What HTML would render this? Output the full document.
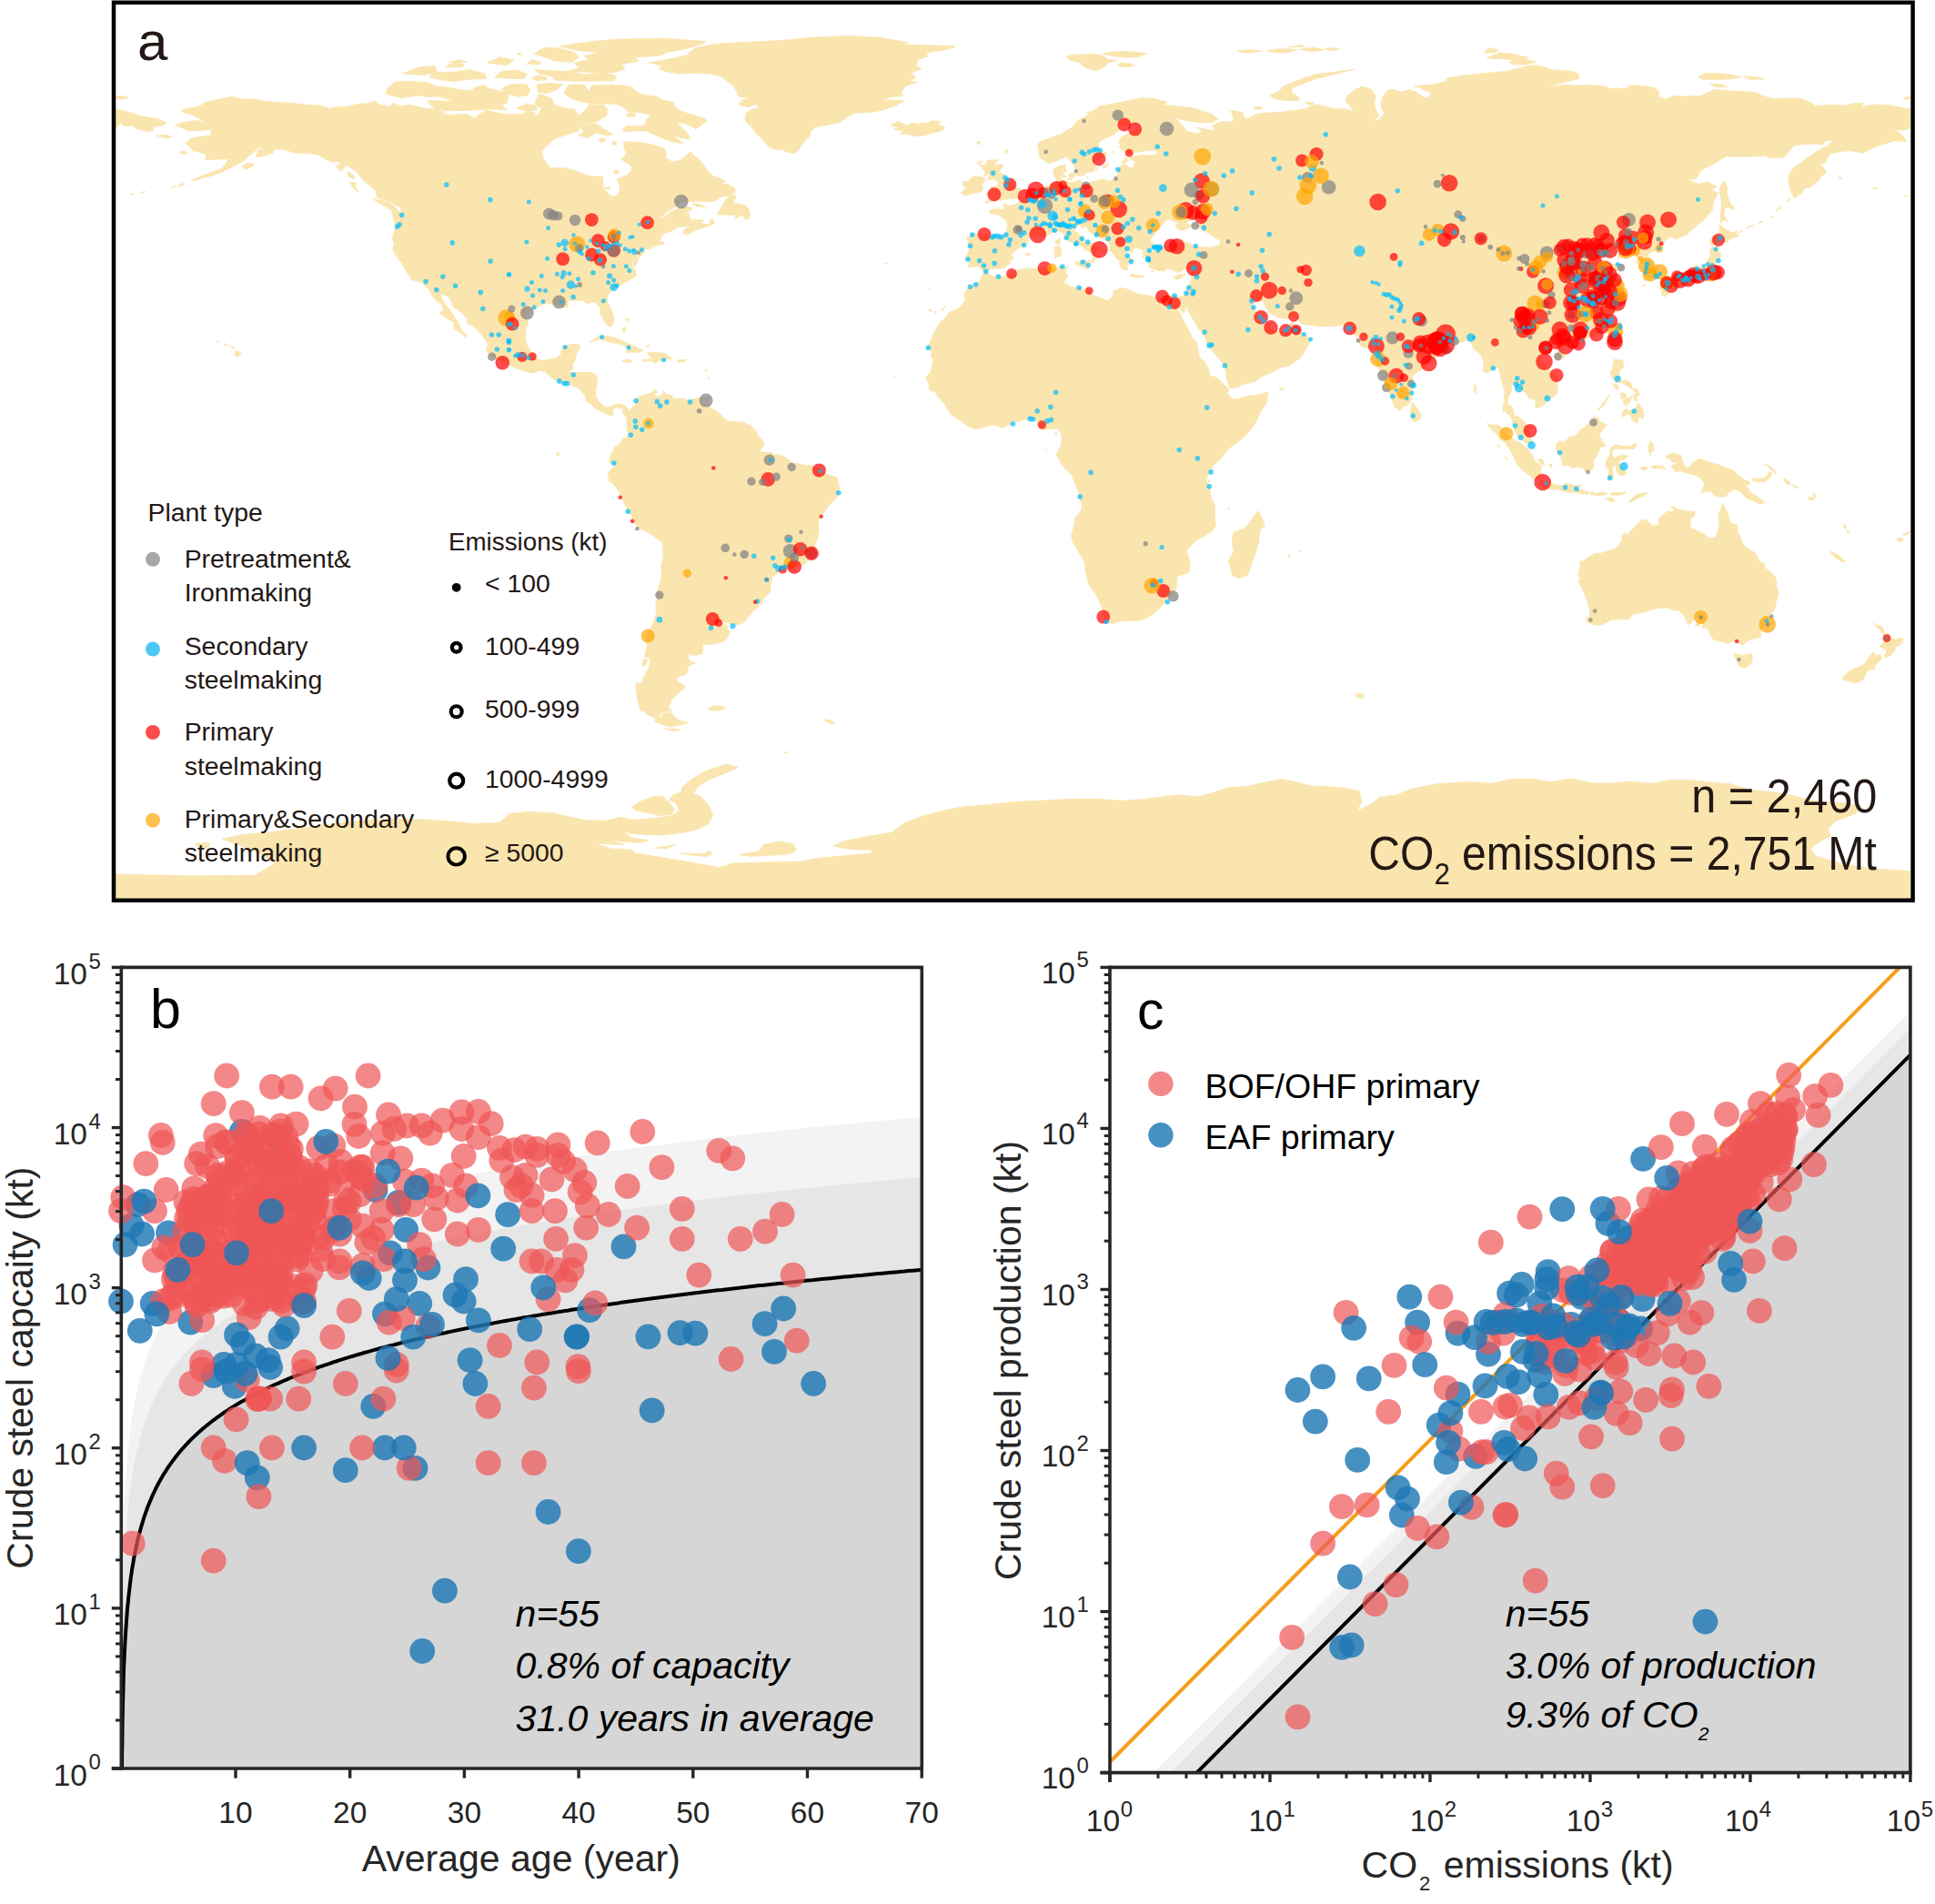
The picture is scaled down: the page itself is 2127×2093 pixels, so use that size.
<!DOCTYPE html><html><head><meta charset="utf-8"><title>Figure</title><style>html,body{margin:0;padding:0;background:#fff}svg{display:block}</style></head><body><svg width="2127" height="2093" viewBox="0 0 2127 2093" font-family="'Liberation Sans', Arial, sans-serif">
<defs><clipPath id="mapclip"><rect x="125" y="3" width="1977.5" height="986.5"/></clipPath></defs>
<rect width="2127" height="2093" fill="#fff"/>
<g clip-path="url(#mapclip)">
<path fill="#FAE5AE" stroke="#FAE5AE" stroke-width="0.8" stroke-linejoin="round" d="M192.2,137.7 201.0,134.4 215.8,132.3 226.7,135.0 217.4,129.5 211.9,126.3 199.3,122.7 202.6,119.7 219.1,117.0 225.6,112.6 239.3,109.3 255.2,106.3 266.7,109.1 280.4,109.1 291.4,111.2 305.1,112.6 324.3,113.7 340.7,115.6 351.7,115.9 362.6,119.4 370.9,117.5 381.8,117.0 395.5,114.2 403.7,113.7 412.0,111.0 417.4,115.3 428.4,117.0 432.2,113.2 439.4,116.4 450.3,115.3 466.8,119.2 480.5,119.7 488.7,123.5 483.2,125.4 499.6,126.3 513.3,125.2 521.6,130.1 527.0,125.2 535.3,121.9 529.8,119.7 546.2,124.1 557.2,125.7 573.6,125.7 579.1,121.9 587.3,123.3 590.1,128.4 595.5,119.2 587.3,113.7 592.8,103.3 606.5,108.2 609.2,115.3 617.5,117.5 622.9,119.7 631.2,119.7 636.6,127.3 644.9,119.2 647.6,114.8 664.0,115.3 667.9,120.3 666.8,127.3 655.8,133.9 642.1,135.5 636.6,139.4 636.6,143.7 617.5,149.7 609.2,153.0 601.0,160.1 595.5,165.6 597.2,174.9 604.9,184.7 620.2,184.7 631.2,187.4 647.6,193.4 662.4,194.5 662.9,206.5 666.8,210.9 672.3,215.8 677.7,215.8 681.6,209.2 680.5,201.1 677.7,197.2 688.7,192.9 694.2,187.4 693.6,181.9 683.2,175.4 688.7,168.3 686.0,162.8 686.0,155.7 699.7,156.3 710.6,157.4 718.8,159.6 729.8,162.8 732.5,168.3 731.4,173.8 739.1,178.1 749.0,175.4 754.5,171.0 758.8,166.1 762.7,171.0 769.3,176.5 774.7,183.0 777.5,187.4 783.0,192.9 790.1,195.6 798.3,199.4 791.2,201.1 801.0,203.2 807.6,206.5 808.2,210.9 803.8,214.7 792.8,216.3 784.6,221.3 773.6,221.5 759.9,221.5 749.0,221.8 743.5,226.7 735.3,231.1 729.8,236.6 723.2,240.4 729.8,239.3 738.0,232.2 749.0,227.8 759.9,227.8 761.0,229.5 754.5,233.8 750.1,233.8 757.2,234.9 758.3,239.3 759.9,243.1 763.8,244.7 773.6,245.8 779.1,246.9 782.4,239.3 785.7,244.7 779.1,248.6 765.4,252.4 754.5,258.4 750.6,256.2 751.7,252.9 759.9,248.6 751.7,249.1 745.1,249.7 738.0,254.0 729.8,256.8 726.0,261.1 726.5,263.3 724.3,264.9 729.8,266.6 729.8,268.2 724.3,269.3 718.8,270.4 709.5,272.0 718.8,272.0 708.4,274.2 707.9,277.5 702.9,283.0 699.7,280.2 701.9,285.7 699.1,290.6 696.9,293.9 695.3,285.7 694.2,281.9 694.7,293.9 697.5,296.1 699.7,303.2 694.2,306.4 686.5,310.8 679.4,314.6 670.6,320.6 667.3,326.6 667.9,332.1 671.7,340.3 675.0,348.5 674.5,355.0 672.3,358.3 669.0,358.9 665.1,353.9 659.7,344.1 660.2,338.7 654.7,332.6 651.4,332.1 646.0,333.7 639.4,329.9 631.2,330.5 624.0,330.5 624.6,337.0 623.5,337.8 617.5,337.0 610.3,334.8 601.0,333.5 594.4,335.4 590.1,338.7 581.8,343.6 579.6,349.6 580.7,354.5 578.0,362.1 577.5,373.1 580.2,381.2 585.1,389.4 588.4,393.3 595.5,396.5 603.8,394.9 610.3,394.3 616.4,390.0 618.0,381.2 628.4,378.5 636.1,378.5 637.7,382.3 633.9,387.8 632.3,396.0 629.5,400.4 629.5,405.8 626.2,409.1 631.7,409.6 642.1,409.1 651.4,409.6 656.9,414.0 655.8,422.2 654.7,430.4 654.7,435.8 658.6,441.3 662.9,445.7 666.8,447.9 670.6,447.3 675.5,444.8 680.5,443.8 686.5,445.7 689.5,448.7 686.5,456.6 683.8,452.2 685.4,450.0 677.7,447.3 672.8,450.6 675.0,455.5 670.1,456.6 665.7,454.4 659.1,451.1 654.7,449.5 649.2,443.5 647.1,443.5 643.2,439.1 643.8,435.3 637.7,428.7 632.8,424.9 628.4,423.8 620.2,421.1 612.0,418.9 607.6,416.2 598.8,408.5 593.3,407.4 584.6,410.2 573.6,406.9 565.9,404.2 555.0,398.2 546.2,396.0 541.8,391.6 535.3,386.7 534.2,384.5 536.4,378.5 530.3,369.2 521.6,359.4 513.9,355.6 513.3,350.1 507.3,343.6 498.5,337.6 493.6,326.6 484.3,322.3 484.8,326.6 487.6,332.1 494.2,340.3 499.6,348.5 503.5,353.9 506.8,362.1 513.3,368.7 511.1,370.9 509.0,367.6 499.1,361.6 498.5,353.9 490.9,350.1 483.2,344.1 487.6,340.3 485.4,334.8 478.8,329.9 474.4,323.9 471.7,318.4 464.6,311.4 464.0,310.3 452.5,307.5 445.4,296.1 442.1,289.5 439.4,286.8 435.0,280.8 431.7,275.3 433.3,268.2 431.1,262.2 433.9,252.9 433.9,243.6 430.0,231.6 439.4,232.2 442.1,236.6 440.5,228.4 437.7,226.7 429.5,222.9 420.2,218.5 414.7,217.4 413.1,210.3 406.5,203.8 399.4,198.3 395.5,192.9 390.0,187.4 381.8,181.9 370.9,177.6 365.4,178.1 358.8,175.4 348.9,169.9 338.0,168.3 324.3,168.3 313.3,164.5 302.4,163.9 299.6,168.3 291.4,171.0 281.5,172.7 283.2,165.6 291.4,161.7 283.2,162.8 277.7,168.3 272.2,172.7 268.4,176.5 258.5,181.9 247.6,187.4 233.9,192.9 222.9,195.6 211.9,197.8 220.2,194.0 231.1,190.1 244.8,184.7 250.3,176.5 253.0,174.9 244.8,174.9 233.9,175.4 225.6,175.9 226.7,170.5 222.9,168.3 211.9,165.6 207.6,160.1 203.7,157.4 210.3,151.9 220.2,150.3 231.1,149.2 232.2,143.7 231.1,142.1 220.2,143.7 207.0,143.7 201.0,141.0ZM689.5,448.7 692.3,452.2 695.3,447.3 699.1,444.6 699.4,439.1 703.2,435.6 706.8,434.2 713.9,432.8 720.8,427.9 722.7,431.5 719.1,432.8 721.0,436.1 724.3,435.8 728.7,433.7 729.8,429.3 730.9,433.1 738.6,434.7 740.8,438.6 746.8,438.0 751.4,438.0 756.1,440.8 758.8,440.2 761.6,438.6 768.7,437.5 774.2,437.5 770.4,440.2 772.0,442.4 775.8,442.4 780.2,446.8 781.9,449.5 785.7,450.6 792.8,456.0 794.5,458.8 799.9,463.1 811.2,463.7 817.5,464.2 826.8,469.1 830.1,473.0 833.9,479.5 839.4,486.1 839.4,490.4 835.0,495.9 837.8,497.0 848.2,497.5 850.4,499.7 855.8,499.7 861.3,501.9 869.0,506.8 870.6,509.6 875.0,509.0 884.3,511.7 891.5,511.5 899.7,514.5 902.4,516.1 909.0,521.6 916.1,523.7 920.2,524.8 921.6,531.4 922.7,534.9 922.1,539.9 920.0,546.7 917.8,548.9 913.9,553.2 910.4,555.7 907.4,561.4 902.4,566.9 899.7,572.3 899.7,576.7 900.2,582.2 899.1,588.7 898.6,592.5 895.8,597.5 895.3,602.9 892.6,606.7 889.3,612.2 888.7,616.0 883.8,620.9 876.7,621.5 869.0,622.6 864.6,625.8 859.7,626.9 853.6,630.8 848.7,634.6 847.1,642.8 847.3,646.6 846.0,651.5 841.0,655.9 838.3,660.8 833.9,666.8 827.9,671.4 820.8,680.2 817.5,684.3 812.3,686.7 805.4,686.5 796.7,684.0 793.4,681.5 793.6,684.8 799.9,688.6 799.1,691.9 802.7,694.1 798.0,703.4 791.7,706.7 779.1,708.8 772.5,707.7 772.5,714.3 772.0,718.7 763.8,720.6 757.2,718.7 756.7,722.5 757.7,726.3 764.9,729.0 761.0,730.1 756.9,732.3 755.6,738.9 753.4,741.6 746.2,743.2 743.5,747.1 746.2,750.3 752.3,753.1 752.5,756.6 744.6,762.3 742.4,765.1 738.0,769.4 734.7,777.6 738.6,781.7 732.5,782.5 724.9,784.2 724.9,789.6 722.7,790.2 716.1,787.5 710.6,784.7 707.9,781.5 704.0,780.9 702.4,774.4 700.8,768.9 699.7,762.3 699.1,756.9 699.1,750.9 705.1,751.4 707.9,744.3 710.6,738.9 713.4,733.4 714.5,726.9 713.6,722.5 709.0,722.5 709.5,717.0 711.2,711.6 710.6,706.1 710.1,701.7 710.1,699.0 712.5,696.6 714.5,691.4 716.6,688.1 719.1,682.1 720.8,676.4 721.6,670.6 720.8,661.3 722.4,659.4 721.6,653.1 724.6,643.9 726.5,637.9 727.1,632.4 727.6,625.0 726.5,622.0 728.7,616.0 729.0,606.2 728.2,596.9 722.7,592.5 715.0,587.1 707.9,583.3 701.3,580.0 695.8,572.3 694.2,566.9 690.6,561.7 687.6,556.0 684.9,550.5 682.7,545.6 680.5,540.1 676.1,534.1 672.3,530.3 669.0,528.7 669.5,524.3 667.7,521.5 670.1,517.2 673.4,514.5 675.3,513.4 675.5,508.5 673.4,510.1 669.8,507.9 670.9,501.4 672.8,497.5 674.5,495.4 674.7,491.5 676.9,490.7 681.6,487.7 683.8,482.2 688.7,481.7 690.9,474.9 688.7,473.0 689.5,465.9 688.7,462.0 689.2,459.3 686.5,456.6ZM737.5,783.4 727.6,784.7 727.1,788.6 718.8,791.3 721.6,794.0 729.8,797.3 738.0,798.9 747.3,797.3 756.7,794.3 749.0,792.4 743.5,790.2 739.7,785.8ZM778.0,778.7 784.6,776.0 795.6,776.5 796.7,778.5 791.2,780.9 781.9,780.9ZM905.2,790.7 913.4,791.8 917.2,794.8 914.5,795.7 907.9,792.9ZM707.9,724.1 711.2,724.7 710.6,730.7 706.2,732.3 706.8,728.0ZM713.4,68.9 740.8,64.0 757.2,60.2 757.2,57.5 765.4,52.5 784.6,48.7 812.0,46.5 839.4,45.5 866.8,43.8 894.2,41.1 932.6,39.4 965.4,41.1 981.9,43.8 998.3,47.1 992.8,49.3 1020.2,49.8 1047.6,50.4 1050.4,51.5 1036.7,55.3 1017.5,58.0 1020.2,61.8 1009.3,65.7 1006.5,71.7 1013.1,76.0 1001.1,79.8 1006.5,85.3 1001.1,89.1 1009.3,90.2 995.6,94.6 990.1,101.7 992.8,105.5 979.1,106.6 968.2,110.4 981.9,109.9 993.9,111.0 984.6,115.9 970.9,120.8 957.2,123.5 940.8,124.1 932.6,127.9 924.3,133.9 913.4,136.6 907.4,137.7 896.9,139.4 891.5,143.7 890.4,149.2 884.9,154.7 880.5,160.1 877.8,165.0 872.8,168.6 865.2,167.2 859.7,164.5 850.4,163.9 844.9,160.7 840.5,156.3 835.6,150.8 830.1,145.4 826.8,139.9 820.2,134.4 819.1,130.1 820.2,124.6 825.7,120.8 833.9,118.1 831.2,114.8 817.5,112.1 814.7,109.9 825.7,108.2 812.0,106.1 809.3,100.0 806.5,94.6 798.3,88.6 792.8,83.7 779.1,80.9 762.7,80.4 746.2,80.9 732.5,78.8 724.3,75.5 727.1,72.2ZM813.1,115.9 823.0,117.5 829.0,115.3 820.2,112.1 812.5,113.2ZM1254.8,107.7 1266.8,108.2 1283.3,112.1 1277.8,115.3 1294.2,117.0 1310.7,118.6 1332.6,125.7 1339.2,131.2 1332.6,134.4 1321.6,135.0 1305.2,132.8 1291.5,129.5 1302.5,141.0 1304.7,144.3 1316.2,147.0 1321.6,144.3 1315.1,139.9 1331.5,143.2 1335.3,143.2 1332.6,137.7 1343.6,133.4 1354.5,134.4 1355.6,130.1 1353.4,121.9 1350.7,120.8 1365.5,123.5 1368.2,130.1 1373.7,130.1 1379.2,126.3 1387.4,124.6 1406.6,123.0 1409.3,123.5 1417.5,121.9 1428.5,120.8 1436.7,119.2 1444.9,114.8 1450.4,115.3 1466.9,119.7 1477.8,119.7 1488.8,123.0 1483.3,115.9 1479.5,111.0 1480.6,105.5 1488.8,99.0 1497.0,95.1 1508.0,98.4 1512.3,105.5 1510.7,113.7 1512.3,120.8 1516.2,127.3 1508.0,133.9 1516.2,131.2 1521.7,124.6 1518.9,119.2 1517.8,113.7 1520.6,105.5 1524.4,100.0 1529.9,97.9 1539.7,101.1 1543.6,100.6 1549.1,98.4 1556.2,101.1 1562.8,105.5 1568.2,108.2 1573.7,102.8 1560.0,96.2 1554.5,94.6 1576.5,93.0 1590.2,89.1 1590.2,85.9 1612.1,82.6 1634.0,80.4 1655.9,78.2 1666.9,75.5 1685.0,71.7 1697.0,73.3 1705.2,76.6 1727.2,78.2 1735.4,81.5 1735.4,86.4 1713.5,91.9 1697.0,96.2 1718.9,93.5 1732.6,94.0 1746.3,93.5 1762.8,94.6 1768.3,97.3 1787.4,97.3 1792.9,93.5 1806.6,94.6 1817.6,96.2 1823.1,100.0 1823.1,106.6 1831.3,109.3 1839.5,105.0 1847.7,106.1 1858.7,105.5 1869.6,105.5 1879.5,100.6 1885.0,98.4 1891.6,99.0 1913.5,100.6 1929.9,101.7 1938.1,105.5 1949.1,108.8 1962.8,108.2 1979.2,108.2 1990.2,112.6 1995.7,116.4 2012.1,115.3 2028.6,115.9 2036.8,113.7 2047.7,113.2 2047.7,119.2 2050.5,116.4 2061.4,114.8 2077.9,115.9 2094.3,119.2 2099.8,119.4 2099.8,141.0 2091.6,143.2 2083.4,142.6 2077.9,141.5 2086.1,144.8 2091.6,149.2 2096.0,155.7 2083.4,154.7 2069.7,158.5 2058.7,162.8 2047.7,168.3 2034.0,165.6 2023.1,166.7 2012.1,168.8 2008.3,173.8 2006.6,179.2 2001.2,180.3 2007.7,189.0 2000.1,195.6 2001.2,196.7 1990.2,205.4 1983.1,207.1 1980.9,212.0 1972.1,218.0 1968.3,209.2 1966.1,201.1 1966.1,192.9 1971.0,184.7 1979.2,179.2 1990.2,171.0 1998.4,165.6 2009.4,160.1 2014.9,154.7 2006.6,154.7 2003.9,159.0 1991.8,157.9 1979.2,159.0 1972.1,160.1 1962.8,171.0 1960.1,172.7 1946.4,173.8 1939.8,171.0 1927.2,172.1 1910.7,172.1 1897.0,172.1 1883.3,180.3 1869.6,187.4 1864.2,196.7 1854.3,197.2 1866.9,202.2 1877.9,200.0 1887.2,205.4 1880.6,209.2 1888.3,212.0 1883.3,222.9 1882.2,231.1 1872.4,242.0 1861.4,251.3 1853.2,258.4 1842.2,262.8 1836.8,260.0 1829.6,264.9 1824.2,270.4 1824.2,273.1 1812.1,278.6 1811.6,281.9 1817.0,285.7 1822.5,293.9 1823.1,299.3 1822.0,303.7 1814.8,305.9 1806.6,308.6 1805.5,302.1 1807.2,296.6 1807.7,292.8 1807.2,290.1 1798.4,289.5 1800.0,285.1 1798.4,280.2 1794.6,278.0 1787.4,279.7 1779.8,283.5 1777.6,284.3 1779.2,280.2 1783.1,274.8 1776.5,272.6 1768.8,278.0 1760.0,281.9 1758.4,285.1 1765.0,289.5 1765.5,292.8 1772.6,290.6 1776.5,290.1 1785.2,291.7 1784.2,294.4 1774.8,298.2 1772.6,299.3 1767.2,304.8 1772.6,308.6 1775.9,315.7 1780.9,321.7 1781.4,327.2 1773.7,330.5 1780.9,332.6 1779.8,341.4 1774.8,343.6 1769.4,353.9 1761.1,362.1 1752.9,368.7 1739.8,373.6 1735.4,374.7 1726.1,378.0 1718.9,380.1 1718.4,385.1 1715.1,385.1 1714.6,379.1 1708.0,378.0 1705.2,378.5 1698.7,382.3 1693.2,392.2 1697.0,399.3 1702.5,405.8 1710.2,412.4 1712.4,422.2 1711.8,430.4 1710.7,433.7 1705.2,437.5 1699.8,439.7 1698.1,444.6 1689.9,448.4 1687.7,448.9 1688.3,441.3 1686.1,439.1 1680.6,438.0 1677.3,432.0 1673.5,429.3 1666.9,426.6 1666.3,422.7 1664.1,422.2 1661.4,423.3 1661.4,430.4 1658.7,435.8 1657.0,440.2 1657.6,445.1 1660.9,445.7 1663.0,450.6 1664.7,456.6 1670.7,459.3 1674.0,462.0 1680.0,469.7 1680.6,475.2 1682.8,482.8 1685.0,488.3 1680.6,488.8 1675.1,485.0 1668.5,480.1 1664.7,473.0 1663.0,466.4 1661.9,460.4 1659.2,456.6 1653.7,452.2 1652.1,452.8 1652.1,446.8 1653.7,441.3 1653.2,435.8 1654.3,430.4 1651.5,422.2 1650.4,416.7 1648.8,411.3 1648.2,405.8 1644.4,403.1 1640.6,406.4 1635.6,409.6 1630.2,408.5 1631.3,400.4 1629.6,393.8 1626.3,387.8 1622.5,386.2 1619.2,382.3 1616.5,374.1 1612.1,372.5 1609.3,375.8 1606.6,376.3 1601.1,377.4 1596.2,377.4 1590.2,378.5 1589.6,382.3 1588.5,385.1 1581.9,388.3 1578.7,392.2 1571.0,398.7 1564.4,405.3 1558.4,409.1 1552.9,412.4 1552.3,419.5 1553.4,424.4 1551.3,431.5 1551.3,439.7 1547.4,445.1 1541.9,447.3 1538.4,451.8 1532.6,446.8 1531.0,441.3 1528.2,433.1 1523.3,425.5 1519.5,415.1 1517.8,411.3 1515.1,403.1 1512.3,392.2 1511.8,384.0 1511.2,378.0 1510.7,374.7 1509.1,380.1 1502.5,382.9 1497.0,381.2 1491.5,374.1 1498.1,372.0 1491.5,370.3 1488.8,367.0 1482.8,364.9 1480.0,360.5 1477.8,357.2 1466.9,358.3 1453.2,358.9 1450.4,358.9 1439.5,357.2 1430.1,356.1 1425.8,349.6 1421.9,347.9 1413.2,350.7 1403.8,348.5 1395.6,344.1 1391.8,338.1 1388.5,332.1 1381.9,329.9 1379.2,332.1 1376.4,335.4 1379.2,340.3 1381.9,345.8 1387.4,350.1 1388.5,351.8 1390.7,356.7 1391.8,361.0 1391.8,356.7 1394.0,353.4 1396.2,358.3 1394.5,362.1 1401.1,363.8 1409.3,364.3 1412.1,362.1 1416.4,357.8 1420.8,353.9 1422.5,352.3 1421.9,359.4 1425.8,364.9 1434.5,367.0 1441.1,373.1 1435.6,384.0 1430.1,392.7 1423.0,398.2 1414.8,403.1 1409.9,403.1 1399.5,408.5 1387.4,414.0 1379.2,419.5 1365.5,422.7 1360.0,426.0 1351.8,426.6 1350.1,422.2 1347.9,414.0 1347.4,405.8 1343.6,398.7 1338.1,392.2 1331.5,384.0 1327.7,378.5 1324.4,370.3 1317.8,362.1 1313.4,353.9 1306.3,343.0 1304.9,334.8 1301.1,344.4 1297.0,340.3 1291.8,332.4 1290.4,325.3 1298.6,326.1 1301.4,325.0 1303.6,321.2 1305.2,316.8 1307.9,310.8 1310.1,307.0 1309.6,301.5 1311.8,296.1 1311.8,294.4 1307.9,296.1 1302.5,295.5 1297.0,298.8 1293.1,299.3 1288.8,296.6 1281.6,294.7 1280.5,297.7 1273.4,297.7 1267.9,295.5 1263.6,293.9 1262.5,289.0 1258.6,286.8 1261.4,286.2 1260.3,283.0 1256.4,280.2 1257.0,277.5 1264.1,275.3 1272.3,275.3 1275.1,273.4 1273.1,270.9 1280.5,271.5 1286.0,270.4 1290.4,267.7 1297.0,266.6 1305.2,266.3 1310.7,269.9 1312.3,270.4 1318.9,271.5 1331.0,272.0 1340.8,269.3 1341.4,263.9 1334.2,260.6 1331.0,257.8 1322.7,253.5 1317.8,250.2 1314.5,248.6 1318.9,244.7 1323.3,240.9 1328.2,238.7 1321.6,238.7 1318.9,239.0 1313.4,240.9 1306.8,242.6 1304.1,244.7 1305.2,246.4 1312.9,248.0 1307.4,250.2 1301.9,252.9 1297.5,253.5 1291.5,248.0 1297.5,244.2 1291.5,244.2 1286.0,241.5 1281.6,242.0 1276.2,249.1 1270.7,255.7 1266.8,260.0 1264.1,263.9 1266.8,267.1 1272.3,270.7 1266.8,272.0 1264.1,272.3 1259.7,275.3 1257.0,277.2 1255.9,274.2 1250.4,272.6 1247.1,272.6 1244.9,275.3 1244.4,277.5 1241.1,276.4 1238.9,274.5 1237.2,277.5 1239.4,281.3 1238.9,283.5 1242.2,285.7 1245.2,290.3 1242.2,288.4 1239.4,289.0 1240.5,292.2 1238.3,291.1 1240.0,296.6 1236.7,296.9 1232.3,295.0 1230.1,289.5 1232.3,286.8 1229.0,286.2 1226.8,283.5 1224.1,279.7 1222.5,277.5 1219.4,275.0 1220.3,270.4 1219.7,267.1 1214.8,263.9 1203.8,258.4 1196.7,254.6 1195.1,250.2 1192.3,248.6 1189.6,251.3 1187.9,247.5 1181.4,248.0 1180.8,250.7 1180.8,254.0 1187.4,257.8 1191.2,263.9 1196.7,267.1 1202.2,267.1 1200.5,269.3 1206.6,271.5 1212.0,274.2 1214.8,277.0 1214.0,278.6 1211.5,275.9 1207.7,274.8 1204.4,277.0 1203.8,279.1 1207.4,283.0 1203.8,284.6 1201.6,288.7 1199.2,288.4 1200.5,285.1 1201.6,283.0 1199.4,277.5 1195.6,276.4 1194.5,274.0 1191.8,274.2 1191.2,272.9 1188.5,270.7 1182.4,269.6 1180.3,267.9 1174.2,264.4 1170.9,261.4 1169.8,258.4 1167.1,255.1 1162.2,253.5 1158.3,255.7 1154.5,256.8 1149.6,260.0 1143.0,259.5 1135.3,258.4 1130.9,260.0 1130.1,263.3 1131.5,264.9 1125.5,270.1 1118.3,273.7 1111.8,280.2 1114.5,284.3 1110.7,286.8 1109.6,290.3 1103.0,294.2 1101.3,295.2 1089.3,295.5 1084.1,298.5 1082.7,299.3 1078.9,296.3 1075.6,292.8 1072.8,292.8 1064.6,293.9 1065.2,286.2 1061.3,284.3 1062.4,280.8 1064.6,276.4 1065.7,270.9 1064.6,266.0 1062.4,261.1 1067.9,258.4 1071.2,256.9 1081.6,257.6 1092.6,258.4 1103.5,258.9 1105.2,258.4 1106.8,252.4 1107.4,247.2 1106.8,243.6 1101.3,238.2 1098.1,236.6 1089.3,234.9 1087.1,231.6 1094.2,229.5 1102.4,230.3 1104.6,230.3 1103.0,224.5 1106.3,224.5 1107.4,226.4 1113.9,225.6 1121.6,222.4 1122.2,219.1 1123.5,217.7 1127.1,216.9 1132.0,215.3 1135.3,212.5 1139.2,206.8 1143.0,205.4 1151.2,204.3 1157.2,202.7 1160.5,201.6 1162.2,200.5 1160.5,196.1 1158.3,192.9 1157.8,187.4 1160.5,184.1 1171.2,180.6 1170.9,184.7 1173.1,188.0 1169.3,189.6 1167.1,192.9 1165.5,195.6 1167.7,196.7 1168.7,198.9 1173.7,198.9 1173.1,201.1 1179.7,200.2 1186.8,197.8 1191.2,201.6 1202.2,199.4 1213.7,196.7 1215.9,198.9 1222.5,198.6 1229.0,191.8 1228.5,187.4 1231.8,181.9 1237.2,180.6 1240.5,184.1 1245.5,184.4 1247.1,179.8 1247.7,177.0 1242.2,175.4 1242.2,172.7 1249.0,171.3 1255.9,170.5 1266.8,171.0 1272.3,168.8 1278.9,168.6 1272.3,167.2 1269.6,165.0 1261.4,165.6 1250.4,167.2 1239.4,169.1 1235.6,166.1 1230.7,162.8 1231.2,159.6 1230.1,154.7 1231.8,151.4 1238.9,147.6 1247.7,142.6 1252.6,141.0 1252.0,138.3 1246.0,136.6 1235.1,137.7 1231.2,141.0 1229.6,143.7 1224.6,147.6 1215.9,151.9 1211.5,154.1 1208.2,155.7 1207.7,159.6 1207.4,164.5 1215.3,167.2 1217.0,169.4 1212.6,172.1 1209.8,174.9 1204.4,175.9 1204.9,181.4 1203.3,186.3 1201.1,189.0 1194.5,189.3 1191.8,192.6 1184.6,193.4 1184.1,192.3 1183.0,189.9 1183.5,186.9 1179.2,180.9 1174.8,174.3 1171.5,172.7 1172.0,168.8 1169.3,173.8 1165.5,174.9 1157.2,178.7 1151.8,179.2 1144.6,174.3 1141.9,171.0 1142.4,166.1 1140.8,162.8 1140.8,157.9 1142.4,156.3 1149.0,153.6 1155.6,151.4 1162.2,148.6 1166.0,148.1 1172.0,143.7 1176.4,141.5 1180.3,138.3 1182.4,134.4 1187.4,130.6 1192.3,128.4 1198.9,125.2 1192.9,123.5 1201.1,122.4 1203.8,120.3 1209.3,116.4 1217.5,115.3 1225.7,113.7 1234.0,112.1 1242.2,110.4ZM127.0,119.4 140.7,123.0 154.4,127.3 165.4,129.5 173.6,130.6 182.9,135.0 179.1,137.7 169.2,139.4 168.1,143.7 162.6,144.8 151.7,142.1 146.2,138.3 135.2,138.3 132.5,134.4 129.2,139.4 127.0,141.0ZM1290.4,325.3 1283.3,323.9 1277.8,325.0 1272.3,327.7 1262.5,324.5 1251.5,323.4 1244.4,320.6 1240.0,317.9 1232.3,316.3 1223.5,320.6 1223.0,326.6 1217.5,330.5 1209.3,327.2 1204.4,325.5 1197.2,321.7 1196.7,319.0 1185.7,316.3 1176.4,315.2 1173.1,312.4 1168.7,310.8 1172.6,306.4 1174.2,303.2 1171.5,300.4 1171.5,297.2 1174.2,293.6 1169.3,295.0 1167.7,292.2 1160.5,294.2 1156.1,294.4 1151.2,294.4 1141.3,295.2 1130.4,295.0 1118.9,296.6 1110.1,301.0 1102.4,304.3 1097.2,303.2 1091.5,303.7 1084.4,299.9 1081.1,300.4 1078.9,305.3 1076.1,310.3 1071.8,312.4 1066.3,314.6 1062.4,318.4 1059.7,323.9 1060.8,329.9 1057.5,335.9 1052.6,339.7 1042.7,343.6 1040.0,348.5 1033.9,353.9 1026.3,366.5 1023.0,374.1 1020.0,382.3 1024.6,386.7 1023.0,390.0 1025.7,397.1 1023.0,408.5 1017.5,415.6 1021.3,422.2 1021.3,428.2 1027.9,430.9 1031.2,436.4 1038.3,444.0 1041.1,449.5 1044.9,455.5 1050.9,458.8 1054.2,461.5 1062.4,467.5 1071.8,472.1 1080.5,469.7 1091.5,467.2 1097.5,468.6 1102.4,470.0 1112.3,465.6 1120.0,462.6 1126.6,461.2 1132.0,461.0 1138.1,461.5 1140.8,464.8 1144.1,470.8 1146.8,472.4 1151.8,471.9 1158.9,471.3 1162.2,471.3 1165.5,474.6 1167.1,479.5 1167.1,483.3 1166.0,490.4 1164.4,493.7 1161.1,499.7 1164.4,505.2 1166.0,509.0 1170.9,515.0 1174.2,517.7 1178.1,522.1 1180.3,527.6 1180.8,529.2 1183.5,535.8 1186.8,542.3 1185.7,543.9 1189.0,554.3 1189.0,559.8 1186.8,563.6 1181.9,569.1 1180.3,578.9 1178.1,586.5 1177.8,590.1 1179.2,595.3 1184.6,605.1 1192.3,617.7 1192.9,621.2 1192.9,626.9 1195.6,637.9 1196.4,641.4 1203.5,652.1 1206.6,657.0 1211.5,667.9 1213.7,673.9 1211.5,675.0 1214.2,681.0 1214.5,683.5 1216.4,682.6 1219.2,684.3 1223.0,686.1 1227.9,683.7 1234.5,682.6 1241.6,682.1 1249.3,682.6 1254.2,681.5 1259.2,679.9 1266.3,676.1 1271.2,671.7 1276.7,666.3 1282.7,659.7 1283.6,658.9 1287.7,653.7 1292.0,648.8 1293.7,642.8 1293.7,637.9 1293.7,634.6 1297.5,632.4 1306.3,629.7 1307.9,626.4 1307.9,616.6 1306.8,613.3 1304.7,608.4 1304.4,604.3 1310.1,599.1 1315.6,593.6 1322.7,589.8 1332.1,584.4 1336.4,577.8 1335.9,572.3 1335.3,566.9 1335.3,556.0 1334.8,553.2 1331.5,547.8 1329.9,539.6 1328.8,533.0 1326.0,528.7 1327.1,524.3 1328.2,521.6 1330.7,518.0 1333.1,512.3 1337.5,508.5 1341.4,505.2 1346.3,498.1 1354.5,489.9 1361.9,484.7 1368.2,479.5 1375.9,471.3 1381.4,463.1 1385.2,453.3 1389.6,446.8 1391.8,444.0 1392.9,439.1 1393.4,434.7 1394.2,431.2 1390.1,431.7 1381.9,434.2 1373.7,435.0 1365.5,436.9 1360.0,438.8 1354.5,438.6 1350.7,433.7 1349.6,432.6 1346.8,432.8 1350.7,430.4 1349.6,426.6 1345.8,423.3 1340.8,417.8 1336.4,414.5 1331.0,413.5 1329.6,410.7 1327.7,404.2 1324.4,397.6 1318.9,393.8 1317.3,388.9 1316.7,381.2 1315.1,375.8 1309.6,370.3 1307.9,364.9 1304.7,359.4 1301.4,353.4 1298.6,347.4 1297.0,343.6 1294.2,339.2 1291.5,332.6ZM1383.3,561.4 1388.5,572.3 1390.1,579.4 1386.6,580.0 1384.1,588.7 1384.1,594.7 1379.2,610.6 1374.2,624.2 1371.5,631.9 1361.1,635.7 1354.5,632.4 1352.6,623.4 1350.1,617.1 1356.2,606.2 1354.5,598.5 1354.5,591.5 1356.7,584.4 1367.1,581.6 1372.1,576.7 1376.4,570.2 1380.8,564.1ZM1552.9,442.4 1558.4,449.5 1561.9,456.0 1560.8,461.0 1555.1,463.4 1551.8,462.0 1551.0,458.2 1550.7,452.2 1551.3,447.3 1551.3,442.9ZM1405.5,427.6 1409.3,426.6 1412.1,427.6 1408.2,428.7ZM1894.3,554.3 1899.8,565.8 1901.4,574.5 1909.6,577.3 1910.2,586.0 1912.4,588.2 1914.0,594.2 1917.9,601.0 1923.3,604.0 1928.8,607.3 1931.0,611.1 1934.3,617.7 1939.8,619.3 1939.8,624.2 1945.8,628.0 1951.3,634.0 1952.9,637.9 1952.4,644.4 1954.6,648.8 1955.1,652.3 1952.4,661.3 1951.3,667.9 1949.1,671.7 1945.3,675.5 1942.5,680.4 1940.3,684.3 1939.2,688.1 1936.5,692.5 1935.1,698.5 1935.3,700.6 1926.1,702.3 1919.0,705.6 1915.7,709.4 1910.7,706.7 1906.4,705.0 1907.5,702.8 1904.7,704.5 1899.8,707.7 1894.3,705.6 1889.4,705.0 1883.9,703.4 1879.5,697.9 1877.9,692.5 1875.1,690.3 1870.2,690.3 1872.4,686.5 1869.6,682.6 1868.3,687.5 1863.6,688.4 1866.9,682.1 1868.5,677.2 1868.5,673.4 1865.3,679.4 1861.4,681.5 1858.1,685.9 1855.9,686.5 1854.3,684.3 1851.6,677.2 1848.8,675.0 1845.5,671.2 1837.9,670.6 1832.4,667.9 1820.3,669.0 1809.4,672.3 1801.1,673.9 1794.0,676.1 1790.7,681.0 1781.4,680.8 1771.0,681.3 1766.6,684.0 1760.0,687.0 1752.9,687.0 1744.4,683.5 1743.6,679.4 1747.2,677.7 1747.7,670.6 1745.2,662.4 1743.3,657.0 1741.4,653.1 1738.7,646.0 1735.9,641.1 1734.8,639.0 1737.6,636.8 1734.8,631.9 1735.9,626.9 1737.0,621.5 1736.5,619.0 1738.9,614.9 1739.8,618.2 1743.6,613.8 1752.9,608.6 1758.9,608.4 1763.3,606.7 1769.4,605.1 1776.5,602.9 1780.9,596.9 1783.1,594.2 1783.1,588.7 1786.9,585.4 1790.7,590.4 1790.7,584.9 1795.7,580.5 1799.5,576.2 1803.9,572.3 1808.8,571.0 1813.7,575.1 1815.9,577.8 1820.3,577.3 1823.6,577.3 1823.1,571.2 1826.9,566.9 1830.5,563.9 1832.9,562.0 1836.8,562.5 1840.0,562.0 1840.0,558.7 1835.7,557.6 1840.0,556.5 1845.0,560.3 1851.6,561.4 1858.1,562.0 1863.6,562.5 1862.0,568.0 1858.1,570.7 1858.1,576.7 1855.9,577.3 1859.8,581.1 1868.0,584.4 1875.1,588.2 1878.4,591.5 1885.0,591.5 1888.3,583.8 1889.9,577.8 1889.4,571.8 1889.4,564.7 1891.0,560.9 1892.4,556.0ZM1906.4,718.1 1913.5,720.6 1917.9,720.0 1923.9,718.7 1926.1,719.5 1926.1,725.2 1924.4,730.1 1920.6,732.3 1917.9,734.0 1913.5,733.4 1910.2,729.6 1909.1,726.3 1906.4,720.9ZM2059.8,683.7 2063.1,687.0 2068.6,688.6 2071.3,694.1 2071.3,697.1 2075.1,695.7 2077.3,698.5 2079.0,701.5 2084.5,703.4 2088.8,700.9 2091.9,701.7 2090.5,706.7 2088.3,709.4 2082.8,711.6 2083.4,714.3 2079.5,719.2 2074.0,723.0 2071.3,721.7 2072.4,718.7 2073.5,715.4 2072.4,713.8 2068.6,712.1 2065.8,710.5 2067.5,708.8 2070.2,707.2 2071.3,703.4 2070.8,700.1 2069.7,697.4 2068.0,694.6 2064.2,690.3 2062.0,688.1ZM2059.8,717.0 2061.7,720.9 2066.9,719.5 2068.6,723.6 2065.3,727.4 2061.4,731.2 2060.1,733.7 2062.0,735.0 2057.6,735.6 2052.1,738.3 2050.5,742.1 2048.8,746.5 2043.9,749.8 2039.0,750.6 2036.0,750.3 2031.8,748.2 2026.4,747.6 2025.5,746.0 2027.5,742.7 2031.3,738.9 2036.2,736.1 2043.9,732.9 2049.9,729.6 2051.6,727.7 2053.8,723.9 2056.5,719.2ZM1832.7,500.5 1839.5,498.1 1847.7,500.3 1849.4,506.8 1852.7,513.9 1855.9,514.2 1861.4,507.9 1869.1,504.1 1875.1,506.8 1884.4,509.8 1887.7,510.1 1894.3,513.4 1900.6,515.3 1905.8,517.2 1912.4,524.3 1918.4,528.1 1922.8,529.2 1923.6,532.5 1919.0,532.5 1922.2,538.5 1926.1,542.9 1931.6,545.6 1935.4,548.9 1940.1,552.1 1935.4,554.0 1928.8,551.6 1920.1,547.8 1913.5,540.7 1906.9,537.9 1900.3,541.2 1897.0,546.1 1891.6,546.1 1886.1,545.6 1880.6,540.7 1875.1,540.1 1869.6,541.8 1872.4,535.8 1873.5,531.4 1869.6,525.9 1864.2,522.7 1854.3,520.2 1846.6,517.7 1842.2,518.3 1840.9,517.7 1836.8,511.7 1843.3,509.6 1845.5,508.5 1837.9,507.9 1836.2,504.6 1831.0,503.5ZM1926.1,526.5 1932.7,525.9 1938.1,525.9 1942.5,523.2 1944.2,518.8 1948.0,519.4 1946.4,524.3 1940.3,529.2 1933.2,530.3 1926.6,528.1ZM1939.2,510.1 1945.3,512.3 1950.7,517.2 1951.8,521.6 1949.6,518.8 1943.6,513.4ZM1960.6,525.4 1965.5,528.1 1968.3,533.0 1963.9,531.9 1961.2,528.1ZM1971.0,532.5 1976.5,535.8 1975.4,537.4 1971.0,534.1ZM1987.5,546.7 1994.6,547.2 1993.5,550.0 1988.6,549.4ZM1993.5,541.2 1996.8,546.7 1995.7,547.8 1992.9,542.9ZM2012.1,605.6 2020.3,610.0 2028.6,617.1 2025.8,618.2 2017.6,613.3 2012.7,607.8ZM2026.4,576.2 2029.7,578.3 2029.1,581.6 2026.9,580.5ZM2029.7,583.3 2032.9,585.4 2031.3,586.5ZM2085.0,592.0 2088.8,590.9 2092.7,593.1 2090.5,595.8 2085.6,594.7ZM2091.6,587.6 2097.1,584.9 2099.5,584.4 2097.1,587.6 2093.2,588.7ZM1714.3,484.7 1717.8,486.6 1723.3,482.8 1723.9,481.2 1732.6,478.4 1737.8,471.9 1743.1,468.6 1745.8,466.4 1749.4,463.1 1752.9,458.0 1757.3,459.9 1758.4,463.4 1760.6,464.0 1766.6,467.5 1761.7,472.4 1757.8,477.3 1760.0,483.3 1765.0,490.2 1759.5,491.5 1757.3,495.9 1756.2,499.2 1753.5,503.0 1751.3,506.8 1751.8,511.7 1749.6,517.2 1741.7,518.6 1740.9,514.5 1734.3,513.4 1727.2,514.5 1725.5,511.7 1717.3,511.7 1716.7,506.3 1715.7,502.5 1712.4,498.6 1711.5,495.9 1710.4,491.0 1710.7,487.7ZM1635.6,465.6 1642.2,467.5 1647.7,467.5 1651.5,471.3 1654.3,475.4 1660.9,480.1 1665.8,484.4 1670.7,486.6 1677.3,491.5 1680.0,493.2 1682.2,498.1 1685.5,501.9 1686.1,506.3 1688.8,508.5 1694.6,512.3 1694.3,513.9 1693.5,518.8 1693.7,527.6 1690.4,525.9 1686.6,527.6 1682.8,523.7 1674.0,517.2 1666.9,509.6 1663.3,501.4 1660.3,494.8 1656.5,490.4 1654.3,486.3 1648.8,482.8 1644.4,476.2 1640.0,473.0 1636.2,468.6ZM1689.9,533.0 1693.7,528.4 1698.7,528.9 1704.7,530.0 1708.5,532.8 1713.5,533.3 1718.4,533.8 1721.1,530.8 1724.4,532.2 1730.4,533.6 1731.3,535.2 1735.4,537.9 1740.3,538.2 1740.6,540.1 1740.3,543.4 1732.6,541.2 1725.5,541.5 1716.2,539.0 1709.6,537.9 1703.6,537.9 1697.0,536.0 1696.5,534.1ZM1731.0,534.1 1737.6,533.6 1738.7,534.7 1732.6,535.2ZM1740.6,540.4 1744.7,539.9 1747.4,541.8 1744.7,543.9 1741.4,541.8ZM1748.3,541.8 1751.3,540.7 1752.9,542.6 1750.7,544.5 1748.5,543.7ZM1753.2,542.3 1757.8,541.8 1761.7,541.2 1765.5,541.2 1766.6,543.1 1762.2,544.2 1756.2,545.3 1753.5,544.5ZM1769.9,542.3 1775.9,541.2 1782.0,541.8 1786.9,540.4 1787.4,541.8 1782.0,543.9 1775.9,544.5 1770.5,543.9ZM1765.5,547.8 1771.0,546.7 1775.4,550.5 1772.1,552.1 1766.6,549.4ZM1790.2,552.1 1795.1,546.7 1799.5,543.4 1807.2,541.8 1811.0,541.8 1806.6,545.0 1799.5,548.3 1794.0,551.6ZM1771.0,492.1 1775.4,488.8 1782.0,490.2 1790.2,490.7 1795.7,488.8 1799.5,487.2 1796.2,493.7 1787.4,493.2 1779.2,493.4 1773.7,493.2 1771.5,499.2 1775.1,503.5 1779.8,500.8 1786.3,500.8 1789.6,500.3 1789.1,501.9 1784.7,504.9 1780.3,506.5 1779.8,509.6 1783.6,514.5 1785.8,517.7 1788.0,520.5 1785.2,522.7 1782.0,522.4 1779.8,522.1 1776.5,517.7 1776.2,510.6 1772.6,513.9 1773.2,522.1 1773.2,526.2 1768.3,526.5 1767.7,523.7 1768.8,517.7 1764.4,511.2 1766.6,504.1 1769.9,500.3 1769.9,494.8ZM1812.1,490.4 1814.3,483.9 1816.5,487.7 1818.7,490.4 1815.9,492.6 1819.2,494.3 1814.8,497.0 1814.3,500.5 1812.6,495.9ZM1814.3,513.4 1820.3,511.5 1828.5,512.8 1830.7,515.6 1824.7,514.5 1817.6,515.0ZM1803.9,513.4 1809.4,512.8 1811.0,515.0 1807.2,517.2 1803.9,515.6ZM1774.3,394.9 1780.0,395.7 1783.6,396.0 1784.7,403.1 1779.8,408.5 1779.8,414.5 1782.0,418.9 1786.3,417.8 1792.4,420.6 1794.0,424.9 1793.5,427.4 1789.1,424.9 1784.7,421.6 1780.3,420.0 1776.5,421.1 1774.3,418.4 1776.2,416.5 1773.7,417.0 1771.3,415.1 1769.9,407.4 1772.6,408.3 1772.9,400.4ZM1800.6,442.7 1805.5,449.5 1807.2,456.0 1805.0,461.5 1802.2,457.7 1800.6,463.1 1799.8,465.3 1793.5,462.0 1792.9,457.1 1789.6,454.9 1783.1,458.2 1783.1,452.8 1787.4,449.5 1791.8,451.7 1794.6,450.6 1796.8,449.5 1798.9,446.8ZM1794.6,427.6 1800.0,427.6 1802.2,434.7 1798.4,435.8 1797.9,431.5ZM1795.1,433.7 1798.4,434.7 1799.5,440.2 1797.3,440.8 1795.7,436.9ZM1784.2,441.3 1788.5,436.4 1790.2,438.0 1788.5,445.7 1785.2,444.6ZM1789.6,441.3 1792.9,434.7 1793.5,436.9 1790.7,444.0ZM1781.4,431.5 1788.0,433.1 1786.3,437.5 1782.0,438.6ZM1772.6,422.7 1777.6,422.7 1779.2,427.6 1777.6,429.3 1775.4,426.6ZM1755.7,450.0 1760.0,445.7 1765.5,439.1 1768.8,434.2 1767.2,438.6 1762.8,445.7 1757.3,450.6ZM1779.5,357.8 1781.4,359.9 1779.8,364.9 1776.5,372.0 1775.7,376.3 1772.1,371.4 1771.5,367.6 1774.8,361.6 1776.5,359.4ZM1716.2,386.2 1721.7,388.9 1718.9,393.3 1713.5,396.5 1709.1,394.3 1708.8,390.5 1712.4,387.2ZM1882.5,270.7 1885.0,272.9 1887.2,270.1 1888.5,269.9 1888.3,274.2 1891.8,279.7 1889.4,286.8 1885.8,288.4 1885.8,293.9 1883.9,297.7 1885.3,300.7 1882.8,303.7 1879.8,305.3 1879.5,302.1 1878.7,304.0 1875.7,304.3 1874.3,307.0 1872.4,304.8 1870.7,307.0 1864.2,307.0 1863.6,304.8 1861.4,307.0 1863.6,308.9 1859.8,311.4 1857.3,313.3 1853.7,310.8 1854.0,308.9 1855.4,306.7 1850.5,306.4 1847.2,307.5 1839.5,308.6 1835.7,310.5 1831.0,310.5 1832.4,308.1 1835.7,306.4 1840.0,302.6 1843.9,301.8 1848.8,301.8 1854.3,300.7 1858.4,301.3 1858.7,298.2 1862.2,295.5 1862.5,292.2 1866.1,291.1 1864.2,293.3 1865.3,295.0 1870.7,293.1 1874.0,289.5 1875.4,288.7 1877.9,285.1 1879.8,282.4 1880.6,279.1 1879.0,277.8 1880.6,274.8 1880.1,274.2ZM1881.1,269.9 1885.8,267.9 1887.2,267.7 1882.8,264.9 1886.1,264.9 1889.9,263.3 1898.4,266.9 1899.2,264.9 1904.7,261.4 1912.4,259.2 1908.5,257.8 1909.9,254.0 1904.2,255.9 1897.0,252.4 1891.3,247.5 1889.6,248.0 1890.2,252.9 1889.6,256.2 1888.0,259.5 1886.1,260.0 1882.5,259.5 1883.3,261.7 1879.8,263.3 1879.5,266.6ZM1830.7,310.8 1835.1,312.4 1836.2,315.7 1835.1,318.4 1833.7,323.4 1831.8,325.0 1829.6,326.6 1828.8,323.4 1826.9,325.3 1826.9,320.6 1826.9,317.9 1824.4,317.9 1824.2,314.6 1825.3,313.0 1828.0,312.4ZM1836.8,313.8 1840.9,310.5 1845.3,310.0 1848.0,308.3 1851.0,309.2 1851.8,311.4 1848.8,314.4 1845.3,313.0 1842.2,317.4 1839.5,316.3 1839.2,313.5ZM1895.4,198.9 1898.7,206.5 1898.7,214.7 1901.4,222.9 1906.4,228.4 1906.6,230.3 1897.0,227.3 1894.6,234.9 1897.0,240.4 1900.1,243.6 1895.4,241.5 1892.1,245.3 1890.7,239.3 1891.8,233.8 1892.1,225.6 1892.1,217.4 1889.9,212.0 1891.0,204.9 1893.2,201.1ZM1805.0,314.1 1808.8,312.7 1808.8,314.1 1805.5,314.6ZM1910.7,256.8 1916.2,253.5 1913.5,252.9ZM1919.0,250.7 1928.8,247.5 1924.4,248.0ZM1932.7,246.4 1938.1,243.6 1935.4,243.6ZM1963.9,222.4 1968.8,219.1 1966.1,218.5ZM1946.4,239.3 1949.1,237.1 1947.5,237.1ZM1951.8,232.7 1957.3,228.4 1955.1,227.8ZM1620.8,422.2 1623.0,424.9 1621.9,432.6 1620.3,431.5ZM1626.9,456.0 1628.0,457.7 1627.4,458.8ZM1653.7,501.4 1657.6,505.2 1655.9,505.7ZM1645.5,488.3 1649.9,492.6 1647.2,491.5ZM1689.9,505.2 1695.4,504.6 1698.1,512.3 1694.3,510.1ZM1703.0,510.1 1706.3,510.6 1705.8,513.4 1703.6,512.8ZM1086.0,175.9 1097.0,175.7 1092.0,181.4 1102.4,180.9 1103.5,181.9 1101.9,183.9 1099.2,187.4 1099.2,188.8 1095.3,190.1 1102.4,191.2 1105.2,195.6 1107.1,197.8 1112.9,200.2 1112.3,202.7 1115.0,206.0 1114.5,207.1 1120.5,206.8 1123.0,209.2 1120.5,212.3 1118.3,213.3 1117.2,214.7 1121.1,215.5 1120.8,216.9 1118.6,218.0 1113.4,218.5 1107.4,218.8 1102.4,219.6 1100.0,220.2 1097.0,219.1 1094.2,221.3 1090.7,221.0 1085.7,222.9 1082.2,222.6 1086.0,220.7 1088.7,218.5 1090.4,216.3 1097.0,216.3 1098.6,214.7 1095.9,215.0 1091.5,214.4 1085.5,213.9 1084.4,212.5 1087.6,211.4 1090.9,209.2 1090.9,207.1 1087.4,207.6 1089.3,205.7 1088.2,204.6 1090.9,204.9 1096.4,204.6 1097.0,204.1 1097.0,201.6 1097.5,200.2 1094.8,198.6 1093.7,198.3 1094.8,196.1 1091.5,196.7 1086.5,197.5 1085.5,195.6 1087.6,192.9 1086.5,190.7 1083.3,193.7 1081.9,194.0 1082.7,190.1 1083.3,187.7 1079.4,186.3 1082.2,184.1 1081.6,181.4 1084.4,179.2 1084.4,177.9ZM1079.4,204.6 1080.5,206.8 1078.6,210.9 1075.0,211.2 1067.9,213.1 1061.3,214.7 1057.5,213.1 1056.1,211.4 1059.1,210.6 1061.3,208.7 1059.1,208.7 1061.9,206.5 1064.1,205.4 1058.1,204.1 1059.1,201.6 1058.1,200.0 1064.1,199.4 1065.7,197.8 1067.9,194.8 1073.1,193.7 1076.7,194.5 1080.2,194.5 1082.2,196.7 1083.5,198.6 1080.2,201.1ZM989.0,147.6 992.8,144.8 981.9,141.5 992.8,140.5 979.1,138.3 987.4,133.1 996.7,138.3 1002.2,135.0 1009.3,136.6 1013.1,134.7 1018.6,135.5 1024.6,132.8 1033.4,133.6 1031.7,136.9 1039.4,140.5 1033.9,144.3 1030.1,145.1 1020.2,147.6 1010.9,149.7 1002.2,148.9 997.2,147.3ZM1076.7,181.9 1079.4,180.9 1082.2,183.6 1078.9,184.1ZM1075.0,178.1 1079.4,176.5 1078.9,179.2 1073.9,180.9ZM1104.6,165.6 1107.9,164.5 1106.8,168.8 1105.2,167.8ZM1072.8,156.3 1077.8,155.7 1076.1,159.6ZM1172.0,61.8 1179.2,60.2 1190.1,60.2 1201.1,59.1 1212.0,61.3 1217.5,65.1 1228.5,66.7 1217.5,68.9 1214.8,72.8 1206.6,77.7 1195.6,75.5 1189.0,71.7 1188.5,68.9 1176.4,66.2ZM1212.0,59.1 1217.5,57.5 1234.0,56.4 1261.4,58.6 1250.4,62.9 1234.0,62.9 1220.3,61.3ZM1231.2,68.9 1242.2,70.0 1247.7,72.2 1236.7,73.8 1228.5,72.2ZM1360.0,55.8 1376.4,54.7 1387.4,56.4 1373.7,58.0 1362.7,56.9ZM1392.9,55.3 1409.3,53.6 1425.8,54.7 1414.8,58.0 1398.4,57.5ZM1428.5,54.2 1442.2,52.0 1455.9,54.7 1442.2,56.9ZM1458.6,52.5 1472.3,53.6 1466.9,55.8 1455.9,54.2ZM1414.8,52.0 1431.2,49.3 1434.0,51.5ZM1488.8,76.0 1469.6,78.8 1447.7,81.5 1431.2,86.4 1417.5,91.9 1409.3,95.7 1417.5,95.7 1423.0,95.7 1434.0,91.3 1444.9,86.9 1461.4,83.1 1475.1,79.8ZM1409.3,96.2 1406.6,100.0 1398.4,103.9 1395.6,105.0 1401.1,108.8 1412.1,110.4 1426.9,110.4 1428.5,107.1 1420.3,102.8 1419.7,98.4 1421.9,96.2ZM1434.0,112.1 1443.8,113.2 1442.2,115.3 1436.7,114.8ZM1378.1,117.5 1386.3,117.0 1387.4,119.7 1380.3,120.3ZM1634.0,64.0 1647.7,58.0 1661.4,59.1 1680.6,63.5 1664.1,66.2 1650.4,64.6ZM1658.7,68.4 1672.4,64.6 1688.8,67.8 1677.8,71.1 1661.4,70.6ZM1631.3,58.0 1636.7,52.5 1647.7,54.7 1642.2,58.0ZM1866.9,84.2 1875.1,80.4 1888.8,80.4 1902.5,82.0 1913.5,84.8 1902.5,86.9 1886.1,87.5 1872.4,87.5ZM1916.2,83.7 1932.7,84.8 1939.8,86.9 1924.4,87.5ZM1879.5,92.4 1891.6,92.4 1899.8,95.7 1886.1,95.7ZM2091.6,108.2 2099.8,105.5 2099.8,108.8 2094.3,109.3ZM127.0,105.5 135.2,105.5 140.7,107.1 135.2,108.8 127.0,108.8ZM1181.6,288.4 1186.6,287.3 1198.6,286.8 1196.1,291.1 1197.2,293.9 1196.1,295.8 1191.2,293.9 1187.4,292.2 1181.9,290.6ZM1158.3,272.0 1163.8,270.7 1167.1,274.8 1166.0,281.9 1163.3,281.9 1159.4,283.5 1159.4,274.8ZM1164.9,261.1 1165.7,266.0 1163.8,269.9 1160.5,267.1 1160.5,264.4 1164.4,262.8ZM1242.5,301.5 1245.5,301.8 1250.9,302.9 1257.5,303.2 1257.0,304.8 1248.8,305.1 1242.7,303.4ZM1290.4,304.5 1294.2,302.6 1303.0,301.0 1299.2,304.0 1300.0,305.1 1294.2,307.0 1291.0,306.2ZM1126.6,279.7 1130.4,277.8 1132.6,279.1 1129.8,281.3ZM1239.4,283.0 1242.2,283.5 1248.2,287.9 1244.9,286.8 1241.1,284.6ZM1265.2,298.2 1267.9,296.9 1267.4,298.8ZM1255.3,281.9 1259.2,281.3 1258.1,283.0ZM1174.2,191.8 1178.1,190.1 1182.4,189.9 1181.9,192.3 1179.7,195.6 1175.3,194.5ZM1167.1,192.9 1170.9,192.3 1172.6,194.5 1169.3,195.3ZM1173.7,196.1 1179.2,196.1 1178.1,197.8 1173.7,197.2ZM1212.6,183.0 1216.4,179.5 1219.2,179.8 1216.4,183.6 1213.1,185.2ZM1203.3,189.0 1207.1,182.8 1206.0,185.8ZM1232.9,177.6 1237.2,175.9 1241.1,176.5 1237.8,178.1 1234.0,179.5ZM1234.5,174.3 1238.9,173.5 1239.4,174.9 1236.2,175.4ZM1220.8,167.2 1224.6,166.1 1224.6,167.8ZM1194.0,194.5 1196.1,194.5 1195.6,195.6ZM647.9,376.6 657.5,370.3 661.8,369.5 669.5,369.5 677.7,372.0 688.7,376.9 696.9,380.4 702.4,382.9 707.1,385.3 702.4,387.2 687.6,387.5 690.3,383.4 683.2,378.5 672.3,376.3 665.1,374.7 659.7,372.5 653.6,375.0ZM705.4,395.7 716.9,394.6 711.2,387.8 720.5,387.5 730.3,388.3 734.2,390.5 738.8,394.3 730.3,395.2 723.8,396.5 720.8,399.5 716.1,396.5 708.4,397.3ZM683.8,396.0 691.4,394.9 695.8,397.6 691.4,398.7 684.9,397.1ZM744.9,395.4 753.9,395.4 752.8,397.6 745.1,397.9ZM774.2,437.5 779.7,436.7 779.1,440.8 774.2,441.0ZM683.8,361.6 687.6,359.4 687.6,363.8 684.9,364.9ZM687.1,350.1 691.4,351.2 690.3,353.9ZM710.1,380.1 713.4,379.6 712.8,381.5ZM774.7,406.9 778.0,406.4 776.4,408.5ZM778.0,415.1 780.2,415.6 779.7,417.3ZM788.4,236.0 792.8,228.4 798.3,219.1 802.1,215.3 809.3,214.2 807.6,220.2 803.8,222.9 809.3,223.4 820.2,226.2 823.0,230.5 824.6,236.0 822.4,241.2 817.5,240.4 817.5,236.6 807.6,239.8 809.8,236.6 798.3,236.0ZM759.9,223.4 770.9,225.1 775.3,227.8 765.4,226.7ZM760.5,240.9 765.4,241.7 773.6,242.3 770.9,244.7 763.8,243.6ZM409.8,218.5 420.2,220.2 427.3,222.9 433.9,227.3 437.7,231.6 430.0,230.5 422.9,226.7 414.7,222.4ZM384.6,200.0 391.7,201.1 390.6,205.4 395.0,212.0 388.4,207.1ZM376.3,178.1 380.2,181.9 374.7,188.5 369.2,183.0ZM381.8,188.5 388.9,192.9 390.0,196.7 382.9,194.0ZM265.6,183.0 272.2,179.2 279.3,180.3 277.7,183.0 269.5,186.3ZM210.3,197.8 218.0,196.1 218.5,197.2 211.9,198.9ZM195.5,204.3 202.1,201.1 202.6,202.7 197.1,204.9ZM187.3,207.1 193.9,203.8 192.8,205.4ZM154.4,211.4 159.9,210.3 158.8,212.0ZM143.4,213.6 146.7,212.3 146.2,214.2ZM2092.1,214.2 2097.1,215.3 2094.3,215.8ZM2058.7,207.1 2063.6,206.5 2062.5,207.9ZM2021.4,194.0 2024.7,195.6 2023.1,197.2ZM171.9,149.2 181.8,148.1 188.9,150.3 184.5,151.9 176.3,150.3ZM196.6,167.2 203.7,166.1 205.9,168.3 201.0,169.4ZM258.2,388.1 259.3,385.2 263.5,387.2 265.1,389.4 260.4,392.6 259.1,391.6ZM254.7,381.5 256.9,381.5 258.5,382.6 256.3,383.4ZM246.2,378.2 247.8,377.4 249.5,379.6 247.0,379.6ZM238.0,375.2 239.9,374.7 240.2,376.1 238.8,376.3ZM251.4,380.1 254.4,380.3 253.0,380.8ZM612.0,497.5 614.7,498.1 614.7,501.4 612.5,500.8ZM1020.8,341.1 1024.9,340.0 1023.0,342.7ZM1026.8,342.5 1029.0,342.5 1028.2,344.4ZM1035.0,339.7 1037.5,339.2 1035.6,342.5ZM1037.8,336.5 1039.7,337.0 1037.8,338.1ZM983.5,412.9 984.9,414.0 984.1,414.5ZM972.0,289.2 975.3,289.5 973.7,290.1ZM1019.1,316.5 1021.9,317.1 1020.2,317.6ZM1416.2,610.0 1418.6,610.3 1418.1,612.5 1416.4,611.7ZM1427.7,605.6 1429.9,605.6 1429.0,607.8ZM1350.4,558.1 1351.8,559.2 1350.7,560.9ZM1490.4,763.4 1494.8,761.8 1499.7,764.5 1498.1,767.3 1491.5,766.7ZM1328.2,527.3 1330.1,529.2 1328.8,531.1ZM1159.7,475.7 1162.2,476.2 1160.8,478.2ZM1149.0,494.0 1150.4,494.5 1149.3,495.6ZM1389.9,352.8 1391.0,352.8 1390.7,354.8ZM751.7,157.9 738.0,155.7 729.8,152.7 721.6,149.2 710.6,144.3 699.7,143.7 686.0,144.8 684.3,142.6 688.7,138.8 707.9,138.3 710.6,131.2 716.1,127.3 705.1,123.5 691.4,123.0 683.2,116.4 677.7,114.2 666.8,114.0 650.3,113.7 639.4,112.1 628.4,108.2 620.2,102.8 622.9,96.2 625.7,93.0 642.1,93.0 647.6,101.1 650.3,94.0 664.0,93.5 672.3,93.5 686.0,97.3 696.9,98.4 705.1,103.9 721.6,106.1 729.8,110.4 740.8,112.6 740.8,116.4 747.3,121.9 759.9,125.7 773.6,130.1 777.5,132.3 770.9,137.7 765.4,141.5 754.5,136.6 743.5,133.4 749.0,139.9 756.1,146.5 758.8,152.5 749.0,151.9 738.0,147.8 746.2,153.6ZM670.6,93.5 686.0,94.0 696.9,96.8 683.2,98.4 672.3,96.8ZM636.6,139.4 647.6,135.5 655.8,136.6 664.0,142.1 673.9,147.6 666.8,149.2 655.8,145.9 646.0,151.4 635.5,148.6 642.1,145.4ZM658.6,152.5 665.1,152.5 664.6,155.7 659.7,156.3ZM673.4,155.2 677.7,155.7 677.2,159.6 673.9,159.0ZM664.0,206.0 670.6,205.4 670.1,207.6 665.1,207.6ZM675.0,186.9 680.5,187.4 678.8,191.2 675.0,190.1ZM688.7,124.6 698.0,124.6 698.0,128.4 689.8,128.4ZM568.1,118.6 579.1,114.2 590.1,116.4 590.1,120.8 579.1,121.9 570.9,120.3ZM461.3,105.0 469.5,97.9 485.9,95.1 505.1,98.4 518.8,99.5 521.6,96.2 532.5,93.5 538.0,97.3 559.9,102.8 557.2,112.6 551.7,116.4 557.2,120.8 538.0,119.7 518.8,121.3 491.4,121.9 477.7,119.2 472.2,114.2 469.5,110.4 499.6,111.5 483.2,106.1 469.5,106.6ZM440.5,107.7 424.0,103.1 425.7,97.3 433.9,90.2 447.6,89.1 469.5,90.8 480.5,95.1 469.5,97.9 461.3,104.4 453.1,106.1ZM472.2,85.3 475.0,79.3 499.6,79.3 516.1,76.6 532.5,80.9 535.3,86.4 518.8,86.9 496.9,89.7 485.9,88.0ZM442.1,80.9 461.3,73.8 477.7,72.8 480.5,78.2 466.8,82.6ZM488.7,73.8 499.6,68.4 510.6,70.6 507.9,73.8ZM491.4,68.4 505.1,65.7 513.3,68.4ZM535.3,68.9 549.0,62.9 565.4,66.2 557.2,71.7ZM579.1,70.0 584.6,65.7 595.5,68.4 590.1,71.1ZM543.5,85.3 551.7,78.2 568.1,77.1 579.1,80.9 576.4,86.4 559.9,86.4ZM584.6,86.4 590.1,83.1 601.0,84.8 601.0,88.0 590.1,88.6ZM609.2,88.0 631.2,89.1 653.1,89.1 675.0,88.6 677.7,83.7 664.0,79.3 642.1,82.0 625.7,78.8 609.2,77.7 587.3,76.6 592.8,80.9 606.5,83.7ZM590.1,93.0 603.8,91.3 618.6,93.0 612.0,98.4 601.0,102.8 591.7,101.1ZM551.7,97.3 562.7,92.4 579.1,93.0 582.9,99.0 579.1,105.0 568.1,106.1 554.4,101.1ZM622.9,78.8 647.6,79.3 675.0,79.8 687.1,76.0 683.2,70.6 702.4,67.3 696.9,62.9 724.3,61.3 735.3,56.9 751.7,54.2 770.9,48.7 776.4,45.5 751.7,43.8 729.8,42.2 696.9,42.7 675.0,43.3 647.6,46.0 631.2,48.2 614.7,50.9 636.6,55.8 658.6,57.5 642.1,61.8 647.6,65.1 631.2,68.9 636.6,74.4ZM587.3,59.1 598.3,52.0 614.7,53.1 631.2,57.5 636.6,62.9 628.4,68.4 609.2,66.7 598.3,62.9ZM568.1,58.6 573.6,59.1 570.9,60.7ZM127.0,961.1 209.2,962.7 280.4,962.2 302.4,949.1 280.4,935.4 244.3,922.3 264.0,918.0 302.4,914.1 346.2,908.1 384.6,903.2 428.4,899.9 466.8,901.0 499.6,903.2 521.6,905.4 549.0,904.3 559.9,894.5 581.8,892.3 609.2,893.9 620.0,896.7 642.3,901.4 666.5,902.3 681.4,898.6 698.1,901.4 716.7,899.5 739.1,896.7 746.5,891.2 742.8,881.9 735.3,880.0 739.1,874.4 748.4,870.7 750.2,865.1 761.4,855.8 778.1,846.5 798.6,840.0 811.6,843.7 796.7,850.2 781.9,855.8 768.8,863.3 761.4,872.6 768.8,874.4 778.1,883.7 783.7,896.7 778.1,906.0 767.0,911.6 750.2,915.3 727.9,918.1 703.7,917.2 685.1,915.3 694.4,920.9 713.0,923.7 703.7,926.5 668.4,923.7 687.0,928.4 653.5,927.4 672.1,933.0 694.4,934.0 698.1,937.7 731.6,943.3 791.2,953.5 806.0,948.8 880.5,947.0 899.1,943.3 960.5,937.7 954.9,934.0 936.3,934.0 915.8,930.2 927.0,924.7 954.9,919.1 980.0,915.3 992.8,905.4 1014.8,896.7 1036.7,891.2 1058.6,886.8 1086.0,884.7 1113.4,881.4 1140.8,880.3 1173.7,878.6 1201.1,878.1 1234.0,880.3 1261.4,878.1 1294.2,873.7 1316.2,875.9 1329.9,872.6 1349.0,866.1 1371.0,864.5 1387.4,860.6 1409.3,856.3 1425.8,860.1 1442.2,863.9 1458.6,864.5 1480.6,866.6 1494.3,869.9 1497.0,880.8 1491.5,891.8 1508.0,883.6 1516.2,876.5 1535.4,873.7 1551.8,867.2 1579.2,861.7 1595.6,860.6 1617.6,859.5 1639.5,861.2 1661.4,856.3 1683.3,856.3 1705.2,859.5 1727.2,855.7 1749.1,860.6 1771.0,861.2 1792.9,859.0 1814.8,861.2 1836.8,857.4 1858.7,857.4 1880.6,860.1 1902.5,861.7 1924.4,868.3 1946.4,870.5 1968.3,873.7 1990.2,879.7 2006.6,881.4 2028.6,883.0 2046.6,885.7 2039.5,894.5 2017.6,902.7 2009.4,910.9 2012.1,919.0 2001.2,924.5 1990.2,932.7 1995.7,940.9 2023.1,949.1 2056.0,954.5 2099.8,957.8 2099.8,990.0 127.0,990.0ZM812.6,939.5 834.0,935.8 839.5,928.4 856.3,925.0 871.2,927.4 875.8,934.0 869.3,938.6 843.3,940.5 824.7,941.4ZM694.4,887.4 701.9,881.9 718.6,875.3 727.9,875.3 735.3,881.9 740.9,889.3 739.1,894.9 724.2,896.7 709.3,893.0 700.0,891.2ZM729.8,800.9 748.4,801.9 740.9,803.7ZM861.3,826.8 866.8,826.8 864.1,827.9ZM214.7,927.2 231.1,926.7 228.4,932.2 217.4,931.6ZM720.5,932.1 742.8,928.4 731.6,933.0ZM746.5,937.7 774.4,938.6 780.0,934.9 782.8,938.6 776.3,941.4 759.5,939.9Z"/>
<circle cx="1673.5" cy="345.2" r="8.5" fill="#FF0000" fill-opacity="0.7"/>
<circle cx="552.3" cy="398.8" r="7.8" fill="#FF0000" fill-opacity="0.7"/>
<circle cx="1749.6" cy="323.9" r="6.2" fill="#FF0000" fill-opacity="0.7"/>
<circle cx="1192.4" cy="232.0" r="7.5" fill="#FFA500" fill-opacity="0.7"/>
<circle cx="1753.3" cy="289.4" r="8.5" fill="#FF0000" fill-opacity="0.7"/>
<circle cx="1759.5" cy="351.4" r="8.5" fill="#FF0000" fill-opacity="0.7"/>
<circle cx="1231.6" cy="265.9" r="5.7" fill="#FF0000" fill-opacity="0.7"/>
<circle cx="1719.3" cy="286.0" r="8.0" fill="#FF0000" fill-opacity="0.7"/>
<circle cx="1745.6" cy="274.7" r="8.5" fill="#FF0000" fill-opacity="0.7"/>
<circle cx="1759.5" cy="270.8" r="4.3" fill="#808080" fill-opacity="0.7"/>
<circle cx="1429.5" cy="296.2" r="4.0" fill="#FF0000" fill-opacity="0.7"/>
<circle cx="1767.3" cy="339.0" r="8.5" fill="#FF0000" fill-opacity="0.7"/>
<circle cx="1207.9" cy="174.7" r="7.5" fill="#FF0000" fill-opacity="0.7"/>
<circle cx="1548.1" cy="388.4" r="5.6" fill="#808080" fill-opacity="0.7"/>
<circle cx="1889.0" cy="263.8" r="7.1" fill="#FF0000" fill-opacity="0.7"/>
<circle cx="818.2" cy="609.4" r="4.7" fill="#808080" fill-opacity="0.7"/>
<circle cx="1229.8" cy="230.0" r="9.3" fill="#FF0000" fill-opacity="0.7"/>
<circle cx="1148.4" cy="295.1" r="7.8" fill="#FF0000" fill-opacity="0.7"/>
<circle cx="1148.4" cy="226.1" r="8.8" fill="#808080" fill-opacity="0.7"/>
<circle cx="844.3" cy="526.9" r="7.8" fill="#FF0000" fill-opacity="0.7"/>
<circle cx="1424.8" cy="362.6" r="4.3" fill="#808080" fill-opacity="0.7"/>
<circle cx="1682.0" cy="473.4" r="7.5" fill="#FF0000" fill-opacity="0.7"/>
<circle cx="618.6" cy="284.7" r="7.4" fill="#FF0000" fill-opacity="0.7"/>
<circle cx="892.1" cy="608.3" r="6.2" fill="#808080" fill-opacity="0.7"/>
<circle cx="1790.5" cy="241.4" r="7.4" fill="#808080" fill-opacity="0.7"/>
<circle cx="1321.0" cy="199.0" r="8.8" fill="#FF0000" fill-opacity="0.7"/>
<circle cx="1843.3" cy="303.4" r="6.2" fill="#FF0000" fill-opacity="0.7"/>
<circle cx="1331.9" cy="208.0" r="8.3" fill="#808080" fill-opacity="0.7"/>
<circle cx="1735.6" cy="292.6" r="6.8" fill="#FF0000" fill-opacity="0.7"/>
<circle cx="665.4" cy="270.7" r="5.6" fill="#FF0000" fill-opacity="0.7"/>
<circle cx="1417.8" cy="337.0" r="4.7" fill="#808080" fill-opacity="0.7"/>
<circle cx="1578.8" cy="382.4" r="8.3" fill="#FF0000" fill-opacity="0.7"/>
<circle cx="1683.6" cy="489.5" r="4.4" fill="#00BFFF" fill-opacity="0.7"/>
<circle cx="1796.7" cy="275.5" r="6.2" fill="#FFA500" fill-opacity="0.7"/>
<circle cx="1754.9" cy="367.7" r="7.8" fill="#FF0000" fill-opacity="0.7"/>
<circle cx="1494.4" cy="276.0" r="6.2" fill="#00BFFF" fill-opacity="0.7"/>
<circle cx="1247.6" cy="142.1" r="7.5" fill="#FF0000" fill-opacity="0.7"/>
<circle cx="1786.4" cy="266.4" r="8.3" fill="#FF0000" fill-opacity="0.7"/>
<circle cx="1317.7" cy="214.5" r="5.7" fill="#808080" fill-opacity="0.7"/>
<circle cx="614.6" cy="331.9" r="7.4" fill="#808080" fill-opacity="0.7"/>
<circle cx="674.7" cy="260.6" r="7.0" fill="#FF0000" fill-opacity="0.7"/>
<circle cx="1372.5" cy="300.5" r="4.4" fill="#808080" fill-opacity="0.7"/>
<circle cx="1197.5" cy="236.4" r="6.2" fill="#FF0000" fill-opacity="0.7"/>
<circle cx="1560.5" cy="379.9" r="7.8" fill="#FF0000" fill-opacity="0.7"/>
<circle cx="1498.9" cy="370.2" r="4.7" fill="#FF0000" fill-opacity="0.7"/>
<circle cx="1676.6" cy="349.9" r="9.3" fill="#FF0000" fill-opacity="0.7"/>
<circle cx="660.0" cy="285.4" r="7.1" fill="#FF0000" fill-opacity="0.7"/>
<circle cx="1593.1" cy="201.3" r="9.3" fill="#FF0000" fill-opacity="0.7"/>
<circle cx="1286.7" cy="270.0" r="7.5" fill="#FF0000" fill-opacity="0.7"/>
<circle cx="1542.2" cy="431.9" r="7.1" fill="#FFA500" fill-opacity="0.7"/>
<circle cx="1759.5" cy="326.6" r="9.0" fill="#FF0000" fill-opacity="0.7"/>
<circle cx="634.1" cy="268.4" r="9.0" fill="#FFA500" fill-opacity="0.7"/>
<circle cx="711.6" cy="244.7" r="7.4" fill="#FF0000" fill-opacity="0.7"/>
<circle cx="1146.5" cy="212.0" r="5.9" fill="#FF0000" fill-opacity="0.7"/>
<circle cx="866.8" cy="592.1" r="4.7" fill="#808080" fill-opacity="0.7"/>
<circle cx="1240.7" cy="263.0" r="4.1" fill="#00BFFF" fill-opacity="0.7"/>
<circle cx="1643.3" cy="376.3" r="4.4" fill="#FF0000" fill-opacity="0.7"/>
<circle cx="1735.0" cy="377.6" r="7.8" fill="#FF0000" fill-opacity="0.7"/>
<circle cx="1754.9" cy="343.7" r="7.8" fill="#FF0000" fill-opacity="0.7"/>
<circle cx="838.3" cy="530.0" r="4.1" fill="#808080" fill-opacity="0.7"/>
<circle cx="1543.4" cy="415.3" r="4.7" fill="#FF0000" fill-opacity="0.7"/>
<circle cx="1737.1" cy="365.6" r="7.4" fill="#FF0000" fill-opacity="0.7"/>
<circle cx="1728.5" cy="376.2" r="7.4" fill="#FF0000" fill-opacity="0.7"/>
<circle cx="1699.1" cy="314.2" r="9.0" fill="#FF0000" fill-opacity="0.7"/>
<circle cx="1413.2" cy="363.2" r="7.1" fill="#FF0000" fill-opacity="0.7"/>
<circle cx="1756.7" cy="269.4" r="6.8" fill="#FF0000" fill-opacity="0.7"/>
<circle cx="1208.4" cy="274.4" r="9.3" fill="#FF0000" fill-opacity="0.7"/>
<circle cx="1524.0" cy="426.1" r="5.0" fill="#808080" fill-opacity="0.7"/>
<circle cx="1267.3" cy="247.5" r="7.5" fill="#FFA500" fill-opacity="0.7"/>
<circle cx="1282.8" cy="330.7" r="6.2" fill="#FF0000" fill-opacity="0.7"/>
<circle cx="1561.3" cy="377.0" r="8.5" fill="#FF0000" fill-opacity="0.7"/>
<circle cx="1579.9" cy="373.9" r="9.8" fill="#FF0000" fill-opacity="0.7"/>
<circle cx="1694.4" cy="334.4" r="5.6" fill="#FFA500" fill-opacity="0.7"/>
<circle cx="1779.7" cy="358.4" r="3.7" fill="#808080" fill-opacity="0.7"/>
<circle cx="1824.7" cy="298.7" r="8.5" fill="#FFA500" fill-opacity="0.7"/>
<circle cx="1678.2" cy="360.6" r="7.4" fill="#FF0000" fill-opacity="0.7"/>
<circle cx="868.6" cy="619.2" r="7.2" fill="#FFA500" fill-opacity="0.7"/>
<circle cx="713.0" cy="465.4" r="5.7" fill="#FFA500" fill-opacity="0.7"/>
<circle cx="1532.1" cy="282.4" r="4.4" fill="#FF0000" fill-opacity="0.7"/>
<circle cx="556.7" cy="349.4" r="9.3" fill="#FFA500" fill-opacity="0.7"/>
<circle cx="1700.3" cy="277.8" r="7.4" fill="#808080" fill-opacity="0.7"/>
<circle cx="1217.7" cy="220.2" r="6.7" fill="#FF0000" fill-opacity="0.7"/>
<circle cx="1811.0" cy="244.5" r="9.0" fill="#FF0000" fill-opacity="0.7"/>
<circle cx="1685.1" cy="298.7" r="7.1" fill="#FF0000" fill-opacity="0.7"/>
<circle cx="1752.7" cy="305.9" r="8.1" fill="#FF0000" fill-opacity="0.7"/>
<circle cx="1695.7" cy="530.0" r="9.3" fill="#FF0000" fill-opacity="0.7"/>
<circle cx="650.4" cy="241.6" r="7.4" fill="#FF0000" fill-opacity="0.7"/>
<circle cx="855.7" cy="625.1" r="3.6" fill="#00BFFF" fill-opacity="0.7"/>
<circle cx="1241.2" cy="168.2" r="4.4" fill="#FF0000" fill-opacity="0.7"/>
<circle cx="1748.7" cy="273.1" r="4.3" fill="#808080" fill-opacity="0.7"/>
<circle cx="1791.3" cy="273.6" r="7.3" fill="#FF0000" fill-opacity="0.7"/>
<circle cx="1784.9" cy="512.7" r="4.7" fill="#00BFFF" fill-opacity="0.7"/>
<circle cx="1616.7" cy="371.1" r="4.7" fill="#00BFFF" fill-opacity="0.7"/>
<circle cx="636.7" cy="273.0" r="4.7" fill="#808080" fill-opacity="0.7"/>
<circle cx="1582.9" cy="383.0" r="9.3" fill="#FF0000" fill-opacity="0.7"/>
<circle cx="1763.0" cy="316.0" r="7.2" fill="#FF0000" fill-opacity="0.7"/>
<circle cx="1151.2" cy="211.2" r="5.3" fill="#808080" fill-opacity="0.7"/>
<circle cx="1156.2" cy="294.8" r="5.2" fill="#FFA500" fill-opacity="0.7"/>
<circle cx="1779.6" cy="327.5" r="8.9" fill="#FF0000" fill-opacity="0.7"/>
<circle cx="1409.3" cy="319.5" r="4.7" fill="#FF0000" fill-opacity="0.7"/>
<circle cx="1758.3" cy="304.4" r="8.9" fill="#FF0000" fill-opacity="0.7"/>
<circle cx="1627.8" cy="262.3" r="4.3" fill="#808080" fill-opacity="0.7"/>
<circle cx="1686.7" cy="357.6" r="5.6" fill="#FFA500" fill-opacity="0.7"/>
<circle cx="1580.5" cy="252.7" r="7.0" fill="#FFA500" fill-opacity="0.7"/>
<circle cx="868.6" cy="605.7" r="7.8" fill="#808080" fill-opacity="0.7"/>
<circle cx="1140.7" cy="257.9" r="9.3" fill="#FF0000" fill-opacity="0.7"/>
<circle cx="1530.7" cy="371.4" r="7.1" fill="#808080" fill-opacity="0.7"/>
<circle cx="1753.3" cy="308.8" r="6.2" fill="#808080" fill-opacity="0.7"/>
<circle cx="1809.2" cy="260.6" r="7.7" fill="#FF0000" fill-opacity="0.7"/>
<circle cx="1711.0" cy="412.5" r="7.5" fill="#FF0000" fill-opacity="0.7"/>
<circle cx="1483.7" cy="360.9" r="7.4" fill="#FF0000" fill-opacity="0.7"/>
<circle cx="755.4" cy="630.3" r="4.7" fill="#FFA500" fill-opacity="0.7"/>
<circle cx="1771.0" cy="332.3" r="7.7" fill="#FF0000" fill-opacity="0.7"/>
<circle cx="1837.1" cy="314.2" r="7.8" fill="#FF0000" fill-opacity="0.7"/>
<circle cx="1754.9" cy="309.6" r="9.0" fill="#FF0000" fill-opacity="0.7"/>
<circle cx="1278.7" cy="649.4" r="7.5" fill="#FF0000" fill-opacity="0.7"/>
<circle cx="1268.6" cy="641.1" r="4.7" fill="#FF0000" fill-opacity="0.7"/>
<circle cx="1120.0" cy="251.9" r="3.6" fill="#808080" fill-opacity="0.7"/>
<circle cx="1739.4" cy="294.8" r="5.6" fill="#808080" fill-opacity="0.7"/>
<circle cx="1381.0" cy="325.1" r="7.0" fill="#FF0000" fill-opacity="0.7"/>
<circle cx="1731.0" cy="271.9" r="6.9" fill="#FF0000" fill-opacity="0.7"/>
<circle cx="1712.5" cy="391.8" r="4.4" fill="#808080" fill-opacity="0.7"/>
<circle cx="1778.1" cy="332.8" r="9.0" fill="#FF0000" fill-opacity="0.7"/>
<circle cx="1082.0" cy="257.6" r="7.5" fill="#FF0000" fill-opacity="0.7"/>
<circle cx="1699.1" cy="334.4" r="4.7" fill="#808080" fill-opacity="0.7"/>
<circle cx="1126.5" cy="215.8" r="7.8" fill="#FF0000" fill-opacity="0.7"/>
<circle cx="1751.5" cy="464.4" r="4.4" fill="#808080" fill-opacity="0.7"/>
<circle cx="1589.9" cy="384.6" r="5.3" fill="#808080" fill-opacity="0.7"/>
<circle cx="879.7" cy="603.7" r="7.8" fill="#FF0000" fill-opacity="0.7"/>
<circle cx="1313.8" cy="248.1" r="4.4" fill="#808080" fill-opacity="0.7"/>
<circle cx="1514.6" cy="222.0" r="9.3" fill="#FF0000" fill-opacity="0.7"/>
<circle cx="1832.4" cy="311.1" r="7.8" fill="#FFA500" fill-opacity="0.7"/>
<circle cx="1217.7" cy="239.0" r="7.5" fill="#FFA500" fill-opacity="0.7"/>
<circle cx="1512.9" cy="380.7" r="9.0" fill="#FF0000" fill-opacity="0.7"/>
<circle cx="1782.0" cy="294.1" r="4.3" fill="#808080" fill-opacity="0.7"/>
<circle cx="1740.9" cy="295.6" r="9.0" fill="#FF0000" fill-opacity="0.7"/>
<circle cx="1761.1" cy="359.2" r="7.8" fill="#FF0000" fill-opacity="0.7"/>
<circle cx="1579.8" cy="374.0" r="9.1" fill="#FF0000" fill-opacity="0.7"/>
<circle cx="724.9" cy="654.1" r="4.7" fill="#808080" fill-opacity="0.7"/>
<circle cx="825.9" cy="529.3" r="4.7" fill="#808080" fill-opacity="0.7"/>
<circle cx="1118.7" cy="252.5" r="5.2" fill="#808080" fill-opacity="0.7"/>
<circle cx="1293.6" cy="270.8" r="8.8" fill="#FF0000" fill-opacity="0.7"/>
<circle cx="1562.8" cy="352.8" r="6.2" fill="#808080" fill-opacity="0.7"/>
<circle cx="1869.6" cy="678.4" r="7.5" fill="#FFA500" fill-opacity="0.7"/>
<circle cx="1202.7" cy="218.3" r="4.4" fill="#808080" fill-opacity="0.7"/>
<circle cx="1655.7" cy="476.8" r="7.5" fill="#FFA500" fill-opacity="0.7"/>
<circle cx="1681.2" cy="360.7" r="7.8" fill="#FF0000" fill-opacity="0.7"/>
<circle cx="1727.0" cy="287.1" r="5.6" fill="#FFA500" fill-opacity="0.7"/>
<circle cx="1438.0" cy="310.6" r="4.7" fill="#FF0000" fill-opacity="0.7"/>
<circle cx="1700.6" cy="312.7" r="6.2" fill="#FFA500" fill-opacity="0.7"/>
<circle cx="1782.8" cy="267.7" r="7.4" fill="#FF0000" fill-opacity="0.7"/>
<circle cx="585.1" cy="391.9" r="4.7" fill="#FF0000" fill-opacity="0.7"/>
<circle cx="1764.2" cy="295.6" r="9.0" fill="#FF0000" fill-opacity="0.7"/>
<circle cx="1770.4" cy="318.9" r="4.3" fill="#00BFFF" fill-opacity="0.7"/>
<circle cx="1211.7" cy="253.7" r="7.0" fill="#FFA500" fill-opacity="0.7"/>
<circle cx="1669.6" cy="426.7" r="4.7" fill="#00BFFF" fill-opacity="0.7"/>
<circle cx="1786.4" cy="259.1" r="7.5" fill="#FF0000" fill-opacity="0.7"/>
<circle cx="1760.3" cy="325.9" r="4.3" fill="#808080" fill-opacity="0.7"/>
<circle cx="1443.0" cy="184.8" r="4.1" fill="#00BFFF" fill-opacity="0.7"/>
<circle cx="1424.8" cy="327.7" r="7.4" fill="#808080" fill-opacity="0.7"/>
<circle cx="620.8" cy="266.8" r="4.3" fill="#00BFFF" fill-opacity="0.7"/>
<circle cx="1157.0" cy="237.2" r="5.7" fill="#00BFFF" fill-opacity="0.7"/>
<circle cx="1653.3" cy="278.6" r="9.0" fill="#FFA500" fill-opacity="0.7"/>
<circle cx="1303.5" cy="231.3" r="9.3" fill="#FF0000" fill-opacity="0.7"/>
<circle cx="1784.3" cy="244.5" r="7.4" fill="#FF0000" fill-opacity="0.7"/>
<circle cx="1727.0" cy="277.0" r="4.3" fill="#808080" fill-opacity="0.7"/>
<circle cx="1322.3" cy="232.6" r="8.8" fill="#FF0000" fill-opacity="0.7"/>
<circle cx="873.2" cy="623.1" r="7.8" fill="#FF0000" fill-opacity="0.7"/>
<circle cx="1193.6" cy="204.1" r="4.7" fill="#808080" fill-opacity="0.7"/>
<circle cx="1138.6" cy="208.8" r="9.3" fill="#FF0000" fill-opacity="0.7"/>
<circle cx="1692.9" cy="287.9" r="7.4" fill="#FFA500" fill-opacity="0.7"/>
<circle cx="1744.4" cy="268.1" r="6.8" fill="#FF0000" fill-opacity="0.7"/>
<circle cx="1212.8" cy="678.1" r="7.5" fill="#FF0000" fill-opacity="0.7"/>
<circle cx="1736.5" cy="305.5" r="8.5" fill="#FF0000" fill-opacity="0.7"/>
<circle cx="1717.9" cy="369.2" r="8.4" fill="#FF0000" fill-opacity="0.7"/>
<circle cx="1888.2" cy="299.5" r="7.8" fill="#FF0000" fill-opacity="0.7"/>
<circle cx="1145.8" cy="224.8" r="4.7" fill="#00BFFF" fill-opacity="0.7"/>
<circle cx="1460.6" cy="205.7" r="7.8" fill="#808080" fill-opacity="0.7"/>
<circle cx="1197.3" cy="319.6" r="4.4" fill="#FF0000" fill-opacity="0.7"/>
<circle cx="1145.3" cy="467.0" r="4.7" fill="#FF0000" fill-opacity="0.7"/>
<circle cx="1447.1" cy="169.5" r="7.5" fill="#FF0000" fill-opacity="0.7"/>
<circle cx="574.0" cy="392.4" r="5.6" fill="#FF0000" fill-opacity="0.7"/>
<circle cx="1736.9" cy="366.3" r="7.7" fill="#FF0000" fill-opacity="0.7"/>
<circle cx="1434.2" cy="215.8" r="9.3" fill="#FFA500" fill-opacity="0.7"/>
<circle cx="1514.7" cy="394.7" r="8.5" fill="#FFA500" fill-opacity="0.7"/>
<circle cx="1832.4" cy="311.1" r="7.4" fill="#FF0000" fill-opacity="0.7"/>
<circle cx="1607.9" cy="240.3" r="3.6" fill="#808080" fill-opacity="0.7"/>
<circle cx="1745.6" cy="329.7" r="9.0" fill="#FF0000" fill-opacity="0.7"/>
<circle cx="1722.3" cy="292.5" r="7.8" fill="#FF0000" fill-opacity="0.7"/>
<circle cx="1726.9" cy="318.7" r="8.1" fill="#FF0000" fill-opacity="0.7"/>
<circle cx="1727.0" cy="346.5" r="4.3" fill="#808080" fill-opacity="0.7"/>
<circle cx="1735.5" cy="281.7" r="4.7" fill="#808080" fill-opacity="0.7"/>
<circle cx="650.4" cy="280.0" r="7.4" fill="#FF0000" fill-opacity="0.7"/>
<circle cx="1587.7" cy="263.6" r="7.8" fill="#FF0000" fill-opacity="0.7"/>
<circle cx="1733.9" cy="272.8" r="6.5" fill="#FF0000" fill-opacity="0.7"/>
<circle cx="674.7" cy="275.3" r="7.4" fill="#FF0000" fill-opacity="0.7"/>
<circle cx="1431.1" cy="176.5" r="7.0" fill="#FF0000" fill-opacity="0.7"/>
<circle cx="873.2" cy="612.7" r="5.2" fill="#808080" fill-opacity="0.7"/>
<circle cx="1565.1" cy="392.3" r="8.5" fill="#FF0000" fill-opacity="0.7"/>
<circle cx="1752.2" cy="278.8" r="4.7" fill="#808080" fill-opacity="0.7"/>
<circle cx="1882.0" cy="301.0" r="3.7" fill="#808080" fill-opacity="0.7"/>
<circle cx="1739.4" cy="314.2" r="8.5" fill="#FF0000" fill-opacity="0.7"/>
<circle cx="579.4" cy="344.0" r="7.4" fill="#808080" fill-opacity="0.7"/>
<circle cx="1858.3" cy="302.9" r="6.9" fill="#FF0000" fill-opacity="0.7"/>
<circle cx="1422.0" cy="347.8" r="5.9" fill="#FF0000" fill-opacity="0.7"/>
<circle cx="1235.8" cy="137.0" r="7.5" fill="#FF0000" fill-opacity="0.7"/>
<circle cx="1781.2" cy="323.5" r="8.5" fill="#FFA500" fill-opacity="0.7"/>
<circle cx="1739.2" cy="268.3" r="6.8" fill="#FF0000" fill-opacity="0.7"/>
<circle cx="1435.7" cy="297.0" r="6.2" fill="#FF0000" fill-opacity="0.7"/>
<circle cx="1397.0" cy="359.9" r="7.8" fill="#FF0000" fill-opacity="0.7"/>
<circle cx="1719.2" cy="271.6" r="8.5" fill="#FF0000" fill-opacity="0.7"/>
<circle cx="1705.3" cy="324.3" r="4.3" fill="#808080" fill-opacity="0.7"/>
<circle cx="1737.1" cy="362.3" r="9.0" fill="#FF0000" fill-opacity="0.7"/>
<circle cx="1687.4" cy="333.6" r="9.0" fill="#FFA500" fill-opacity="0.7"/>
<circle cx="1311.2" cy="233.9" r="7.8" fill="#FF0000" fill-opacity="0.7"/>
<circle cx="1698.8" cy="382.2" r="7.8" fill="#FF0000" fill-opacity="0.7"/>
<circle cx="1577.0" cy="377.0" r="7.8" fill="#FF0000" fill-opacity="0.7"/>
<circle cx="1765.3" cy="321.5" r="6.8" fill="#FF0000" fill-opacity="0.7"/>
<circle cx="1723.9" cy="270.0" r="7.4" fill="#FF0000" fill-opacity="0.7"/>
<circle cx="1766.5" cy="264.6" r="8.5" fill="#FF0000" fill-opacity="0.7"/>
<circle cx="1297.0" cy="233.3" r="8.8" fill="#FFA500" fill-opacity="0.7"/>
<circle cx="1266.3" cy="643.7" r="8.8" fill="#FFA500" fill-opacity="0.7"/>
<circle cx="1823.9" cy="273.1" r="4.3" fill="#FFA500" fill-opacity="0.7"/>
<circle cx="1395.2" cy="319.1" r="9.3" fill="#FF0000" fill-opacity="0.7"/>
<circle cx="1697.5" cy="397.7" r="9.3" fill="#FF0000" fill-opacity="0.7"/>
<circle cx="1775.8" cy="332.8" r="4.3" fill="#808080" fill-opacity="0.7"/>
<circle cx="1719.2" cy="299.5" r="7.4" fill="#FFA500" fill-opacity="0.7"/>
<circle cx="1679.7" cy="347.0" r="8.0" fill="#FF0000" fill-opacity="0.7"/>
<circle cx="748.8" cy="221.6" r="7.8" fill="#808080" fill-opacity="0.7"/>
<circle cx="1778.1" cy="314.2" r="7.8" fill="#FFA500" fill-opacity="0.7"/>
<circle cx="797.3" cy="602.4" r="4.9" fill="#808080" fill-opacity="0.7"/>
<circle cx="1692.9" cy="348.3" r="8.5" fill="#FF0000" fill-opacity="0.7"/>
<circle cx="1224.7" cy="221.7" r="7.0" fill="#FFA500" fill-opacity="0.7"/>
<circle cx="1703.7" cy="332.8" r="7.1" fill="#FF0000" fill-opacity="0.7"/>
<circle cx="1734.0" cy="304.9" r="4.0" fill="#00BFFF" fill-opacity="0.7"/>
<circle cx="1787.4" cy="275.5" r="9.0" fill="#FFA500" fill-opacity="0.7"/>
<circle cx="1688.2" cy="294.1" r="7.8" fill="#FFA500" fill-opacity="0.7"/>
<circle cx="1775.8" cy="364.6" r="8.5" fill="#FFA500" fill-opacity="0.7"/>
<circle cx="1272.5" cy="272.6" r="3.6" fill="#00BFFF" fill-opacity="0.7"/>
<circle cx="1673.2" cy="344.9" r="8.2" fill="#FF0000" fill-opacity="0.7"/>
<circle cx="1278.4" cy="206.7" r="4.4" fill="#00BFFF" fill-opacity="0.7"/>
<circle cx="1522.5" cy="397.0" r="4.7" fill="#FF0000" fill-opacity="0.7"/>
<circle cx="1807.6" cy="266.2" r="8.5" fill="#FF0000" fill-opacity="0.7"/>
<circle cx="1729.6" cy="333.0" r="8.0" fill="#FF0000" fill-opacity="0.7"/>
<circle cx="603.4" cy="235.0" r="6.5" fill="#808080" fill-opacity="0.7"/>
<circle cx="1795.2" cy="261.5" r="7.8" fill="#FF0000" fill-opacity="0.7"/>
<circle cx="1748.4" cy="293.9" r="4.4" fill="#808080" fill-opacity="0.7"/>
<circle cx="1759.5" cy="275.5" r="8.5" fill="#FF0000" fill-opacity="0.7"/>
<circle cx="1720.8" cy="380.2" r="9.3" fill="#FF0000" fill-opacity="0.7"/>
<circle cx="1112.0" cy="300.8" r="5.9" fill="#FF0000" fill-opacity="0.7"/>
<circle cx="1452.0" cy="193.3" r="8.8" fill="#FFA500" fill-opacity="0.7"/>
<circle cx="1760.3" cy="255.6" r="9.0" fill="#FF0000" fill-opacity="0.7"/>
<circle cx="1942.7" cy="686.4" r="9.3" fill="#FFA500" fill-opacity="0.7"/>
<circle cx="1866.5" cy="303.4" r="8.5" fill="#FF0000" fill-opacity="0.7"/>
<circle cx="1110.2" cy="202.8" r="7.2" fill="#FF0000" fill-opacity="0.7"/>
<circle cx="1539.5" cy="370.2" r="4.7" fill="#FF0000" fill-opacity="0.7"/>
<circle cx="1737.8" cy="275.5" r="7.8" fill="#FF0000" fill-opacity="0.7"/>
<circle cx="1752.7" cy="267.9" r="7.0" fill="#FF0000" fill-opacity="0.7"/>
<circle cx="1155.8" cy="214.8" r="4.3" fill="#808080" fill-opacity="0.7"/>
<circle cx="1168.2" cy="203.5" r="5.0" fill="#FF0000" fill-opacity="0.7"/>
<circle cx="1589.0" cy="379.2" r="10.1" fill="#FF0000" fill-opacity="0.7"/>
<circle cx="1725.4" cy="301.0" r="6.5" fill="#808080" fill-opacity="0.7"/>
<circle cx="789.8" cy="684.6" r="4.4" fill="#FF0000" fill-opacity="0.7"/>
<circle cx="1134.9" cy="214.3" r="7.8" fill="#FF0000" fill-opacity="0.7"/>
<circle cx="1312.5" cy="294.8" r="8.8" fill="#FF0000" fill-opacity="0.7"/>
<circle cx="674.7" cy="315.7" r="4.3" fill="#00BFFF" fill-opacity="0.7"/>
<circle cx="1700.6" cy="282.4" r="6.2" fill="#FFA500" fill-opacity="0.7"/>
<circle cx="1770.4" cy="353.0" r="7.8" fill="#FF0000" fill-opacity="0.7"/>
<circle cx="657.4" cy="264.5" r="7.4" fill="#FF0000" fill-opacity="0.7"/>
<circle cx="1214.3" cy="222.2" r="7.8" fill="#FFA500" fill-opacity="0.7"/>
<circle cx="1728.5" cy="346.0" r="9.0" fill="#FF0000" fill-opacity="0.7"/>
<circle cx="1786.7" cy="273.1" r="8.5" fill="#FF0000" fill-opacity="0.7"/>
<circle cx="1775.0" cy="308.0" r="7.8" fill="#FF0000" fill-opacity="0.7"/>
<circle cx="1723.2" cy="293.2" r="9.0" fill="#FF0000" fill-opacity="0.7"/>
<circle cx="1442.0" cy="177.8" r="7.8" fill="#FFA500" fill-opacity="0.7"/>
<circle cx="892.1" cy="608.3" r="7.8" fill="#FF0000" fill-opacity="0.7"/>
<circle cx="1809.1" cy="255.6" r="9.0" fill="#FF0000" fill-opacity="0.7"/>
<circle cx="675.5" cy="258.3" r="7.1" fill="#FFA500" fill-opacity="0.7"/>
<circle cx="2074.0" cy="701.6" r="4.4" fill="#FF0000" fill-opacity="0.7"/>
<circle cx="1215.1" cy="251.9" r="4.4" fill="#808080" fill-opacity="0.7"/>
<circle cx="1559.7" cy="350.5" r="7.4" fill="#FF0000" fill-opacity="0.7"/>
<circle cx="1291.1" cy="333.3" r="6.7" fill="#FF0000" fill-opacity="0.7"/>
<circle cx="1228.5" cy="251.2" r="7.0" fill="#FF0000" fill-opacity="0.7"/>
<circle cx="1092.9" cy="213.7" r="7.5" fill="#FF0000" fill-opacity="0.7"/>
<circle cx="1769.6" cy="275.5" r="8.5" fill="#FF0000" fill-opacity="0.7"/>
<circle cx="1753.3" cy="305.0" r="6.8" fill="#FF0000" fill-opacity="0.7"/>
<circle cx="870.1" cy="513.5" r="4.7" fill="#808080" fill-opacity="0.7"/>
<circle cx="1699.1" cy="382.4" r="7.4" fill="#FF0000" fill-opacity="0.7"/>
<circle cx="712.2" cy="699.0" r="7.5" fill="#FFA500" fill-opacity="0.7"/>
<circle cx="1861.2" cy="301.1" r="7.3" fill="#FF0000" fill-opacity="0.7"/>
<circle cx="1722.3" cy="302.6" r="9.0" fill="#FF0000" fill-opacity="0.7"/>
<circle cx="1714.6" cy="362.3" r="9.0" fill="#FF0000" fill-opacity="0.7"/>
<circle cx="1602.7" cy="235.7" r="4.4" fill="#808080" fill-opacity="0.7"/>
<circle cx="1579.9" cy="202.1" r="4.4" fill="#808080" fill-opacity="0.7"/>
<circle cx="1594.9" cy="254.5" r="9.3" fill="#FF0000" fill-opacity="0.7"/>
<circle cx="1714.6" cy="273.9" r="4.3" fill="#808080" fill-opacity="0.7"/>
<circle cx="1751.4" cy="327.6" r="7.8" fill="#FF0000" fill-opacity="0.7"/>
<circle cx="1627.8" cy="262.3" r="7.1" fill="#FF0000" fill-opacity="0.7"/>
<circle cx="1309.9" cy="208.8" r="8.3" fill="#808080" fill-opacity="0.7"/>
<circle cx="1761.1" cy="317.9" r="9.0" fill="#FF0000" fill-opacity="0.7"/>
<circle cx="1675.8" cy="284.5" r="5.6" fill="#808080" fill-opacity="0.7"/>
<circle cx="1194.2" cy="209.8" r="7.5" fill="#FF0000" fill-opacity="0.7"/>
<circle cx="1768.8" cy="320.4" r="9.0" fill="#FF0000" fill-opacity="0.7"/>
<circle cx="1322.3" cy="215.8" r="7.8" fill="#FF0000" fill-opacity="0.7"/>
<circle cx="1762.6" cy="294.1" r="7.4" fill="#FFA500" fill-opacity="0.7"/>
<circle cx="1880.5" cy="301.8" r="7.8" fill="#FFA500" fill-opacity="0.7"/>
<circle cx="1729.6" cy="281.2" r="8.8" fill="#FF0000" fill-opacity="0.7"/>
<circle cx="1390.5" cy="304.1" r="4.7" fill="#FF0000" fill-opacity="0.7"/>
<circle cx="1834.0" cy="241.4" r="9.0" fill="#FF0000" fill-opacity="0.7"/>
<circle cx="860.3" cy="626.2" r="4.4" fill="#FF0000" fill-opacity="0.7"/>
<circle cx="627.4" cy="313.0" r="4.7" fill="#00BFFF" fill-opacity="0.7"/>
<circle cx="1778.1" cy="416.3" r="3.6" fill="#00BFFF" fill-opacity="0.7"/>
<circle cx="1277.6" cy="326.1" r="7.5" fill="#FF0000" fill-opacity="0.7"/>
<circle cx="1599.2" cy="375.3" r="4.7" fill="#808080" fill-opacity="0.7"/>
<circle cx="1548.8" cy="402.4" r="4.0" fill="#808080" fill-opacity="0.7"/>
<circle cx="1579.8" cy="376.8" r="12.4" fill="#FF0000" fill-opacity="0.7"/>
<circle cx="1728.5" cy="287.9" r="8.5" fill="#FF0000" fill-opacity="0.7"/>
<circle cx="1570.9" cy="257.9" r="7.0" fill="#FFA500" fill-opacity="0.7"/>
<circle cx="1727.0" cy="285.6" r="3.9" fill="#808080" fill-opacity="0.7"/>
<circle cx="540.7" cy="392.3" r="4.7" fill="#808080" fill-opacity="0.7"/>
<circle cx="1214.3" cy="220.9" r="6.7" fill="#808080" fill-opacity="0.7"/>
<circle cx="1768.8" cy="301.8" r="9.0" fill="#FF0000" fill-opacity="0.7"/>
<circle cx="1752.1" cy="330.6" r="8.4" fill="#FF0000" fill-opacity="0.7"/>
<circle cx="1764.5" cy="313.9" r="6.3" fill="#FF0000" fill-opacity="0.7"/>
<circle cx="1789.8" cy="255.3" r="4.7" fill="#808080" fill-opacity="0.7"/>
<circle cx="1514.0" cy="389.2" r="3.7" fill="#00BFFF" fill-opacity="0.7"/>
<circle cx="1548.1" cy="380.7" r="7.4" fill="#FF0000" fill-opacity="0.7"/>
<circle cx="1727.0" cy="332.8" r="9.0" fill="#FF0000" fill-opacity="0.7"/>
<circle cx="1520.2" cy="412.8" r="6.2" fill="#808080" fill-opacity="0.7"/>
<circle cx="1775.0" cy="373.1" r="8.5" fill="#FF0000" fill-opacity="0.7"/>
<circle cx="1709.9" cy="376.2" r="7.8" fill="#FF0000" fill-opacity="0.7"/>
<circle cx="1744.0" cy="280.1" r="4.3" fill="#808080" fill-opacity="0.7"/>
<circle cx="1750.8" cy="278.4" r="8.2" fill="#FF0000" fill-opacity="0.7"/>
<circle cx="1739.8" cy="290.9" r="3.6" fill="#808080" fill-opacity="0.7"/>
<circle cx="1740.2" cy="314.2" r="4.7" fill="#808080" fill-opacity="0.7"/>
<circle cx="1874.2" cy="301.9" r="6.8" fill="#FF0000" fill-opacity="0.7"/>
<circle cx="1289.5" cy="655.4" r="6.2" fill="#808080" fill-opacity="0.7"/>
<circle cx="1742.5" cy="345.2" r="9.0" fill="#FFA500" fill-opacity="0.7"/>
<circle cx="1331.4" cy="207.5" r="8.8" fill="#FFA500" fill-opacity="0.7"/>
<circle cx="1323.1" cy="280.4" r="4.4" fill="#808080" fill-opacity="0.7"/>
<circle cx="1320.3" cy="239.0" r="7.2" fill="#FF0000" fill-opacity="0.7"/>
<circle cx="1671.2" cy="353.0" r="7.8" fill="#FF0000" fill-opacity="0.7"/>
<circle cx="1321.8" cy="172.1" r="9.3" fill="#FFA500" fill-opacity="0.7"/>
<circle cx="1727.0" cy="360.7" r="4.3" fill="#808080" fill-opacity="0.7"/>
<circle cx="1551.2" cy="421.8" r="4.3" fill="#808080" fill-opacity="0.7"/>
<circle cx="1855.7" cy="306.5" r="9.0" fill="#FF0000" fill-opacity="0.7"/>
<circle cx="1727.0" cy="287.9" r="4.7" fill="#808080" fill-opacity="0.7"/>
<circle cx="1719.2" cy="371.6" r="8.5" fill="#FF0000" fill-opacity="0.7"/>
<circle cx="632.1" cy="242.0" r="6.2" fill="#808080" fill-opacity="0.7"/>
<circle cx="1758.2" cy="306.4" r="4.9" fill="#808080" fill-opacity="0.7"/>
<circle cx="783.3" cy="680.4" r="7.5" fill="#FF0000" fill-opacity="0.7"/>
<circle cx="1298.3" cy="233.3" r="6.2" fill="#808080" fill-opacity="0.7"/>
<circle cx="1714.6" cy="274.7" r="7.0" fill="#FF0000" fill-opacity="0.7"/>
<circle cx="1437.3" cy="195.1" r="6.2" fill="#808080" fill-opacity="0.7"/>
<circle cx="608.1" cy="236.6" r="5.9" fill="#808080" fill-opacity="0.7"/>
<circle cx="1437.8" cy="204.1" r="9.3" fill="#FFA500" fill-opacity="0.7"/>
<circle cx="1161.3" cy="206.7" r="7.8" fill="#FF0000" fill-opacity="0.7"/>
<circle cx="1765.6" cy="309.2" r="8.5" fill="#FF0000" fill-opacity="0.7"/>
<circle cx="1282.5" cy="141.6" r="7.8" fill="#808080" fill-opacity="0.7"/>
<circle cx="1883.6" cy="299.5" r="9.0" fill="#FF0000" fill-opacity="0.7"/>
<circle cx="1424.8" cy="362.6" r="5.9" fill="#FF0000" fill-opacity="0.7"/>
<circle cx="1761.8" cy="313.1" r="7.3" fill="#FF0000" fill-opacity="0.7"/>
<circle cx="560.0" cy="348.2" r="5.6" fill="#FFA500" fill-opacity="0.7"/>
<circle cx="776.1" cy="440.1" r="7.5" fill="#808080" fill-opacity="0.7"/>
<circle cx="1326.7" cy="230.0" r="7.0" fill="#FFA500" fill-opacity="0.7"/>
<circle cx="667.0" cy="272.2" r="4.0" fill="#00BFFF" fill-opacity="0.7"/>
<circle cx="1846.4" cy="308.0" r="9.0" fill="#FF0000" fill-opacity="0.7"/>
<circle cx="1813.8" cy="301.8" r="7.8" fill="#FFA500" fill-opacity="0.7"/>
<circle cx="1570.5" cy="399.3" r="9.0" fill="#FF0000" fill-opacity="0.7"/>
<circle cx="1570.5" cy="378.4" r="10.9" fill="#FF0000" fill-opacity="0.7"/>
<circle cx="1864.2" cy="303.6" r="7.5" fill="#FF0000" fill-opacity="0.7"/>
<circle cx="1710.7" cy="372.7" r="6.5" fill="#FF0000" fill-opacity="0.7"/>
<circle cx="1775.0" cy="376.3" r="8.8" fill="#FF0000" fill-opacity="0.7"/>
<circle cx="845.8" cy="505.7" r="6.2" fill="#808080" fill-opacity="0.7"/>
<circle cx="1534.9" cy="413.3" r="8.5" fill="#FF0000" fill-opacity="0.7"/>
<circle cx="900.4" cy="516.9" r="7.5" fill="#FF0000" fill-opacity="0.7"/>
<circle cx="1806.0" cy="261.5" r="6.2" fill="#FFA500" fill-opacity="0.7"/>
<circle cx="1228.8" cy="126.6" r="6.2" fill="#808080" fill-opacity="0.7"/>
<circle cx="674.7" cy="276.1" r="6.2" fill="#808080" fill-opacity="0.7"/>
<circle cx="1170.9" cy="210.6" r="6.7" fill="#FF0000" fill-opacity="0.7"/>
<circle cx="1528.7" cy="421.8" r="7.1" fill="#FFA500" fill-opacity="0.7"/>
<circle cx="563.1" cy="356.0" r="7.4" fill="#FF0000" fill-opacity="0.7"/>
<circle cx="1809.9" cy="292.5" r="9.0" fill="#FFA500" fill-opacity="0.7"/>
<circle cx="562.3" cy="339.4" r="4.0" fill="#808080" fill-opacity="0.7"/>
<circle cx="1674.3" cy="363.8" r="7.8" fill="#FF0000" fill-opacity="0.7"/>
<circle cx="1386.1" cy="348.8" r="7.8" fill="#FF0000" fill-opacity="0.7"/>
<circle cx="1589.1" cy="367.5" r="10.9" fill="#FF0000" fill-opacity="0.7"/>
<circle cx="613.5" cy="237.4" r="5.0" fill="#808080" fill-opacity="0.7"/>
<circle cx="853.3" cy="524.1" r="4.7" fill="#808080" fill-opacity="0.7"/>
<circle cx="1728.5" cy="321.9" r="3.6" fill="#808080" fill-opacity="0.7"/>
<circle cx="490.8" cy="203.1" r="2.8" fill="#00BFFF" fill-opacity="0.7"/>
<circle cx="538.9" cy="219.6" r="2.8" fill="#00BFFF" fill-opacity="0.7"/>
<circle cx="441.7" cy="236.2" r="2.8" fill="#00BFFF" fill-opacity="0.7"/>
<circle cx="439.1" cy="246.8" r="2.8" fill="#00BFFF" fill-opacity="0.7"/>
<circle cx="436.8" cy="249.1" r="2.8" fill="#00BFFF" fill-opacity="0.7"/>
<circle cx="497.3" cy="266.9" r="2.8" fill="#00BFFF" fill-opacity="0.7"/>
<circle cx="539.1" cy="287.1" r="2.8" fill="#00BFFF" fill-opacity="0.7"/>
<circle cx="559.3" cy="301.8" r="2.8" fill="#00BFFF" fill-opacity="0.7"/>
<circle cx="486.9" cy="304.1" r="2.8" fill="#00BFFF" fill-opacity="0.7"/>
<circle cx="468.1" cy="309.6" r="2.8" fill="#00BFFF" fill-opacity="0.7"/>
<circle cx="500.6" cy="314.2" r="2.8" fill="#00BFFF" fill-opacity="0.7"/>
<circle cx="479.9" cy="318.6" r="2.8" fill="#00BFFF" fill-opacity="0.7"/>
<circle cx="528.3" cy="321.4" r="2.8" fill="#00BFFF" fill-opacity="0.7"/>
<circle cx="530.9" cy="339.3" r="2.8" fill="#00BFFF" fill-opacity="0.7"/>
<circle cx="540.4" cy="368.0" r="2.8" fill="#00BFFF" fill-opacity="0.7"/>
<circle cx="548.2" cy="368.0" r="2.8" fill="#00BFFF" fill-opacity="0.7"/>
<circle cx="559.3" cy="374.2" r="2.8" fill="#00BFFF" fill-opacity="0.7"/>
<circle cx="559.3" cy="356.6" r="2.8" fill="#00BFFF" fill-opacity="0.7"/>
<circle cx="1091.6" cy="190.2" r="2.8" fill="#00BFFF" fill-opacity="0.7"/>
<circle cx="1105.0" cy="195.3" r="2.8" fill="#00BFFF" fill-opacity="0.7"/>
<circle cx="1107.3" cy="197.9" r="2.8" fill="#00BFFF" fill-opacity="0.7"/>
<circle cx="1105.8" cy="204.1" r="2.8" fill="#00BFFF" fill-opacity="0.7"/>
<circle cx="1068.8" cy="258.1" r="2.8" fill="#00BFFF" fill-opacity="0.7"/>
<circle cx="1090.8" cy="261.0" r="2.8" fill="#00BFFF" fill-opacity="0.7"/>
<circle cx="1092.9" cy="259.2" r="2.8" fill="#00BFFF" fill-opacity="0.7"/>
<circle cx="1096.7" cy="259.7" r="3.1" fill="#00BFFF" fill-opacity="0.7"/>
<circle cx="1100.6" cy="260.5" r="3.1" fill="#00BFFF" fill-opacity="0.7"/>
<circle cx="1105.8" cy="258.1" r="2.8" fill="#00BFFF" fill-opacity="0.7"/>
<circle cx="1110.4" cy="263.6" r="2.8" fill="#00BFFF" fill-opacity="0.7"/>
<circle cx="1108.9" cy="268.7" r="2.8" fill="#00BFFF" fill-opacity="0.7"/>
<circle cx="1066.5" cy="270.3" r="2.8" fill="#00BFFF" fill-opacity="0.7"/>
<circle cx="1093.4" cy="275.7" r="2.8" fill="#00BFFF" fill-opacity="0.7"/>
<circle cx="1063.9" cy="285.0" r="2.8" fill="#00BFFF" fill-opacity="0.7"/>
<circle cx="1076.6" cy="286.6" r="2.8" fill="#00BFFF" fill-opacity="0.7"/>
<circle cx="1093.1" cy="289.4" r="2.8" fill="#00BFFF" fill-opacity="0.7"/>
<circle cx="1081.5" cy="292.0" r="2.8" fill="#00BFFF" fill-opacity="0.7"/>
<circle cx="1083.8" cy="298.4" r="2.8" fill="#00BFFF" fill-opacity="0.7"/>
<circle cx="1097.5" cy="304.1" r="2.8" fill="#00BFFF" fill-opacity="0.7"/>
<circle cx="1072.7" cy="312.7" r="2.8" fill="#00BFFF" fill-opacity="0.7"/>
<circle cx="1066.5" cy="315.2" r="2.8" fill="#00BFFF" fill-opacity="0.7"/>
<circle cx="1191.6" cy="133.1" r="2.3" fill="#808080" fill-opacity="0.7"/>
<circle cx="1149.7" cy="166.9" r="2.3" fill="#808080" fill-opacity="0.7"/>
<circle cx="1182.8" cy="188.1" r="2.3" fill="#808080" fill-opacity="0.7"/>
<circle cx="1226.5" cy="196.4" r="2.3" fill="#808080" fill-opacity="0.7"/>
<circle cx="1313.8" cy="222.2" r="3.1" fill="#808080" fill-opacity="0.7"/>
<circle cx="1350.0" cy="265.6" r="2.3" fill="#808080" fill-opacity="0.7"/>
<circle cx="1452.8" cy="179.1" r="2.3" fill="#808080" fill-opacity="0.7"/>
<circle cx="1585.9" cy="192.8" r="2.1" fill="#808080" fill-opacity="0.7"/>
<circle cx="1607.9" cy="261.0" r="3.1" fill="#808080" fill-opacity="0.7"/>
<circle cx="1608.9" cy="265.6" r="2.1" fill="#808080" fill-opacity="0.7"/>
<circle cx="1567.0" cy="249.4" r="2.3" fill="#808080" fill-opacity="0.7"/>
<circle cx="1361.1" cy="269.0" r="2.3" fill="#FF0000" fill-opacity="0.7"/>
<circle cx="1354.4" cy="298.7" r="2.3" fill="#FF0000" fill-opacity="0.7"/>
<circle cx="1272.2" cy="161.2" r="2.8" fill="#00BFFF" fill-opacity="0.7"/>
<circle cx="1281.8" cy="169.0" r="2.8" fill="#00BFFF" fill-opacity="0.7"/>
<circle cx="1189.3" cy="167.4" r="2.8" fill="#00BFFF" fill-opacity="0.7"/>
<circle cx="1191.8" cy="169.3" r="2.8" fill="#00BFFF" fill-opacity="0.7"/>
<circle cx="1197.5" cy="166.7" r="2.8" fill="#00BFFF" fill-opacity="0.7"/>
<circle cx="1202.2" cy="164.9" r="2.8" fill="#00BFFF" fill-opacity="0.7"/>
<circle cx="1205.3" cy="164.1" r="2.8" fill="#00BFFF" fill-opacity="0.7"/>
<circle cx="1209.1" cy="165.4" r="2.8" fill="#00BFFF" fill-opacity="0.7"/>
<circle cx="1181.2" cy="177.0" r="2.8" fill="#00BFFF" fill-opacity="0.7"/>
<circle cx="1229.0" cy="186.3" r="2.8" fill="#00BFFF" fill-opacity="0.7"/>
<circle cx="1324.7" cy="190.7" r="2.8" fill="#00BFFF" fill-opacity="0.7"/>
<circle cx="1313.8" cy="197.7" r="2.8" fill="#00BFFF" fill-opacity="0.7"/>
<circle cx="1345.3" cy="193.0" r="2.8" fill="#00BFFF" fill-opacity="0.7"/>
<circle cx="1354.6" cy="187.9" r="2.8" fill="#00BFFF" fill-opacity="0.7"/>
<circle cx="1228.5" cy="209.3" r="2.8" fill="#00BFFF" fill-opacity="0.7"/>
<circle cx="1182.0" cy="209.8" r="2.8" fill="#00BFFF" fill-opacity="0.7"/>
<circle cx="1189.3" cy="215.0" r="2.8" fill="#00BFFF" fill-opacity="0.7"/>
<circle cx="1175.6" cy="219.1" r="2.8" fill="#00BFFF" fill-opacity="0.7"/>
<circle cx="1231.6" cy="216.5" r="2.8" fill="#00BFFF" fill-opacity="0.7"/>
<circle cx="1235.0" cy="219.6" r="2.8" fill="#00BFFF" fill-opacity="0.7"/>
<circle cx="1135.5" cy="220.9" r="2.8" fill="#00BFFF" fill-opacity="0.7"/>
<circle cx="1131.6" cy="219.6" r="2.8" fill="#00BFFF" fill-opacity="0.7"/>
<circle cx="1152.3" cy="214.5" r="2.8" fill="#00BFFF" fill-opacity="0.7"/>
<circle cx="1158.8" cy="213.2" r="2.8" fill="#00BFFF" fill-opacity="0.7"/>
<circle cx="1173.5" cy="230.5" r="2.8" fill="#00BFFF" fill-opacity="0.7"/>
<circle cx="1187.7" cy="224.3" r="2.8" fill="#00BFFF" fill-opacity="0.7"/>
<circle cx="1196.2" cy="232.6" r="2.8" fill="#00BFFF" fill-opacity="0.7"/>
<circle cx="1273.2" cy="234.6" r="2.8" fill="#00BFFF" fill-opacity="0.7"/>
<circle cx="1335.2" cy="234.6" r="2.8" fill="#00BFFF" fill-opacity="0.7"/>
<circle cx="1359.0" cy="229.2" r="2.8" fill="#00BFFF" fill-opacity="0.7"/>
<circle cx="1376.3" cy="211.9" r="2.8" fill="#00BFFF" fill-opacity="0.7"/>
<circle cx="1400.4" cy="174.9" r="2.8" fill="#00BFFF" fill-opacity="0.7"/>
<circle cx="1406.0" cy="185.0" r="2.8" fill="#00BFFF" fill-opacity="0.7"/>
<circle cx="1457.2" cy="147.8" r="2.8" fill="#00BFFF" fill-opacity="0.7"/>
<circle cx="1428.8" cy="195.1" r="2.8" fill="#00BFFF" fill-opacity="0.7"/>
<circle cx="1441.2" cy="193.3" r="2.8" fill="#00BFFF" fill-opacity="0.7"/>
<circle cx="1536.3" cy="209.8" r="2.8" fill="#00BFFF" fill-opacity="0.7"/>
<circle cx="1122.6" cy="228.2" r="2.8" fill="#00BFFF" fill-opacity="0.7"/>
<circle cx="1129.8" cy="230.7" r="2.8" fill="#00BFFF" fill-opacity="0.7"/>
<circle cx="1130.9" cy="239.8" r="2.8" fill="#00BFFF" fill-opacity="0.7"/>
<circle cx="1138.1" cy="240.3" r="2.8" fill="#00BFFF" fill-opacity="0.7"/>
<circle cx="1129.0" cy="244.2" r="2.8" fill="#00BFFF" fill-opacity="0.7"/>
<circle cx="1244.8" cy="241.1" r="2.8" fill="#00BFFF" fill-opacity="0.7"/>
<circle cx="1239.4" cy="245.5" r="2.8" fill="#00BFFF" fill-opacity="0.7"/>
<circle cx="1235.0" cy="249.4" r="2.8" fill="#00BFFF" fill-opacity="0.7"/>
<circle cx="1251.8" cy="250.6" r="2.8" fill="#00BFFF" fill-opacity="0.7"/>
<circle cx="1267.3" cy="247.5" r="2.3" fill="#00BFFF" fill-opacity="0.7"/>
<circle cx="1264.2" cy="254.5" r="2.8" fill="#00BFFF" fill-opacity="0.7"/>
<circle cx="1323.4" cy="250.4" r="2.8" fill="#00BFFF" fill-opacity="0.7"/>
<circle cx="1147.1" cy="245.5" r="2.8" fill="#00BFFF" fill-opacity="0.7"/>
<circle cx="1153.6" cy="246.8" r="2.8" fill="#00BFFF" fill-opacity="0.7"/>
<circle cx="1160.1" cy="245.5" r="2.8" fill="#00BFFF" fill-opacity="0.7"/>
<circle cx="1163.9" cy="246.8" r="2.8" fill="#00BFFF" fill-opacity="0.7"/>
<circle cx="1167.8" cy="247.5" r="2.8" fill="#00BFFF" fill-opacity="0.7"/>
<circle cx="1171.7" cy="248.1" r="2.8" fill="#00BFFF" fill-opacity="0.7"/>
<circle cx="1175.6" cy="249.4" r="2.8" fill="#00BFFF" fill-opacity="0.7"/>
<circle cx="1180.7" cy="248.6" r="2.8" fill="#00BFFF" fill-opacity="0.7"/>
<circle cx="1184.6" cy="244.2" r="2.8" fill="#00BFFF" fill-opacity="0.7"/>
<circle cx="1188.5" cy="242.9" r="2.8" fill="#00BFFF" fill-opacity="0.7"/>
<circle cx="1192.4" cy="241.6" r="2.8" fill="#00BFFF" fill-opacity="0.7"/>
<circle cx="1179.9" cy="240.3" r="2.8" fill="#00BFFF" fill-opacity="0.7"/>
<circle cx="1204.0" cy="247.5" r="2.8" fill="#00BFFF" fill-opacity="0.7"/>
<circle cx="1205.3" cy="257.9" r="2.8" fill="#00BFFF" fill-opacity="0.7"/>
<circle cx="1218.2" cy="262.3" r="2.8" fill="#00BFFF" fill-opacity="0.7"/>
<circle cx="1174.8" cy="256.6" r="2.8" fill="#00BFFF" fill-opacity="0.7"/>
<circle cx="1172.2" cy="261.5" r="2.8" fill="#00BFFF" fill-opacity="0.7"/>
<circle cx="1159.3" cy="253.2" r="2.8" fill="#00BFFF" fill-opacity="0.7"/>
<circle cx="1125.7" cy="255.8" r="2.8" fill="#00BFFF" fill-opacity="0.7"/>
<circle cx="1122.1" cy="258.4" r="2.8" fill="#00BFFF" fill-opacity="0.7"/>
<circle cx="1125.7" cy="269.5" r="2.8" fill="#00BFFF" fill-opacity="0.7"/>
<circle cx="1183.3" cy="267.4" r="2.8" fill="#00BFFF" fill-opacity="0.7"/>
<circle cx="1189.3" cy="262.3" r="2.8" fill="#00BFFF" fill-opacity="0.7"/>
<circle cx="1195.7" cy="266.1" r="2.8" fill="#00BFFF" fill-opacity="0.7"/>
<circle cx="1238.9" cy="273.4" r="2.8" fill="#00BFFF" fill-opacity="0.7"/>
<circle cx="1239.4" cy="281.1" r="2.8" fill="#00BFFF" fill-opacity="0.7"/>
<circle cx="1243.3" cy="287.6" r="2.8" fill="#00BFFF" fill-opacity="0.7"/>
<circle cx="1262.1" cy="285.0" r="3.1" fill="#00BFFF" fill-opacity="0.7"/>
<circle cx="1263.4" cy="275.2" r="2.8" fill="#00BFFF" fill-opacity="0.7"/>
<circle cx="1268.6" cy="271.8" r="2.8" fill="#00BFFF" fill-opacity="0.7"/>
<circle cx="1275.0" cy="271.3" r="2.8" fill="#00BFFF" fill-opacity="0.7"/>
<circle cx="1314.3" cy="270.5" r="2.8" fill="#00BFFF" fill-opacity="0.7"/>
<circle cx="1317.7" cy="279.6" r="2.8" fill="#00BFFF" fill-opacity="0.7"/>
<circle cx="1395.2" cy="257.6" r="2.8" fill="#00BFFF" fill-opacity="0.7"/>
<circle cx="1387.4" cy="275.2" r="2.8" fill="#00BFFF" fill-opacity="0.7"/>
<circle cx="1386.1" cy="292.8" r="2.8" fill="#00BFFF" fill-opacity="0.7"/>
<circle cx="1388.2" cy="297.9" r="2.8" fill="#00BFFF" fill-opacity="0.7"/>
<circle cx="1381.5" cy="304.1" r="2.8" fill="#00BFFF" fill-opacity="0.7"/>
<circle cx="1381.5" cy="308.8" r="2.8" fill="#00BFFF" fill-opacity="0.7"/>
<circle cx="1361.1" cy="301.3" r="2.8" fill="#00BFFF" fill-opacity="0.7"/>
<circle cx="1167.8" cy="293.0" r="2.8" fill="#00BFFF" fill-opacity="0.7"/>
<circle cx="1190.3" cy="288.1" r="2.8" fill="#00BFFF" fill-opacity="0.7"/>
<circle cx="1196.2" cy="291.5" r="2.8" fill="#00BFFF" fill-opacity="0.7"/>
<circle cx="1186.1" cy="316.3" r="2.8" fill="#00BFFF" fill-opacity="0.7"/>
<circle cx="1306.8" cy="316.3" r="2.8" fill="#00BFFF" fill-opacity="0.7"/>
<circle cx="1312.0" cy="320.4" r="2.8" fill="#00BFFF" fill-opacity="0.7"/>
<circle cx="1304.0" cy="322.2" r="2.8" fill="#00BFFF" fill-opacity="0.7"/>
<circle cx="1311.2" cy="323.0" r="2.8" fill="#00BFFF" fill-opacity="0.7"/>
<circle cx="1291.1" cy="325.1" r="2.8" fill="#00BFFF" fill-opacity="0.7"/>
<circle cx="1285.4" cy="337.2" r="2.8" fill="#00BFFF" fill-opacity="0.7"/>
<circle cx="1315.6" cy="304.4" r="2.8" fill="#00BFFF" fill-opacity="0.7"/>
<circle cx="1312.5" cy="294.6" r="3.1" fill="#00BFFF" fill-opacity="0.7"/>
<circle cx="1562.6" cy="267.4" r="2.8" fill="#00BFFF" fill-opacity="0.7"/>
<circle cx="1539.1" cy="288.9" r="2.8" fill="#00BFFF" fill-opacity="0.7"/>
<circle cx="1375.8" cy="330.7" r="2.8" fill="#00BFFF" fill-opacity="0.7"/>
<circle cx="1377.9" cy="337.7" r="2.8" fill="#00BFFF" fill-opacity="0.7"/>
<circle cx="1384.9" cy="348.8" r="2.8" fill="#00BFFF" fill-opacity="0.7"/>
<circle cx="1388.7" cy="352.7" r="2.8" fill="#00BFFF" fill-opacity="0.7"/>
<circle cx="1371.9" cy="362.5" r="2.8" fill="#00BFFF" fill-opacity="0.7"/>
<circle cx="1324.1" cy="365.1" r="2.8" fill="#00BFFF" fill-opacity="0.7"/>
<circle cx="1577.4" cy="253.2" r="2.8" fill="#00BFFF" fill-opacity="0.7"/>
<circle cx="1583.8" cy="254.5" r="2.8" fill="#00BFFF" fill-opacity="0.7"/>
<circle cx="1599.3" cy="255.3" r="2.8" fill="#00BFFF" fill-opacity="0.7"/>
<circle cx="1605.8" cy="239.0" r="2.8" fill="#00BFFF" fill-opacity="0.7"/>
<circle cx="1909.1" cy="705.0" r="2.3" fill="#FF0000" fill-opacity="0.7"/>
<circle cx="1745.6" cy="518.9" r="2.3" fill="#808080" fill-opacity="0.7"/>
<circle cx="1753.1" cy="671.6" r="2.3" fill="#808080" fill-opacity="0.7"/>
<circle cx="1748.4" cy="681.5" r="2.3" fill="#808080" fill-opacity="0.7"/>
<circle cx="1911.5" cy="725.1" r="2.3" fill="#808080" fill-opacity="0.7"/>
<circle cx="1869.6" cy="678.6" r="2.3" fill="#808080" fill-opacity="0.7"/>
<circle cx="1943.0" cy="686.4" r="2.3" fill="#808080" fill-opacity="0.7"/>
<circle cx="1947.4" cy="677.6" r="2.3" fill="#808080" fill-opacity="0.7"/>
<circle cx="2074.0" cy="701.4" r="2.1" fill="#808080" fill-opacity="0.7"/>
<circle cx="1641.4" cy="404.7" r="2.8" fill="#00BFFF" fill-opacity="0.7"/>
<circle cx="1667.8" cy="415.8" r="2.8" fill="#00BFFF" fill-opacity="0.7"/>
<circle cx="1673.5" cy="420.0" r="2.8" fill="#00BFFF" fill-opacity="0.7"/>
<circle cx="1666.5" cy="422.3" r="3.1" fill="#00BFFF" fill-opacity="0.7"/>
<circle cx="1700.9" cy="438.0" r="3.4" fill="#00BFFF" fill-opacity="0.7"/>
<circle cx="1796.2" cy="452.0" r="2.8" fill="#00BFFF" fill-opacity="0.7"/>
<circle cx="1665.5" cy="468.0" r="2.8" fill="#00BFFF" fill-opacity="0.7"/>
<circle cx="1671.7" cy="480.9" r="3.1" fill="#00BFFF" fill-opacity="0.7"/>
<circle cx="1714.6" cy="497.5" r="2.8" fill="#00BFFF" fill-opacity="0.7"/>
<circle cx="1769.6" cy="525.4" r="2.8" fill="#00BFFF" fill-opacity="0.7"/>
<circle cx="1720.5" cy="535.7" r="2.8" fill="#00BFFF" fill-opacity="0.7"/>
<circle cx="1732.9" cy="537.3" r="2.8" fill="#00BFFF" fill-opacity="0.7"/>
<circle cx="1699.6" cy="531.3" r="2.3" fill="#00BFFF" fill-opacity="0.7"/>
<circle cx="1942.2" cy="682.5" r="2.3" fill="#00BFFF" fill-opacity="0.7"/>
<circle cx="1329.3" cy="379.7" r="3.1" fill="#00BFFF" fill-opacity="0.7"/>
<circle cx="1331.9" cy="379.1" r="2.8" fill="#00BFFF" fill-opacity="0.7"/>
<circle cx="1346.4" cy="401.9" r="2.8" fill="#00BFFF" fill-opacity="0.7"/>
<circle cx="1160.6" cy="431.3" r="2.8" fill="#00BFFF" fill-opacity="0.7"/>
<circle cx="1154.9" cy="447.4" r="2.8" fill="#00BFFF" fill-opacity="0.7"/>
<circle cx="1140.2" cy="451.7" r="2.8" fill="#00BFFF" fill-opacity="0.7"/>
<circle cx="1132.4" cy="460.3" r="3.1" fill="#00BFFF" fill-opacity="0.7"/>
<circle cx="1135.5" cy="460.8" r="2.8" fill="#00BFFF" fill-opacity="0.7"/>
<circle cx="1151.0" cy="462.9" r="2.8" fill="#00BFFF" fill-opacity="0.7"/>
<circle cx="1155.4" cy="461.6" r="2.8" fill="#00BFFF" fill-opacity="0.7"/>
<circle cx="1326.7" cy="448.1" r="2.8" fill="#00BFFF" fill-opacity="0.7"/>
<circle cx="1296.2" cy="494.6" r="2.8" fill="#00BFFF" fill-opacity="0.7"/>
<circle cx="1316.4" cy="503.9" r="2.8" fill="#00BFFF" fill-opacity="0.7"/>
<circle cx="1331.1" cy="518.9" r="2.8" fill="#00BFFF" fill-opacity="0.7"/>
<circle cx="1329.3" cy="534.7" r="2.8" fill="#00BFFF" fill-opacity="0.7"/>
<circle cx="1199.1" cy="519.4" r="2.8" fill="#00BFFF" fill-opacity="0.7"/>
<circle cx="1187.2" cy="546.1" r="2.8" fill="#00BFFF" fill-opacity="0.7"/>
<circle cx="1275.8" cy="638.6" r="2.8" fill="#00BFFF" fill-opacity="0.7"/>
<circle cx="1267.3" cy="643.2" r="2.8" fill="#00BFFF" fill-opacity="0.7"/>
<circle cx="1283.3" cy="661.8" r="2.8" fill="#00BFFF" fill-opacity="0.7"/>
<circle cx="1216.1" cy="683.5" r="2.8" fill="#00BFFF" fill-opacity="0.7"/>
<circle cx="1277.1" cy="601.6" r="2.6" fill="#00BFFF" fill-opacity="0.7"/>
<circle cx="1259.3" cy="597.7" r="2.6" fill="#808080" fill-opacity="0.7"/>
<circle cx="630.3" cy="412.0" r="2.8" fill="#00BFFF" fill-opacity="0.7"/>
<circle cx="623.1" cy="421.5" r="3.1" fill="#00BFFF" fill-opacity="0.7"/>
<circle cx="699.1" cy="440.6" r="2.8" fill="#00BFFF" fill-opacity="0.7"/>
<circle cx="722.3" cy="441.4" r="2.8" fill="#00BFFF" fill-opacity="0.7"/>
<circle cx="732.9" cy="441.9" r="2.8" fill="#00BFFF" fill-opacity="0.7"/>
<circle cx="725.7" cy="446.1" r="2.8" fill="#00BFFF" fill-opacity="0.7"/>
<circle cx="758.5" cy="441.7" r="2.8" fill="#00BFFF" fill-opacity="0.7"/>
<circle cx="698.3" cy="462.9" r="2.8" fill="#00BFFF" fill-opacity="0.7"/>
<circle cx="698.8" cy="469.3" r="2.8" fill="#00BFFF" fill-opacity="0.7"/>
<circle cx="705.8" cy="472.2" r="2.8" fill="#00BFFF" fill-opacity="0.7"/>
<circle cx="693.4" cy="478.1" r="2.8" fill="#00BFFF" fill-opacity="0.7"/>
<circle cx="712.5" cy="465.4" r="2.3" fill="#00BFFF" fill-opacity="0.7"/>
<circle cx="674.8" cy="509.1" r="2.8" fill="#00BFFF" fill-opacity="0.7"/>
<circle cx="690.3" cy="562.3" r="2.8" fill="#00BFFF" fill-opacity="0.7"/>
<circle cx="921.8" cy="541.7" r="2.8" fill="#00BFFF" fill-opacity="0.7"/>
<circle cx="847.4" cy="505.5" r="2.3" fill="#00BFFF" fill-opacity="0.7"/>
<circle cx="901.7" cy="517.9" r="2.3" fill="#00BFFF" fill-opacity="0.7"/>
<circle cx="828.8" cy="611.2" r="2.8" fill="#00BFFF" fill-opacity="0.7"/>
<circle cx="849.7" cy="613.2" r="2.8" fill="#00BFFF" fill-opacity="0.7"/>
<circle cx="851.8" cy="621.8" r="2.8" fill="#00BFFF" fill-opacity="0.7"/>
<circle cx="859.0" cy="624.4" r="2.8" fill="#00BFFF" fill-opacity="0.7"/>
<circle cx="862.9" cy="623.1" r="2.8" fill="#00BFFF" fill-opacity="0.7"/>
<circle cx="842.7" cy="637.3" r="2.8" fill="#00BFFF" fill-opacity="0.7"/>
<circle cx="832.4" cy="661.0" r="2.8" fill="#00BFFF" fill-opacity="0.7"/>
<circle cx="724.9" cy="681.2" r="3.4" fill="#00BFFF" fill-opacity="0.7"/>
<circle cx="805.5" cy="688.2" r="3.1" fill="#00BFFF" fill-opacity="0.7"/>
<circle cx="781.5" cy="690.2" r="2.8" fill="#00BFFF" fill-opacity="0.7"/>
<circle cx="1020.3" cy="382.2" r="2.8" fill="#00BFFF" fill-opacity="0.7"/>
<circle cx="1113.5" cy="466.0" r="2.8" fill="#00BFFF" fill-opacity="0.7"/>
<circle cx="867.5" cy="593.3" r="2.8" fill="#00BFFF" fill-opacity="0.7"/>
<circle cx="768.6" cy="451.7" r="2.8" fill="#808080" fill-opacity="0.7"/>
<circle cx="700.4" cy="581.2" r="2.3" fill="#808080" fill-opacity="0.7"/>
<circle cx="880.5" cy="584.8" r="2.3" fill="#808080" fill-opacity="0.7"/>
<circle cx="807.3" cy="609.6" r="2.3" fill="#808080" fill-opacity="0.7"/>
<circle cx="883.0" cy="601.6" r="2.6" fill="#808080" fill-opacity="0.7"/>
<circle cx="842.7" cy="637.3" r="2.3" fill="#808080" fill-opacity="0.7"/>
<circle cx="784.3" cy="514.5" r="2.3" fill="#FF0000" fill-opacity="0.7"/>
<circle cx="681.8" cy="546.8" r="2.3" fill="#FF0000" fill-opacity="0.7"/>
<circle cx="695.2" cy="572.9" r="2.3" fill="#FF0000" fill-opacity="0.7"/>
<circle cx="902.7" cy="567.8" r="2.3" fill="#FF0000" fill-opacity="0.7"/>
<circle cx="797.8" cy="635.2" r="2.3" fill="#FF0000" fill-opacity="0.7"/>
<circle cx="830.1" cy="661.8" r="2.3" fill="#FF0000" fill-opacity="0.7"/>
<circle cx="546.4" cy="384.0" r="2.8" fill="#00BFFF" fill-opacity="0.7"/>
<circle cx="559.3" cy="384.6" r="2.8" fill="#00BFFF" fill-opacity="0.7"/>
<circle cx="559.3" cy="376.3" r="2.8" fill="#00BFFF" fill-opacity="0.7"/>
<circle cx="614.8" cy="418.9" r="2.8" fill="#00BFFF" fill-opacity="0.7"/>
<circle cx="620.0" cy="421.5" r="2.8" fill="#00BFFF" fill-opacity="0.7"/>
<circle cx="1826.2" cy="267.7" r="2.5" fill="#FF0000" fill-opacity="0.7"/>
<circle cx="1671.9" cy="295.6" r="2.5" fill="#FF0000" fill-opacity="0.7"/>
<circle cx="1823.1" cy="262.8" r="2.6" fill="#808080" fill-opacity="0.7"/>
<circle cx="1638.3" cy="271.6" r="2.8" fill="#808080" fill-opacity="0.7"/>
<circle cx="1647.1" cy="274.2" r="2.5" fill="#808080" fill-opacity="0.7"/>
<circle cx="1651.8" cy="278.6" r="2.5" fill="#808080" fill-opacity="0.7"/>
<circle cx="1657.2" cy="278.1" r="2.5" fill="#808080" fill-opacity="0.7"/>
<circle cx="1669.6" cy="284.0" r="2.5" fill="#808080" fill-opacity="0.7"/>
<circle cx="1678.6" cy="290.2" r="2.5" fill="#808080" fill-opacity="0.7"/>
<circle cx="1669.6" cy="295.3" r="2.5" fill="#808080" fill-opacity="0.7"/>
<circle cx="1734.7" cy="274.7" r="2.5" fill="#808080" fill-opacity="0.7"/>
<circle cx="1761.9" cy="294.8" r="2.8" fill="#808080" fill-opacity="0.7"/>
<circle cx="1765.0" cy="299.5" r="2.5" fill="#808080" fill-opacity="0.7"/>
<circle cx="1702.9" cy="343.7" r="2.5" fill="#808080" fill-opacity="0.7"/>
<circle cx="1738.6" cy="345.2" r="3.4" fill="#808080" fill-opacity="0.7"/>
<circle cx="1661.9" cy="351.7" r="2.5" fill="#808080" fill-opacity="0.7"/>
<circle cx="1670.4" cy="363.8" r="2.8" fill="#808080" fill-opacity="0.7"/>
<circle cx="1665.7" cy="360.0" r="2.2" fill="#808080" fill-opacity="0.7"/>
<circle cx="1682.0" cy="370.8" r="2.5" fill="#808080" fill-opacity="0.7"/>
<circle cx="1690.5" cy="350.7" r="2.2" fill="#808080" fill-opacity="0.7"/>
<circle cx="1700.6" cy="352.2" r="2.5" fill="#808080" fill-opacity="0.7"/>
<circle cx="1758.0" cy="353.0" r="3.1" fill="#808080" fill-opacity="0.7"/>
<circle cx="1763.4" cy="358.4" r="2.5" fill="#808080" fill-opacity="0.7"/>
<circle cx="1739.4" cy="373.9" r="2.5" fill="#808080" fill-opacity="0.7"/>
<circle cx="1767.3" cy="304.1" r="2.5" fill="#808080" fill-opacity="0.7"/>
<circle cx="1776.6" cy="268.5" r="2.5" fill="#808080" fill-opacity="0.7"/>
<circle cx="1787.4" cy="266.2" r="3.4" fill="#808080" fill-opacity="0.7"/>
<circle cx="1889.0" cy="264.6" r="2.5" fill="#808080" fill-opacity="0.7"/>
<circle cx="1696.7" cy="298.3" r="2.2" fill="#808080" fill-opacity="0.7"/>
<circle cx="1753.3" cy="334.4" r="2.5" fill="#808080" fill-opacity="0.7"/>
<circle cx="1685.9" cy="353.8" r="3.4" fill="#808080" fill-opacity="0.7"/>
<circle cx="1736.3" cy="298.7" r="2.8" fill="#FFA500" fill-opacity="0.7"/>
<circle cx="1803.4" cy="284.3" r="2.8" fill="#FFA500" fill-opacity="0.7"/>
<circle cx="1711.5" cy="215.8" r="2.5" fill="#00BFFF" fill-opacity="0.7"/>
<circle cx="1696.0" cy="225.9" r="2.5" fill="#00BFFF" fill-opacity="0.7"/>
<circle cx="1866.5" cy="219.3" r="2.5" fill="#00BFFF" fill-opacity="0.7"/>
<circle cx="1796.7" cy="263.1" r="2.8" fill="#00BFFF" fill-opacity="0.7"/>
<circle cx="1789.0" cy="270.8" r="3.4" fill="#00BFFF" fill-opacity="0.7"/>
<circle cx="1793.6" cy="270.0" r="2.8" fill="#00BFFF" fill-opacity="0.7"/>
<circle cx="1760.3" cy="279.3" r="2.5" fill="#00BFFF" fill-opacity="0.7"/>
<circle cx="1765.7" cy="277.3" r="2.5" fill="#00BFFF" fill-opacity="0.7"/>
<circle cx="1778.4" cy="290.5" r="2.5" fill="#00BFFF" fill-opacity="0.7"/>
<circle cx="1823.9" cy="273.1" r="2.2" fill="#00BFFF" fill-opacity="0.7"/>
<circle cx="1890.9" cy="261.2" r="2.8" fill="#00BFFF" fill-opacity="0.7"/>
<circle cx="1885.9" cy="273.9" r="2.5" fill="#00BFFF" fill-opacity="0.7"/>
<circle cx="1889.0" cy="286.6" r="2.8" fill="#00BFFF" fill-opacity="0.7"/>
<circle cx="1810.4" cy="290.2" r="2.8" fill="#00BFFF" fill-opacity="0.7"/>
<circle cx="1809.5" cy="294.8" r="2.5" fill="#00BFFF" fill-opacity="0.7"/>
<circle cx="1808.8" cy="299.5" r="2.2" fill="#00BFFF" fill-opacity="0.7"/>
<circle cx="1820.8" cy="303.7" r="3.1" fill="#00BFFF" fill-opacity="0.7"/>
<circle cx="1824.7" cy="301.0" r="2.2" fill="#00BFFF" fill-opacity="0.7"/>
<circle cx="1833.2" cy="311.1" r="3.4" fill="#00BFFF" fill-opacity="0.7"/>
<circle cx="1831.6" cy="317.3" r="2.2" fill="#00BFFF" fill-opacity="0.7"/>
<circle cx="1846.4" cy="302.6" r="2.2" fill="#00BFFF" fill-opacity="0.7"/>
<circle cx="1848.7" cy="307.6" r="2.2" fill="#00BFFF" fill-opacity="0.7"/>
<circle cx="1853.3" cy="305.2" r="2.2" fill="#00BFFF" fill-opacity="0.7"/>
<circle cx="1856.4" cy="308.0" r="2.5" fill="#00BFFF" fill-opacity="0.7"/>
<circle cx="1858.8" cy="305.2" r="1.9" fill="#00BFFF" fill-opacity="0.7"/>
<circle cx="1865.7" cy="295.6" r="2.8" fill="#00BFFF" fill-opacity="0.7"/>
<circle cx="1866.5" cy="304.1" r="3.4" fill="#00BFFF" fill-opacity="0.7"/>
<circle cx="1868.8" cy="306.5" r="2.2" fill="#00BFFF" fill-opacity="0.7"/>
<circle cx="1874.3" cy="302.1" r="2.2" fill="#00BFFF" fill-opacity="0.7"/>
<circle cx="1872.7" cy="292.5" r="2.2" fill="#00BFFF" fill-opacity="0.7"/>
<circle cx="1877.4" cy="290.7" r="2.5" fill="#00BFFF" fill-opacity="0.7"/>
<circle cx="1882.0" cy="291.0" r="1.9" fill="#00BFFF" fill-opacity="0.7"/>
<circle cx="1882.8" cy="296.4" r="3.1" fill="#00BFFF" fill-opacity="0.7"/>
<circle cx="1684.8" cy="296.7" r="2.2" fill="#00BFFF" fill-opacity="0.7"/>
<circle cx="1731.6" cy="308.0" r="2.5" fill="#00BFFF" fill-opacity="0.7"/>
<circle cx="1762.6" cy="310.3" r="2.5" fill="#00BFFF" fill-opacity="0.7"/>
<circle cx="1775.8" cy="323.5" r="2.8" fill="#00BFFF" fill-opacity="0.7"/>
<circle cx="1730.4" cy="320.9" r="2.2" fill="#00BFFF" fill-opacity="0.7"/>
<circle cx="1734.0" cy="320.9" r="2.2" fill="#00BFFF" fill-opacity="0.7"/>
<circle cx="1725.9" cy="329.4" r="2.5" fill="#00BFFF" fill-opacity="0.7"/>
<circle cx="1730.5" cy="331.0" r="2.5" fill="#00BFFF" fill-opacity="0.7"/>
<circle cx="1739.4" cy="327.4" r="2.8" fill="#00BFFF" fill-opacity="0.7"/>
<circle cx="1742.5" cy="329.7" r="3.1" fill="#00BFFF" fill-opacity="0.7"/>
<circle cx="1745.6" cy="331.0" r="2.8" fill="#00BFFF" fill-opacity="0.7"/>
<circle cx="1748.7" cy="332.8" r="2.5" fill="#00BFFF" fill-opacity="0.7"/>
<circle cx="1751.0" cy="334.7" r="2.5" fill="#00BFFF" fill-opacity="0.7"/>
<circle cx="1758.0" cy="330.0" r="2.2" fill="#00BFFF" fill-opacity="0.7"/>
<circle cx="1743.6" cy="344.5" r="2.5" fill="#00BFFF" fill-opacity="0.7"/>
<circle cx="1764.2" cy="351.4" r="2.2" fill="#00BFFF" fill-opacity="0.7"/>
<circle cx="1767.3" cy="352.7" r="2.2" fill="#00BFFF" fill-opacity="0.7"/>
<circle cx="1770.1" cy="353.8" r="3.1" fill="#00BFFF" fill-opacity="0.7"/>
<circle cx="1771.9" cy="350.2" r="2.2" fill="#00BFFF" fill-opacity="0.7"/>
<circle cx="1744.8" cy="360.4" r="2.5" fill="#00BFFF" fill-opacity="0.7"/>
<circle cx="1675.0" cy="360.0" r="2.2" fill="#00BFFF" fill-opacity="0.7"/>
<circle cx="1680.5" cy="360.0" r="2.2" fill="#00BFFF" fill-opacity="0.7"/>
<circle cx="1685.1" cy="359.2" r="1.9" fill="#00BFFF" fill-opacity="0.7"/>
<circle cx="1781.2" cy="359.7" r="2.5" fill="#00BFFF" fill-opacity="0.7"/>
<circle cx="1776.6" cy="364.6" r="2.8" fill="#00BFFF" fill-opacity="0.7"/>
<circle cx="1775.0" cy="368.5" r="3.1" fill="#00BFFF" fill-opacity="0.7"/>
<circle cx="1620.0" cy="370.8" r="2.2" fill="#00BFFF" fill-opacity="0.7"/>
<circle cx="1699.8" cy="382.4" r="2.5" fill="#808080" fill-opacity="0.7"/>
<circle cx="1418.9" cy="319.5" r="2.2" fill="#808080" fill-opacity="0.7"/>
<circle cx="1493.0" cy="374.2" r="2.5" fill="#808080" fill-opacity="0.7"/>
<circle cx="1562.0" cy="379.9" r="2.5" fill="#808080" fill-opacity="0.7"/>
<circle cx="1582.9" cy="376.0" r="2.5" fill="#808080" fill-opacity="0.7"/>
<circle cx="1532.6" cy="413.3" r="2.5" fill="#808080" fill-opacity="0.7"/>
<circle cx="1404.3" cy="336.5" r="2.5" fill="#00BFFF" fill-opacity="0.7"/>
<circle cx="1413.2" cy="363.2" r="2.5" fill="#00BFFF" fill-opacity="0.7"/>
<circle cx="1416.3" cy="360.5" r="2.2" fill="#00BFFF" fill-opacity="0.7"/>
<circle cx="1424.0" cy="362.9" r="2.5" fill="#00BFFF" fill-opacity="0.7"/>
<circle cx="1433.3" cy="367.5" r="2.5" fill="#00BFFF" fill-opacity="0.7"/>
<circle cx="1440.6" cy="372.9" r="2.5" fill="#00BFFF" fill-opacity="0.7"/>
<circle cx="1482.9" cy="360.9" r="3.4" fill="#00BFFF" fill-opacity="0.7"/>
<circle cx="1508.5" cy="310.2" r="2.2" fill="#00BFFF" fill-opacity="0.7"/>
<circle cx="1512.4" cy="310.9" r="2.2" fill="#00BFFF" fill-opacity="0.7"/>
<circle cx="1515.5" cy="312.5" r="2.2" fill="#00BFFF" fill-opacity="0.7"/>
<circle cx="1520.9" cy="323.3" r="2.5" fill="#00BFFF" fill-opacity="0.7"/>
<circle cx="1524.0" cy="324.1" r="2.8" fill="#00BFFF" fill-opacity="0.7"/>
<circle cx="1527.1" cy="323.8" r="2.5" fill="#00BFFF" fill-opacity="0.7"/>
<circle cx="1529.5" cy="326.4" r="2.5" fill="#00BFFF" fill-opacity="0.7"/>
<circle cx="1531.8" cy="328.0" r="2.5" fill="#00BFFF" fill-opacity="0.7"/>
<circle cx="1534.9" cy="328.8" r="2.5" fill="#00BFFF" fill-opacity="0.7"/>
<circle cx="1537.2" cy="330.0" r="2.2" fill="#00BFFF" fill-opacity="0.7"/>
<circle cx="1538.8" cy="332.6" r="2.2" fill="#00BFFF" fill-opacity="0.7"/>
<circle cx="1540.3" cy="335.7" r="2.5" fill="#00BFFF" fill-opacity="0.7"/>
<circle cx="1539.5" cy="338.8" r="2.5" fill="#00BFFF" fill-opacity="0.7"/>
<circle cx="1538.0" cy="341.2" r="2.8" fill="#00BFFF" fill-opacity="0.7"/>
<circle cx="1529.9" cy="337.0" r="2.5" fill="#00BFFF" fill-opacity="0.7"/>
<circle cx="1529.9" cy="349.1" r="2.5" fill="#00BFFF" fill-opacity="0.7"/>
<circle cx="1543.4" cy="353.1" r="2.5" fill="#00BFFF" fill-opacity="0.7"/>
<circle cx="1556.6" cy="351.2" r="3.1" fill="#00BFFF" fill-opacity="0.7"/>
<circle cx="1558.9" cy="349.7" r="2.2" fill="#00BFFF" fill-opacity="0.7"/>
<circle cx="1512.4" cy="370.6" r="2.8" fill="#00BFFF" fill-opacity="0.7"/>
<circle cx="1517.8" cy="372.2" r="2.2" fill="#00BFFF" fill-opacity="0.7"/>
<circle cx="1508.5" cy="372.9" r="1.9" fill="#00BFFF" fill-opacity="0.7"/>
<circle cx="1510.1" cy="377.6" r="2.5" fill="#00BFFF" fill-opacity="0.7"/>
<circle cx="1515.5" cy="378.4" r="2.2" fill="#00BFFF" fill-opacity="0.7"/>
<circle cx="1516.3" cy="392.3" r="2.8" fill="#00BFFF" fill-opacity="0.7"/>
<circle cx="1519.4" cy="395.4" r="2.8" fill="#00BFFF" fill-opacity="0.7"/>
<circle cx="1545.7" cy="380.4" r="2.5" fill="#00BFFF" fill-opacity="0.7"/>
<circle cx="1548.1" cy="381.5" r="2.2" fill="#00BFFF" fill-opacity="0.7"/>
<circle cx="1545.0" cy="401.3" r="2.5" fill="#00BFFF" fill-opacity="0.7"/>
<circle cx="1553.5" cy="423.6" r="3.4" fill="#00BFFF" fill-opacity="0.7"/>
<circle cx="1551.9" cy="431.9" r="2.5" fill="#00BFFF" fill-opacity="0.7"/>
<circle cx="1540.3" cy="422.6" r="1.9" fill="#00BFFF" fill-opacity="0.7"/>
<circle cx="1534.6" cy="428.8" r="1.9" fill="#00BFFF" fill-opacity="0.7"/>
<circle cx="1530.7" cy="435.7" r="2.8" fill="#00BFFF" fill-opacity="0.7"/>
<circle cx="1546.5" cy="438.1" r="2.2" fill="#00BFFF" fill-opacity="0.7"/>
<circle cx="1553.2" cy="457.1" r="2.8" fill="#00BFFF" fill-opacity="0.7"/>
<circle cx="1586.8" cy="371.7" r="2.2" fill="#00BFFF" fill-opacity="0.7"/>
<circle cx="1591.5" cy="366.7" r="2.2" fill="#00BFFF" fill-opacity="0.7"/>
<circle cx="1593.8" cy="374.5" r="2.5" fill="#00BFFF" fill-opacity="0.7"/>
<circle cx="1594.6" cy="369.1" r="1.9" fill="#00BFFF" fill-opacity="0.7"/>
<circle cx="1600.0" cy="371.4" r="1.9" fill="#00BFFF" fill-opacity="0.7"/>
<circle cx="1538.8" cy="291.6" r="2.2" fill="#00BFFF" fill-opacity="0.7"/>
<circle cx="663.1" cy="292.7" r="2.5" fill="#808080" fill-opacity="0.7"/>
<circle cx="701.9" cy="277.7" r="2.2" fill="#808080" fill-opacity="0.7"/>
<circle cx="637.2" cy="312.9" r="2.8" fill="#808080" fill-opacity="0.7"/>
<circle cx="674.7" cy="259.8" r="3.1" fill="#808080" fill-opacity="0.7"/>
<circle cx="674.0" cy="265.3" r="2.2" fill="#808080" fill-opacity="0.7"/>
<circle cx="581.4" cy="221.9" r="2.5" fill="#00BFFF" fill-opacity="0.7"/>
<circle cx="602.6" cy="250.5" r="2.5" fill="#00BFFF" fill-opacity="0.7"/>
<circle cx="578.9" cy="266.0" r="2.5" fill="#00BFFF" fill-opacity="0.7"/>
<circle cx="630.5" cy="258.3" r="2.2" fill="#00BFFF" fill-opacity="0.7"/>
<circle cx="614.3" cy="269.1" r="2.8" fill="#00BFFF" fill-opacity="0.7"/>
<circle cx="621.2" cy="273.8" r="2.5" fill="#00BFFF" fill-opacity="0.7"/>
<circle cx="632.1" cy="267.6" r="2.2" fill="#00BFFF" fill-opacity="0.7"/>
<circle cx="637.5" cy="276.9" r="2.8" fill="#00BFFF" fill-opacity="0.7"/>
<circle cx="639.8" cy="279.2" r="2.2" fill="#00BFFF" fill-opacity="0.7"/>
<circle cx="645.3" cy="271.5" r="2.2" fill="#00BFFF" fill-opacity="0.7"/>
<circle cx="649.1" cy="264.5" r="1.9" fill="#00BFFF" fill-opacity="0.7"/>
<circle cx="656.1" cy="267.6" r="2.2" fill="#00BFFF" fill-opacity="0.7"/>
<circle cx="662.3" cy="269.1" r="2.2" fill="#00BFFF" fill-opacity="0.7"/>
<circle cx="670.1" cy="269.9" r="2.2" fill="#00BFFF" fill-opacity="0.7"/>
<circle cx="657.7" cy="276.1" r="2.8" fill="#00BFFF" fill-opacity="0.7"/>
<circle cx="646.8" cy="284.2" r="2.5" fill="#00BFFF" fill-opacity="0.7"/>
<circle cx="659.2" cy="286.2" r="2.8" fill="#00BFFF" fill-opacity="0.7"/>
<circle cx="674.0" cy="269.1" r="2.2" fill="#00BFFF" fill-opacity="0.7"/>
<circle cx="678.6" cy="267.6" r="2.5" fill="#00BFFF" fill-opacity="0.7"/>
<circle cx="681.7" cy="269.6" r="2.2" fill="#00BFFF" fill-opacity="0.7"/>
<circle cx="680.6" cy="256.0" r="2.2" fill="#00BFFF" fill-opacity="0.7"/>
<circle cx="692.6" cy="260.9" r="2.2" fill="#00BFFF" fill-opacity="0.7"/>
<circle cx="695.2" cy="260.3" r="2.2" fill="#00BFFF" fill-opacity="0.7"/>
<circle cx="687.4" cy="273.8" r="2.5" fill="#00BFFF" fill-opacity="0.7"/>
<circle cx="691.8" cy="276.1" r="2.5" fill="#00BFFF" fill-opacity="0.7"/>
<circle cx="697.2" cy="276.9" r="3.1" fill="#00BFFF" fill-opacity="0.7"/>
<circle cx="696.4" cy="274.6" r="1.9" fill="#00BFFF" fill-opacity="0.7"/>
<circle cx="705.4" cy="274.6" r="2.5" fill="#00BFFF" fill-opacity="0.7"/>
<circle cx="702.9" cy="246.7" r="2.2" fill="#00BFFF" fill-opacity="0.7"/>
<circle cx="711.9" cy="244.3" r="2.2" fill="#00BFFF" fill-opacity="0.7"/>
<circle cx="601.6" cy="284.3" r="2.5" fill="#00BFFF" fill-opacity="0.7"/>
<circle cx="674.4" cy="292.4" r="2.5" fill="#00BFFF" fill-opacity="0.7"/>
<circle cx="688.4" cy="292.7" r="2.5" fill="#00BFFF" fill-opacity="0.7"/>
<circle cx="691.8" cy="297.4" r="2.5" fill="#00BFFF" fill-opacity="0.7"/>
<circle cx="651.9" cy="299.7" r="2.8" fill="#00BFFF" fill-opacity="0.7"/>
<circle cx="612.4" cy="301.2" r="2.5" fill="#00BFFF" fill-opacity="0.7"/>
<circle cx="619.7" cy="300.2" r="3.1" fill="#00BFFF" fill-opacity="0.7"/>
<circle cx="625.9" cy="300.8" r="2.5" fill="#00BFFF" fill-opacity="0.7"/>
<circle cx="618.1" cy="304.5" r="2.5" fill="#00BFFF" fill-opacity="0.7"/>
<circle cx="595.3" cy="303.3" r="2.5" fill="#00BFFF" fill-opacity="0.7"/>
<circle cx="560.0" cy="301.7" r="2.2" fill="#00BFFF" fill-opacity="0.7"/>
<circle cx="584.5" cy="310.5" r="2.5" fill="#00BFFF" fill-opacity="0.7"/>
<circle cx="635.5" cy="306.8" r="2.5" fill="#00BFFF" fill-opacity="0.7"/>
<circle cx="632.9" cy="314.6" r="2.2" fill="#00BFFF" fill-opacity="0.7"/>
<circle cx="670.1" cy="303.3" r="3.1" fill="#00BFFF" fill-opacity="0.7"/>
<circle cx="674.7" cy="307.9" r="2.5" fill="#00BFFF" fill-opacity="0.7"/>
<circle cx="668.5" cy="310.5" r="2.5" fill="#00BFFF" fill-opacity="0.7"/>
<circle cx="678.1" cy="314.1" r="2.5" fill="#00BFFF" fill-opacity="0.7"/>
<circle cx="579.4" cy="317.7" r="3.1" fill="#00BFFF" fill-opacity="0.7"/>
<circle cx="593.3" cy="318.8" r="2.5" fill="#00BFFF" fill-opacity="0.7"/>
<circle cx="599.5" cy="319.5" r="2.5" fill="#00BFFF" fill-opacity="0.7"/>
<circle cx="618.6" cy="319.5" r="2.5" fill="#00BFFF" fill-opacity="0.7"/>
<circle cx="585.6" cy="325.0" r="2.5" fill="#00BFFF" fill-opacity="0.7"/>
<circle cx="630.2" cy="326.5" r="2.8" fill="#00BFFF" fill-opacity="0.7"/>
<circle cx="596.9" cy="331.6" r="2.5" fill="#00BFFF" fill-opacity="0.7"/>
<circle cx="575.2" cy="334.6" r="2.5" fill="#00BFFF" fill-opacity="0.7"/>
<circle cx="587.1" cy="337.8" r="2.5" fill="#00BFFF" fill-opacity="0.7"/>
<circle cx="663.4" cy="330.7" r="2.5" fill="#00BFFF" fill-opacity="0.7"/>
<circle cx="616.6" cy="331.9" r="1.9" fill="#00BFFF" fill-opacity="0.7"/>
<circle cx="661.6" cy="370.4" r="2.5" fill="#00BFFF" fill-opacity="0.7"/>
<circle cx="621.2" cy="381.6" r="2.5" fill="#00BFFF" fill-opacity="0.7"/>
<circle cx="691.0" cy="381.9" r="2.5" fill="#00BFFF" fill-opacity="0.7"/>
<circle cx="729.5" cy="395.8" r="2.5" fill="#00BFFF" fill-opacity="0.7"/>
<circle cx="561.6" cy="356.0" r="2.2" fill="#00BFFF" fill-opacity="0.7"/>
<circle cx="566.5" cy="360.6" r="2.2" fill="#00BFFF" fill-opacity="0.7"/>
<circle cx="560.0" cy="375.3" r="2.2" fill="#00BFFF" fill-opacity="0.7"/>
<circle cx="560.0" cy="384.7" r="1.9" fill="#00BFFF" fill-opacity="0.7"/>
<circle cx="569.3" cy="390.1" r="3.1" fill="#00BFFF" fill-opacity="0.7"/>
<circle cx="574.7" cy="390.5" r="2.5" fill="#00BFFF" fill-opacity="0.7"/>
<circle cx="580.9" cy="393.6" r="2.5" fill="#00BFFF" fill-opacity="0.7"/>
<circle cx="566.2" cy="391.2" r="2.2" fill="#00BFFF" fill-opacity="0.7"/>
<circle cx="1139.5" cy="212.0" r="2.2" fill="#00BFFF" fill-opacity="0.7"/>
<circle cx="1150.4" cy="214.3" r="2.5" fill="#00BFFF" fill-opacity="0.7"/>
<circle cx="1158.1" cy="209.7" r="2.2" fill="#00BFFF" fill-opacity="0.7"/>
<circle cx="1170.1" cy="209.7" r="2.2" fill="#00BFFF" fill-opacity="0.7"/>
<circle cx="1132.6" cy="220.5" r="2.0" fill="#00BFFF" fill-opacity="0.7"/>
<circle cx="1137.2" cy="222.1" r="1.9" fill="#00BFFF" fill-opacity="0.7"/>
<circle cx="1139.5" cy="220.5" r="1.9" fill="#00BFFF" fill-opacity="0.7"/>
<circle cx="1160.5" cy="219.0" r="2.2" fill="#00BFFF" fill-opacity="0.7"/>
<circle cx="1176.7" cy="219.0" r="2.2" fill="#00BFFF" fill-opacity="0.7"/>
<circle cx="1186.0" cy="208.1" r="2.2" fill="#00BFFF" fill-opacity="0.7"/>
<circle cx="1188.4" cy="222.9" r="2.2" fill="#00BFFF" fill-opacity="0.7"/>
<circle cx="1159.7" cy="238.4" r="3.4" fill="#00BFFF" fill-opacity="0.7"/>
<circle cx="1154.3" cy="248.4" r="2.8" fill="#00BFFF" fill-opacity="0.7"/>
<circle cx="1149.6" cy="246.1" r="2.2" fill="#00BFFF" fill-opacity="0.7"/>
<circle cx="1144.2" cy="247.7" r="2.2" fill="#00BFFF" fill-opacity="0.7"/>
<circle cx="1138.8" cy="246.9" r="2.2" fill="#00BFFF" fill-opacity="0.7"/>
<circle cx="1162.0" cy="246.9" r="2.5" fill="#00BFFF" fill-opacity="0.7"/>
<circle cx="1165.1" cy="247.7" r="2.5" fill="#00BFFF" fill-opacity="0.7"/>
<circle cx="1168.2" cy="245.3" r="2.5" fill="#00BFFF" fill-opacity="0.7"/>
<circle cx="1170.5" cy="246.9" r="2.5" fill="#00BFFF" fill-opacity="0.7"/>
<circle cx="1172.9" cy="249.2" r="2.2" fill="#00BFFF" fill-opacity="0.7"/>
<circle cx="1176.0" cy="247.7" r="2.5" fill="#00BFFF" fill-opacity="0.7"/>
<circle cx="1181.4" cy="240.7" r="1.9" fill="#00BFFF" fill-opacity="0.7"/>
<circle cx="1176.0" cy="241.5" r="1.9" fill="#00BFFF" fill-opacity="0.7"/>
<circle cx="1184.5" cy="243.0" r="2.2" fill="#00BFFF" fill-opacity="0.7"/>
<circle cx="1186.8" cy="243.8" r="2.2" fill="#00BFFF" fill-opacity="0.7"/>
<circle cx="1158.1" cy="253.1" r="1.9" fill="#00BFFF" fill-opacity="0.7"/>
<circle cx="1182.2" cy="268.6" r="2.2" fill="#00BFFF" fill-opacity="0.7"/>
<circle cx="1268.2" cy="271.7" r="2.2" fill="#00BFFF" fill-opacity="0.7"/>
<circle cx="1271.3" cy="270.9" r="2.5" fill="#00BFFF" fill-opacity="0.7"/>
<circle cx="1274.4" cy="273.3" r="2.8" fill="#00BFFF" fill-opacity="0.7"/>
<circle cx="1276.0" cy="272.5" r="2.2" fill="#00BFFF" fill-opacity="0.7"/>
<circle cx="1272.9" cy="276.4" r="1.9" fill="#00BFFF" fill-opacity="0.7"/>
<circle cx="1262.0" cy="284.1" r="2.8" fill="#00BFFF" fill-opacity="0.7"/>
<circle cx="1262.8" cy="286.4" r="2.2" fill="#00BFFF" fill-opacity="0.7"/>
<circle cx="1758.3" cy="277.1" r="3.3" fill="#808080" fill-opacity="0.7"/>
<circle cx="1740.2" cy="296.7" r="2.8" fill="#808080" fill-opacity="0.7"/>
<circle cx="1727.3" cy="278.3" r="2.7" fill="#808080" fill-opacity="0.7"/>
<circle cx="1727.8" cy="306.1" r="3.0" fill="#808080" fill-opacity="0.7"/>
<circle cx="1763.1" cy="276.4" r="2.7" fill="#808080" fill-opacity="0.7"/>
<circle cx="1719.1" cy="289.6" r="3.3" fill="#808080" fill-opacity="0.7"/>
<circle cx="1766.5" cy="280.0" r="3.0" fill="#808080" fill-opacity="0.7"/>
<circle cx="1740.8" cy="290.8" r="3.2" fill="#808080" fill-opacity="0.7"/>
<circle cx="1765.1" cy="326.0" r="2.0" fill="#00BFFF" fill-opacity="0.7"/>
<circle cx="1764.4" cy="307.0" r="2.3" fill="#00BFFF" fill-opacity="0.7"/>
<circle cx="1732.9" cy="318.6" r="2.1" fill="#00BFFF" fill-opacity="0.7"/>
<circle cx="1735.5" cy="337.6" r="2.3" fill="#00BFFF" fill-opacity="0.7"/>
<circle cx="1743.3" cy="346.2" r="2.6" fill="#00BFFF" fill-opacity="0.7"/>
<circle cx="1749.9" cy="334.4" r="2.1" fill="#00BFFF" fill-opacity="0.7"/>
<circle cx="1751.1" cy="325.6" r="2.5" fill="#00BFFF" fill-opacity="0.7"/>
<circle cx="1725.2" cy="327.7" r="2.3" fill="#00BFFF" fill-opacity="0.7"/>
<circle cx="1764.6" cy="306.5" r="2.6" fill="#00BFFF" fill-opacity="0.7"/>
<circle cx="1751.8" cy="332.2" r="2.2" fill="#00BFFF" fill-opacity="0.7"/>
<circle cx="1734.5" cy="328.2" r="2.4" fill="#00BFFF" fill-opacity="0.7"/>
<circle cx="1743.1" cy="327.7" r="2.3" fill="#00BFFF" fill-opacity="0.7"/>
<circle cx="1757.9" cy="310.6" r="2.3" fill="#00BFFF" fill-opacity="0.7"/>
<circle cx="1755.6" cy="313.6" r="2.2" fill="#00BFFF" fill-opacity="0.7"/>
<circle cx="1872.8" cy="298.1" r="2.3" fill="#00BFFF" fill-opacity="0.7"/>
<circle cx="1851.7" cy="308.7" r="2.6" fill="#00BFFF" fill-opacity="0.7"/>
<circle cx="1878.3" cy="301.8" r="2.1" fill="#00BFFF" fill-opacity="0.7"/>
<circle cx="1876.3" cy="305.9" r="2.4" fill="#00BFFF" fill-opacity="0.7"/>
<circle cx="1853.2" cy="305.4" r="2.6" fill="#00BFFF" fill-opacity="0.7"/>
<circle cx="1844.8" cy="304.0" r="2.2" fill="#00BFFF" fill-opacity="0.7"/>
</g>
<rect x="125" y="2.75" width="1977.6" height="987" fill="none" stroke="#000" stroke-width="4.5"/>
<text x="151" y="66" font-size="60" fill="#231815">a</text>
<g font-size="28.4" fill="#231815">
<text x="162.5" y="572.7">Plant type</text>
<circle cx="168" cy="614.8" r="8" fill="#808080" fill-opacity="0.7"/>
<text x="202.7" y="623.6">Pretreatment&amp;</text><text x="202.7" y="660.9">Ironmaking</text>
<circle cx="168" cy="713.5" r="8" fill="#00B0F0" fill-opacity="0.7"/>
<text x="202.7" y="719.5">Secondary</text><text x="202.7" y="756.8">steelmaking</text>
<circle cx="168" cy="805" r="8" fill="#FF0000" fill-opacity="0.7"/>
<text x="202.7" y="814.3">Primary</text><text x="202.7" y="851.5999999999999">steelmaking</text>
<circle cx="168" cy="901.7" r="8" fill="#FFA500" fill-opacity="0.7"/>
<text x="202.7" y="910">Primary&amp;Secondary</text><text x="202.7" y="947.3">steelmaking</text>
<text x="492.9" y="604.5" textLength="174.6" lengthAdjust="spacingAndGlyphs">Emissions (kt)</text>
<circle cx="501.7" cy="645.8" r="2.6" fill="none" stroke="#000" stroke-width="4.6"/>
<text x="533" y="650.5">&lt; 100</text>
<circle cx="501.7" cy="711.7" r="4.8" fill="none" stroke="#000" stroke-width="4.4"/>
<text x="533" y="719.5">100-499</text>
<circle cx="501.7" cy="782.3" r="6.0" fill="none" stroke="#000" stroke-width="4.1"/>
<text x="533" y="789">500-999</text>
<circle cx="501.7" cy="858.2" r="7.5" fill="none" stroke="#000" stroke-width="4.2"/>
<text x="533" y="865.5">1000-4999</text>
<circle cx="501.7" cy="941.4" r="9.2" fill="none" stroke="#000" stroke-width="3.9"/>
<text x="533" y="946.9">≥ 5000</text>
</g>
<g font-size="51" fill="#231815" text-anchor="end">
<text x="2063.3" y="892.5" textLength="204" lengthAdjust="spacingAndGlyphs">n = 2,460</text>
<text x="2062.8" y="955.7" textLength="558.5" lengthAdjust="spacingAndGlyphs">CO<tspan font-size="33" dy="16">2</tspan><tspan dy="-16"> emissions = 2,751 Mt</tspan></text>
</g>
<g id="panel-b">
<polygon points="133.4,1944.0 133.4,1934.7 133.4,1908.8 133.5,1886.3 133.5,1866.5 133.6,1848.8 133.6,1832.7 133.7,1818.1 133.8,1804.6 133.9,1792.2 133.9,1780.5 134.0,1769.7 134.1,1759.5 134.3,1749.9 134.4,1740.8 134.5,1732.1 134.6,1723.9 134.8,1716.1 134.9,1708.6 135.1,1701.5 135.3,1694.6 135.5,1688.0 135.6,1681.6 135.8,1675.5 136.0,1669.6 136.2,1663.9 136.5,1658.4 136.7,1653.0 136.9,1647.9 137.2,1642.8 137.4,1638.0 137.7,1633.2 138.0,1628.6 138.3,1624.1 138.6,1619.8 138.9,1615.5 139.2,1611.3 139.5,1607.3 139.8,1603.3 140.1,1599.5 140.5,1595.7 140.9,1592.0 141.2,1588.4 141.6,1584.8 142.0,1581.4 142.4,1578.0 142.8,1574.6 143.2,1571.4 143.6,1568.1 144.0,1565.0 144.5,1561.9 144.9,1558.9 145.4,1555.9 145.9,1553.0 146.4,1550.1 146.8,1547.3 147.3,1544.5 147.9,1541.8 148.4,1539.1 148.9,1536.4 149.5,1533.8 150.0,1531.2 150.6,1528.7 151.1,1526.2 151.7,1523.8 152.3,1521.3 152.9,1518.9 153.5,1516.6 154.2,1514.3 154.8,1512.0 155.4,1509.7 156.1,1507.5 156.8,1505.3 157.4,1503.1 158.1,1501.0 158.8,1498.9 159.5,1496.8 160.2,1494.7 161.0,1492.7 161.7,1490.7 162.4,1488.7 163.2,1486.7 164.0,1484.7 164.8,1482.8 165.6,1480.9 166.4,1479.0 167.2,1477.2 168.0,1475.3 168.8,1473.5 169.7,1471.7 170.5,1469.9 171.4,1468.2 172.3,1466.4 173.2,1464.7 174.1,1463.0 175.0,1461.3 175.9,1459.6 176.8,1458.0 177.8,1456.3 178.7,1454.7 179.7,1453.1 180.7,1451.5 181.7,1449.9 182.7,1448.4 183.7,1446.8 184.7,1445.3 185.7,1443.8 186.8,1442.2 187.8,1440.7 188.9,1439.3 190.0,1437.8 191.1,1436.3 192.2,1434.9 193.3,1433.5 194.4,1432.0 195.5,1430.6 196.7,1429.2 197.8,1427.9 199.0,1426.5 200.2,1425.1 201.4,1423.8 202.6,1422.4 203.8,1421.1 205.0,1419.8 206.3,1418.5 207.5,1417.2 208.8,1415.9 210.1,1414.6 211.4,1413.3 212.6,1412.1 214.0,1410.8 215.3,1409.6 216.6,1408.3 218.0,1407.1 219.3,1405.9 220.7,1404.7 222.1,1403.5 223.4,1402.3 224.8,1401.1 226.3,1400.0 227.7,1398.8 229.1,1397.6 230.6,1396.5 232.0,1395.3 233.5,1394.2 235.0,1393.1 236.5,1392.0 238.0,1390.9 239.5,1389.8 241.1,1388.7 242.6,1387.6 244.2,1386.5 245.7,1385.4 247.3,1384.3 248.9,1383.3 250.5,1382.2 252.1,1381.2 253.8,1380.1 255.4,1379.1 257.1,1378.1 258.7,1377.0 260.4,1376.0 262.1,1375.0 263.8,1374.0 265.5,1373.0 267.2,1372.0 269.0,1371.0 270.7,1370.1 272.5,1369.1 274.3,1368.1 276.1,1367.1 277.9,1366.2 279.7,1365.2 281.5,1364.3 283.3,1363.3 285.2,1362.4 287.0,1361.5 288.9,1360.5 290.8,1359.6 292.7,1358.7 294.6,1357.8 296.5,1356.9 298.5,1356.0 300.4,1355.1 302.4,1354.2 304.4,1353.3 306.4,1352.4 308.4,1351.5 310.4,1350.7 312.4,1349.8 314.4,1348.9 316.5,1348.1 318.5,1347.2 320.6,1346.4 322.7,1345.5 324.8,1344.7 326.9,1343.8 329.0,1343.0 331.2,1342.2 333.3,1341.3 335.5,1340.5 337.7,1339.7 339.9,1338.9 342.1,1338.1 344.3,1337.3 346.5,1336.5 348.7,1335.7 351.0,1334.9 353.3,1334.1 355.5,1333.3 357.8,1332.5 360.1,1331.7 362.4,1330.9 364.8,1330.2 367.1,1329.4 369.5,1328.6 371.8,1327.9 374.2,1327.1 376.6,1326.4 379.0,1325.6 381.4,1324.9 383.9,1324.1 386.3,1323.4 388.8,1322.6 391.3,1321.9 393.7,1321.2 396.2,1320.4 398.7,1319.7 401.3,1319.0 403.8,1318.3 406.4,1317.5 408.9,1316.8 411.5,1316.1 414.1,1315.4 416.7,1314.7 419.3,1314.0 421.9,1313.3 424.6,1312.6 427.2,1311.9 429.9,1311.2 432.6,1310.5 435.3,1309.8 438.0,1309.2 440.7,1308.5 443.4,1307.8 446.2,1307.1 448.9,1306.5 451.7,1305.8 454.5,1305.1 457.3,1304.5 460.1,1303.8 462.9,1303.1 465.8,1302.5 468.6,1301.8 471.5,1301.2 474.4,1300.5 477.3,1299.9 480.2,1299.2 483.1,1298.6 486.0,1298.0 489.0,1297.3 491.9,1296.7 494.9,1296.1 497.9,1295.4 500.9,1294.8 503.9,1294.2 506.9,1293.6 510.0,1292.9 513.0,1292.3 516.1,1291.7 519.2,1291.1 522.3,1290.5 525.4,1289.9 528.5,1289.3 531.6,1288.7 534.8,1288.1 537.9,1287.5 541.1,1286.9 544.3,1286.3 547.5,1285.7 550.7,1285.1 553.9,1284.5 557.2,1283.9 560.4,1283.3 563.7,1282.7 567.0,1282.1 570.3,1281.6 573.6,1281.0 576.9,1280.4 580.3,1279.8 583.6,1279.3 587.0,1278.7 590.4,1278.1 593.7,1277.6 597.2,1277.0 600.6,1276.4 604.0,1275.9 607.5,1275.3 610.9,1274.8 614.4,1274.2 617.9,1273.7 621.4,1273.1 624.9,1272.6 628.4,1272.0 632.0,1271.5 635.5,1270.9 639.1,1270.4 642.7,1269.8 646.3,1269.3 649.9,1268.8 653.5,1268.2 657.2,1267.7 660.8,1267.2 664.5,1266.6 668.2,1266.1 671.9,1265.6 675.6,1265.1 679.3,1264.5 683.0,1264.0 686.8,1263.5 690.5,1263.0 694.3,1262.5 698.1,1261.9 701.9,1261.4 705.7,1260.9 709.6,1260.4 713.4,1259.9 717.3,1259.4 721.2,1258.9 725.1,1258.4 729.0,1257.9 732.9,1257.4 736.8,1256.9 740.8,1256.4 744.7,1255.9 748.7,1255.4 752.7,1254.9 756.7,1254.4 760.7,1253.9 764.7,1253.4 768.8,1252.9 772.8,1252.4 776.9,1252.0 781.0,1251.5 785.1,1251.0 789.2,1250.5 793.4,1250.0 797.5,1249.5 801.7,1249.1 805.8,1248.6 810.0,1248.1 814.2,1247.6 818.4,1247.2 822.7,1246.7 826.9,1246.2 831.2,1245.8 835.4,1245.3 839.7,1244.8 844.0,1244.4 848.3,1243.9 852.7,1243.4 857.0,1243.0 861.4,1242.5 865.7,1242.1 870.1,1241.6 874.5,1241.2 878.9,1240.7 883.4,1240.2 887.8,1239.8 892.3,1239.3 896.7,1238.9 901.2,1238.4 905.7,1238.0 910.2,1237.6 914.8,1237.1 919.3,1236.7 923.9,1236.2 928.4,1235.8 933.0,1235.3 937.6,1234.9 942.2,1234.5 946.9,1234.0 951.5,1233.6 956.2,1233.2 960.8,1232.7 965.5,1232.3 970.2,1231.9 974.9,1231.4 979.7,1231.0 984.4,1230.6 989.2,1230.2 994.0,1229.7 998.7,1229.3 1003.6,1228.9 1008.4,1228.5 1013.2,1228.0 1013.3,1944.0" fill="#F3F3F3"/>
<polygon points="133.5,1944.0 133.5,1932.6 133.6,1914.8 133.6,1898.8 133.7,1884.1 133.8,1870.7 133.9,1858.2 133.9,1846.6 134.0,1835.7 134.1,1825.5 134.3,1815.9 134.4,1806.8 134.5,1798.2 134.6,1790.0 134.8,1782.1 134.9,1774.7 135.1,1767.5 135.3,1760.6 135.5,1754.0 135.6,1747.7 135.8,1741.6 136.0,1735.7 136.2,1730.0 136.5,1724.4 136.7,1719.1 136.9,1713.9 137.2,1708.9 137.4,1704.0 137.7,1699.3 138.0,1694.7 138.3,1690.2 138.6,1685.8 138.9,1681.5 139.2,1677.4 139.5,1673.3 139.8,1669.4 140.1,1665.5 140.5,1661.7 140.9,1658.0 141.2,1654.4 141.6,1650.9 142.0,1647.4 142.4,1644.0 142.8,1640.7 143.2,1637.4 143.6,1634.2 144.0,1631.0 144.5,1628.0 144.9,1624.9 145.4,1621.9 145.9,1619.0 146.4,1616.1 146.8,1613.3 147.3,1610.5 147.9,1607.8 148.4,1605.1 148.9,1602.5 149.5,1599.8 150.0,1597.3 150.6,1594.7 151.1,1592.3 151.7,1589.8 152.3,1587.4 152.9,1585.0 153.5,1582.6 154.2,1580.3 154.8,1578.0 155.4,1575.8 156.1,1573.5 156.8,1571.3 157.4,1569.2 158.1,1567.0 158.8,1564.9 159.5,1562.8 160.2,1560.8 161.0,1558.7 161.7,1556.7 162.4,1554.7 163.2,1552.7 164.0,1550.8 164.8,1548.9 165.6,1547.0 166.4,1545.1 167.2,1543.2 168.0,1541.4 168.8,1539.6 169.7,1537.8 170.5,1536.0 171.4,1534.2 172.3,1532.5 173.2,1530.8 174.1,1529.1 175.0,1527.4 175.9,1525.7 176.8,1524.0 177.8,1522.4 178.7,1520.8 179.7,1519.1 180.7,1517.6 181.7,1516.0 182.7,1514.4 183.7,1512.9 184.7,1511.3 185.7,1509.8 186.8,1508.3 187.8,1506.8 188.9,1505.3 190.0,1503.8 191.1,1502.4 192.2,1500.9 193.3,1499.5 194.4,1498.1 195.5,1496.7 196.7,1495.3 197.8,1493.9 199.0,1492.5 200.2,1491.2 201.4,1489.8 202.6,1488.5 203.8,1487.1 205.0,1485.8 206.3,1484.5 207.5,1483.2 208.8,1481.9 210.1,1480.6 211.4,1479.4 212.6,1478.1 214.0,1476.9 215.3,1475.6 216.6,1474.4 218.0,1473.2 219.3,1471.9 220.7,1470.7 222.1,1469.5 223.4,1468.4 224.8,1467.2 226.3,1466.0 227.7,1464.8 229.1,1463.7 230.6,1462.5 232.0,1461.4 233.5,1460.3 235.0,1459.1 236.5,1458.0 238.0,1456.9 239.5,1455.8 241.1,1454.7 242.6,1453.6 244.2,1452.5 245.7,1451.5 247.3,1450.4 248.9,1449.3 250.5,1448.3 252.1,1447.2 253.8,1446.2 255.4,1445.1 257.1,1444.1 258.7,1443.1 260.4,1442.1 262.1,1441.1 263.8,1440.1 265.5,1439.1 267.2,1438.1 269.0,1437.1 270.7,1436.1 272.5,1435.1 274.3,1434.2 276.1,1433.2 277.9,1432.2 279.7,1431.3 281.5,1430.3 283.3,1429.4 285.2,1428.5 287.0,1427.5 288.9,1426.6 290.8,1425.7 292.7,1424.8 294.6,1423.8 296.5,1422.9 298.5,1422.0 300.4,1421.1 302.4,1420.2 304.4,1419.4 306.4,1418.5 308.4,1417.6 310.4,1416.7 312.4,1415.8 314.4,1415.0 316.5,1414.1 318.5,1413.3 320.6,1412.4 322.7,1411.6 324.8,1410.7 326.9,1409.9 329.0,1409.0 331.2,1408.2 333.3,1407.4 335.5,1406.6 337.7,1405.7 339.9,1404.9 342.1,1404.1 344.3,1403.3 346.5,1402.5 348.7,1401.7 351.0,1400.9 353.3,1400.1 355.5,1399.3 357.8,1398.6 360.1,1397.8 362.4,1397.0 364.8,1396.2 367.1,1395.4 369.5,1394.7 371.8,1393.9 374.2,1393.2 376.6,1392.4 379.0,1391.7 381.4,1390.9 383.9,1390.2 386.3,1389.4 388.8,1388.7 391.3,1387.9 393.7,1387.2 396.2,1386.5 398.7,1385.7 401.3,1385.0 403.8,1384.3 406.4,1383.6 408.9,1382.9 411.5,1382.2 414.1,1381.4 416.7,1380.7 419.3,1380.0 421.9,1379.3 424.6,1378.6 427.2,1378.0 429.9,1377.3 432.6,1376.6 435.3,1375.9 438.0,1375.2 440.7,1374.5 443.4,1373.8 446.2,1373.2 448.9,1372.5 451.7,1371.8 454.5,1371.2 457.3,1370.5 460.1,1369.8 462.9,1369.2 465.8,1368.5 468.6,1367.9 471.5,1367.2 474.4,1366.6 477.3,1365.9 480.2,1365.3 483.1,1364.6 486.0,1364.0 489.0,1363.4 491.9,1362.7 494.9,1362.1 497.9,1361.5 500.9,1360.8 503.9,1360.2 506.9,1359.6 510.0,1359.0 513.0,1358.4 516.1,1357.7 519.2,1357.1 522.3,1356.5 525.4,1355.9 528.5,1355.3 531.6,1354.7 534.8,1354.1 537.9,1353.5 541.1,1352.9 544.3,1352.3 547.5,1351.7 550.7,1351.1 553.9,1350.5 557.2,1349.9 560.4,1349.4 563.7,1348.8 567.0,1348.2 570.3,1347.6 573.6,1347.0 576.9,1346.5 580.3,1345.9 583.6,1345.3 587.0,1344.8 590.4,1344.2 593.7,1343.6 597.2,1343.1 600.6,1342.5 604.0,1341.9 607.5,1341.4 610.9,1340.8 614.4,1340.3 617.9,1339.7 621.4,1339.2 624.9,1338.6 628.4,1338.1 632.0,1337.5 635.5,1337.0 639.1,1336.4 642.7,1335.9 646.3,1335.4 649.9,1334.8 653.5,1334.3 657.2,1333.7 660.8,1333.2 664.5,1332.7 668.2,1332.2 671.9,1331.6 675.6,1331.1 679.3,1330.6 683.0,1330.1 686.8,1329.5 690.5,1329.0 694.3,1328.5 698.1,1328.0 701.9,1327.5 705.7,1327.0 709.6,1326.5 713.4,1325.9 717.3,1325.4 721.2,1324.9 725.1,1324.4 729.0,1323.9 732.9,1323.4 736.8,1322.9 740.8,1322.4 744.7,1321.9 748.7,1321.4 752.7,1320.9 756.7,1320.4 760.7,1320.0 764.7,1319.5 768.8,1319.0 772.8,1318.5 776.9,1318.0 781.0,1317.5 785.1,1317.0 789.2,1316.6 793.4,1316.1 797.5,1315.6 801.7,1315.1 805.8,1314.6 810.0,1314.2 814.2,1313.7 818.4,1313.2 822.7,1312.7 826.9,1312.3 831.2,1311.8 835.4,1311.3 839.7,1310.9 844.0,1310.4 848.3,1310.0 852.7,1309.5 857.0,1309.0 861.4,1308.6 865.7,1308.1 870.1,1307.7 874.5,1307.2 878.9,1306.7 883.4,1306.3 887.8,1305.8 892.3,1305.4 896.7,1304.9 901.2,1304.5 905.7,1304.0 910.2,1303.6 914.8,1303.2 919.3,1302.7 923.9,1302.3 928.4,1301.8 933.0,1301.4 937.6,1301.0 942.2,1300.5 946.9,1300.1 951.5,1299.6 956.2,1299.2 960.8,1298.8 965.5,1298.3 970.2,1297.9 974.9,1297.5 979.7,1297.1 984.4,1296.6 989.2,1296.2 994.0,1295.8 998.7,1295.3 1003.6,1294.9 1008.4,1294.5 1013.2,1294.1 1013.3,1944.0" fill="#E6E6E6"/>
<polygon points="134.0,1944.0 134.0,1937.5 134.1,1927.3 134.3,1917.7 134.4,1908.6 134.5,1900.0 134.6,1891.8 134.8,1883.9 134.9,1876.5 135.1,1869.3 135.3,1862.4 135.5,1855.8 135.6,1849.5 135.8,1843.3 136.0,1837.4 136.2,1831.7 136.5,1826.2 136.7,1820.9 136.9,1815.7 137.2,1810.7 137.4,1805.8 137.7,1801.1 138.0,1796.4 138.3,1792.0 138.6,1787.6 138.9,1783.3 139.2,1779.2 139.5,1775.1 139.8,1771.2 140.1,1767.3 140.5,1763.5 140.9,1759.8 141.2,1756.2 141.6,1752.7 142.0,1749.2 142.4,1745.8 142.8,1742.4 143.2,1739.2 143.6,1736.0 144.0,1732.8 144.5,1729.7 144.9,1726.7 145.4,1723.7 145.9,1720.8 146.4,1717.9 146.8,1715.1 147.3,1712.3 147.9,1709.6 148.4,1706.9 148.9,1704.2 149.5,1701.6 150.0,1699.1 150.6,1696.5 151.1,1694.0 151.7,1691.6 152.3,1689.2 152.9,1686.8 153.5,1684.4 154.2,1682.1 154.8,1679.8 155.4,1677.6 156.1,1675.3 156.8,1673.1 157.4,1671.0 158.1,1668.8 158.8,1666.7 159.5,1664.6 160.2,1662.5 161.0,1660.5 161.7,1658.5 162.4,1656.5 163.2,1654.5 164.0,1652.6 164.8,1650.7 165.6,1648.8 166.4,1646.9 167.2,1645.0 168.0,1643.2 168.8,1641.4 169.7,1639.6 170.5,1637.8 171.4,1636.0 172.3,1634.3 173.2,1632.5 174.1,1630.8 175.0,1629.1 175.9,1627.5 176.8,1625.8 177.8,1624.2 178.7,1622.5 179.7,1620.9 180.7,1619.3 181.7,1617.8 182.7,1616.2 183.7,1614.6 184.7,1613.1 185.7,1611.6 186.8,1610.1 187.8,1608.6 188.9,1607.1 190.0,1605.6 191.1,1604.2 192.2,1602.7 193.3,1601.3 194.4,1599.9 195.5,1598.5 196.7,1597.1 197.8,1595.7 199.0,1594.3 200.2,1592.9 201.4,1591.6 202.6,1590.3 203.8,1588.9 205.0,1587.6 206.3,1586.3 207.5,1585.0 208.8,1583.7 210.1,1582.4 211.4,1581.2 212.6,1579.9 214.0,1578.6 215.3,1577.4 216.6,1576.2 218.0,1574.9 219.3,1573.7 220.7,1572.5 222.1,1571.3 223.4,1570.1 224.8,1569.0 226.3,1567.8 227.7,1566.6 229.1,1565.5 230.6,1564.3 232.0,1563.2 233.5,1562.0 235.0,1560.9 236.5,1559.8 238.0,1558.7 239.5,1557.6 241.1,1556.5 242.6,1555.4 244.2,1554.3 245.7,1553.2 247.3,1552.2 248.9,1551.1 250.5,1550.1 252.1,1549.0 253.8,1548.0 255.4,1546.9 257.1,1545.9 258.7,1544.9 260.4,1543.9 262.1,1542.8 263.8,1541.8 265.5,1540.8 267.2,1539.9 269.0,1538.9 270.7,1537.9 272.5,1536.9 274.3,1535.9 276.1,1535.0 277.9,1534.0 279.7,1533.1 281.5,1532.1 283.3,1531.2 285.2,1530.2 287.0,1529.3 288.9,1528.4 290.8,1527.5 292.7,1526.5 294.6,1525.6 296.5,1524.7 298.5,1523.8 300.4,1522.9 302.4,1522.0 304.4,1521.1 306.4,1520.3 308.4,1519.4 310.4,1518.5 312.4,1517.6 314.4,1516.8 316.5,1515.9 318.5,1515.0 320.6,1514.2 322.7,1513.3 324.8,1512.5 326.9,1511.7 329.0,1510.8 331.2,1510.0 333.3,1509.2 335.5,1508.4 337.7,1507.5 339.9,1506.7 342.1,1505.9 344.3,1505.1 346.5,1504.3 348.7,1503.5 351.0,1502.7 353.3,1501.9 355.5,1501.1 357.8,1500.3 360.1,1499.6 362.4,1498.8 364.8,1498.0 367.1,1497.2 369.5,1496.5 371.8,1495.7 374.2,1494.9 376.6,1494.2 379.0,1493.4 381.4,1492.7 383.9,1491.9 386.3,1491.2 388.8,1490.5 391.3,1489.7 393.7,1489.0 396.2,1488.3 398.7,1487.5 401.3,1486.8 403.8,1486.1 406.4,1485.4 408.9,1484.7 411.5,1483.9 414.1,1483.2 416.7,1482.5 419.3,1481.8 421.9,1481.1 424.6,1480.4 427.2,1479.7 429.9,1479.0 432.6,1478.4 435.3,1477.7 438.0,1477.0 440.7,1476.3 443.4,1475.6 446.2,1475.0 448.9,1474.3 451.7,1473.6 454.5,1472.9 457.3,1472.3 460.1,1471.6 462.9,1471.0 465.8,1470.3 468.6,1469.7 471.5,1469.0 474.4,1468.4 477.3,1467.7 480.2,1467.1 483.1,1466.4 486.0,1465.8 489.0,1465.2 491.9,1464.5 494.9,1463.9 497.9,1463.3 500.9,1462.6 503.9,1462.0 506.9,1461.4 510.0,1460.8 513.0,1460.1 516.1,1459.5 519.2,1458.9 522.3,1458.3 525.4,1457.7 528.5,1457.1 531.6,1456.5 534.8,1455.9 537.9,1455.3 541.1,1454.7 544.3,1454.1 547.5,1453.5 550.7,1452.9 553.9,1452.3 557.2,1451.7 560.4,1451.1 563.7,1450.6 567.0,1450.0 570.3,1449.4 573.6,1448.8 576.9,1448.2 580.3,1447.7 583.6,1447.1 587.0,1446.5 590.4,1446.0 593.7,1445.4 597.2,1444.8 600.6,1444.3 604.0,1443.7 607.5,1443.2 610.9,1442.6 614.4,1442.0 617.9,1441.5 621.4,1440.9 624.9,1440.4 628.4,1439.8 632.0,1439.3 635.5,1438.8 639.1,1438.2 642.7,1437.7 646.3,1437.1 649.9,1436.6 653.5,1436.1 657.2,1435.5 660.8,1435.0 664.5,1434.5 668.2,1433.9 671.9,1433.4 675.6,1432.9 679.3,1432.4 683.0,1431.8 686.8,1431.3 690.5,1430.8 694.3,1430.3 698.1,1429.8 701.9,1429.3 705.7,1428.7 709.6,1428.2 713.4,1427.7 717.3,1427.2 721.2,1426.7 725.1,1426.2 729.0,1425.7 732.9,1425.2 736.8,1424.7 740.8,1424.2 744.7,1423.7 748.7,1423.2 752.7,1422.7 756.7,1422.2 760.7,1421.7 764.7,1421.2 768.8,1420.8 772.8,1420.3 776.9,1419.8 781.0,1419.3 785.1,1418.8 789.2,1418.3 793.4,1417.9 797.5,1417.4 801.7,1416.9 805.8,1416.4 810.0,1415.9 814.2,1415.5 818.4,1415.0 822.7,1414.5 826.9,1414.1 831.2,1413.6 835.4,1413.1 839.7,1412.7 844.0,1412.2 848.3,1411.7 852.7,1411.3 857.0,1410.8 861.4,1410.4 865.7,1409.9 870.1,1409.4 874.5,1409.0 878.9,1408.5 883.4,1408.1 887.8,1407.6 892.3,1407.2 896.7,1406.7 901.2,1406.3 905.7,1405.8 910.2,1405.4 914.8,1404.9 919.3,1404.5 923.9,1404.1 928.4,1403.6 933.0,1403.2 937.6,1402.7 942.2,1402.3 946.9,1401.9 951.5,1401.4 956.2,1401.0 960.8,1400.6 965.5,1400.1 970.2,1399.7 974.9,1399.3 979.7,1398.8 984.4,1398.4 989.2,1398.0 994.0,1397.6 998.7,1397.1 1003.6,1396.7 1008.4,1396.3 1013.2,1395.9 1013.3,1944.0" fill="#D6D6D6"/>
<polyline points="134.0,1944.0 134.0,1937.5 134.1,1927.3 134.3,1917.7 134.4,1908.6 134.5,1900.0 134.6,1891.8 134.8,1883.9 134.9,1876.5 135.1,1869.3 135.3,1862.4 135.5,1855.8 135.6,1849.5 135.8,1843.3 136.0,1837.4 136.2,1831.7 136.5,1826.2 136.7,1820.9 136.9,1815.7 137.2,1810.7 137.4,1805.8 137.7,1801.1 138.0,1796.4 138.3,1792.0 138.6,1787.6 138.9,1783.3 139.2,1779.2 139.5,1775.1 139.8,1771.2 140.1,1767.3 140.5,1763.5 140.9,1759.8 141.2,1756.2 141.6,1752.7 142.0,1749.2 142.4,1745.8 142.8,1742.4 143.2,1739.2 143.6,1736.0 144.0,1732.8 144.5,1729.7 144.9,1726.7 145.4,1723.7 145.9,1720.8 146.4,1717.9 146.8,1715.1 147.3,1712.3 147.9,1709.6 148.4,1706.9 148.9,1704.2 149.5,1701.6 150.0,1699.1 150.6,1696.5 151.1,1694.0 151.7,1691.6 152.3,1689.2 152.9,1686.8 153.5,1684.4 154.2,1682.1 154.8,1679.8 155.4,1677.6 156.1,1675.3 156.8,1673.1 157.4,1671.0 158.1,1668.8 158.8,1666.7 159.5,1664.6 160.2,1662.5 161.0,1660.5 161.7,1658.5 162.4,1656.5 163.2,1654.5 164.0,1652.6 164.8,1650.7 165.6,1648.8 166.4,1646.9 167.2,1645.0 168.0,1643.2 168.8,1641.4 169.7,1639.6 170.5,1637.8 171.4,1636.0 172.3,1634.3 173.2,1632.5 174.1,1630.8 175.0,1629.1 175.9,1627.5 176.8,1625.8 177.8,1624.2 178.7,1622.5 179.7,1620.9 180.7,1619.3 181.7,1617.8 182.7,1616.2 183.7,1614.6 184.7,1613.1 185.7,1611.6 186.8,1610.1 187.8,1608.6 188.9,1607.1 190.0,1605.6 191.1,1604.2 192.2,1602.7 193.3,1601.3 194.4,1599.9 195.5,1598.5 196.7,1597.1 197.8,1595.7 199.0,1594.3 200.2,1592.9 201.4,1591.6 202.6,1590.3 203.8,1588.9 205.0,1587.6 206.3,1586.3 207.5,1585.0 208.8,1583.7 210.1,1582.4 211.4,1581.2 212.6,1579.9 214.0,1578.6 215.3,1577.4 216.6,1576.2 218.0,1574.9 219.3,1573.7 220.7,1572.5 222.1,1571.3 223.4,1570.1 224.8,1569.0 226.3,1567.8 227.7,1566.6 229.1,1565.5 230.6,1564.3 232.0,1563.2 233.5,1562.0 235.0,1560.9 236.5,1559.8 238.0,1558.7 239.5,1557.6 241.1,1556.5 242.6,1555.4 244.2,1554.3 245.7,1553.2 247.3,1552.2 248.9,1551.1 250.5,1550.1 252.1,1549.0 253.8,1548.0 255.4,1546.9 257.1,1545.9 258.7,1544.9 260.4,1543.9 262.1,1542.8 263.8,1541.8 265.5,1540.8 267.2,1539.9 269.0,1538.9 270.7,1537.9 272.5,1536.9 274.3,1535.9 276.1,1535.0 277.9,1534.0 279.7,1533.1 281.5,1532.1 283.3,1531.2 285.2,1530.2 287.0,1529.3 288.9,1528.4 290.8,1527.5 292.7,1526.5 294.6,1525.6 296.5,1524.7 298.5,1523.8 300.4,1522.9 302.4,1522.0 304.4,1521.1 306.4,1520.3 308.4,1519.4 310.4,1518.5 312.4,1517.6 314.4,1516.8 316.5,1515.9 318.5,1515.0 320.6,1514.2 322.7,1513.3 324.8,1512.5 326.9,1511.7 329.0,1510.8 331.2,1510.0 333.3,1509.2 335.5,1508.4 337.7,1507.5 339.9,1506.7 342.1,1505.9 344.3,1505.1 346.5,1504.3 348.7,1503.5 351.0,1502.7 353.3,1501.9 355.5,1501.1 357.8,1500.3 360.1,1499.6 362.4,1498.8 364.8,1498.0 367.1,1497.2 369.5,1496.5 371.8,1495.7 374.2,1494.9 376.6,1494.2 379.0,1493.4 381.4,1492.7 383.9,1491.9 386.3,1491.2 388.8,1490.5 391.3,1489.7 393.7,1489.0 396.2,1488.3 398.7,1487.5 401.3,1486.8 403.8,1486.1 406.4,1485.4 408.9,1484.7 411.5,1483.9 414.1,1483.2 416.7,1482.5 419.3,1481.8 421.9,1481.1 424.6,1480.4 427.2,1479.7 429.9,1479.0 432.6,1478.4 435.3,1477.7 438.0,1477.0 440.7,1476.3 443.4,1475.6 446.2,1475.0 448.9,1474.3 451.7,1473.6 454.5,1472.9 457.3,1472.3 460.1,1471.6 462.9,1471.0 465.8,1470.3 468.6,1469.7 471.5,1469.0 474.4,1468.4 477.3,1467.7 480.2,1467.1 483.1,1466.4 486.0,1465.8 489.0,1465.2 491.9,1464.5 494.9,1463.9 497.9,1463.3 500.9,1462.6 503.9,1462.0 506.9,1461.4 510.0,1460.8 513.0,1460.1 516.1,1459.5 519.2,1458.9 522.3,1458.3 525.4,1457.7 528.5,1457.1 531.6,1456.5 534.8,1455.9 537.9,1455.3 541.1,1454.7 544.3,1454.1 547.5,1453.5 550.7,1452.9 553.9,1452.3 557.2,1451.7 560.4,1451.1 563.7,1450.6 567.0,1450.0 570.3,1449.4 573.6,1448.8 576.9,1448.2 580.3,1447.7 583.6,1447.1 587.0,1446.5 590.4,1446.0 593.7,1445.4 597.2,1444.8 600.6,1444.3 604.0,1443.7 607.5,1443.2 610.9,1442.6 614.4,1442.0 617.9,1441.5 621.4,1440.9 624.9,1440.4 628.4,1439.8 632.0,1439.3 635.5,1438.8 639.1,1438.2 642.7,1437.7 646.3,1437.1 649.9,1436.6 653.5,1436.1 657.2,1435.5 660.8,1435.0 664.5,1434.5 668.2,1433.9 671.9,1433.4 675.6,1432.9 679.3,1432.4 683.0,1431.8 686.8,1431.3 690.5,1430.8 694.3,1430.3 698.1,1429.8 701.9,1429.3 705.7,1428.7 709.6,1428.2 713.4,1427.7 717.3,1427.2 721.2,1426.7 725.1,1426.2 729.0,1425.7 732.9,1425.2 736.8,1424.7 740.8,1424.2 744.7,1423.7 748.7,1423.2 752.7,1422.7 756.7,1422.2 760.7,1421.7 764.7,1421.2 768.8,1420.8 772.8,1420.3 776.9,1419.8 781.0,1419.3 785.1,1418.8 789.2,1418.3 793.4,1417.9 797.5,1417.4 801.7,1416.9 805.8,1416.4 810.0,1415.9 814.2,1415.5 818.4,1415.0 822.7,1414.5 826.9,1414.1 831.2,1413.6 835.4,1413.1 839.7,1412.7 844.0,1412.2 848.3,1411.7 852.7,1411.3 857.0,1410.8 861.4,1410.4 865.7,1409.9 870.1,1409.4 874.5,1409.0 878.9,1408.5 883.4,1408.1 887.8,1407.6 892.3,1407.2 896.7,1406.7 901.2,1406.3 905.7,1405.8 910.2,1405.4 914.8,1404.9 919.3,1404.5 923.9,1404.1 928.4,1403.6 933.0,1403.2 937.6,1402.7 942.2,1402.3 946.9,1401.9 951.5,1401.4 956.2,1401.0 960.8,1400.6 965.5,1400.1 970.2,1399.7 974.9,1399.3 979.7,1398.8 984.4,1398.4 989.2,1398.0 994.0,1397.6 998.7,1397.1 1003.6,1396.7 1008.4,1396.3 1013.2,1395.9" fill="none" stroke="#000" stroke-width="4"/>
<circle cx="265.9" cy="1244.0" r="13.9" fill="#1F77B4" fill-opacity="0.82"/><circle cx="304.0" cy="1250.2" r="13.9" fill="#1F77B4" fill-opacity="0.82"/><circle cx="412.6" cy="1308.0" r="13.9" fill="#1F77B4" fill-opacity="0.82"/><circle cx="151.5" cy="1324.2" r="13.9" fill="#1F77B4" fill-opacity="0.82"/><circle cx="438.1" cy="1321.8" r="13.9" fill="#1F77B4" fill-opacity="0.82"/><circle cx="558.2" cy="1335.2" r="13.9" fill="#1F77B4" fill-opacity="0.82"/><circle cx="144.6" cy="1347.3" r="13.9" fill="#1F77B4" fill-opacity="0.82"/><circle cx="185.0" cy="1355.4" r="13.9" fill="#1F77B4" fill-opacity="0.82"/><circle cx="137.6" cy="1368.1" r="13.9" fill="#1F77B4" fill-opacity="0.82"/><circle cx="446.1" cy="1351.9" r="13.9" fill="#1F77B4" fill-opacity="0.82"/><circle cx="428.8" cy="1377.3" r="13.9" fill="#1F77B4" fill-opacity="0.82"/><circle cx="470.4" cy="1393.5" r="13.9" fill="#1F77B4" fill-opacity="0.82"/><circle cx="405.7" cy="1405.0" r="13.9" fill="#1F77B4" fill-opacity="0.82"/><circle cx="445.0" cy="1407.3" r="13.9" fill="#1F77B4" fill-opacity="0.82"/><circle cx="284.4" cy="1401.6" r="13.9" fill="#1F77B4" fill-opacity="0.82"/><circle cx="500.5" cy="1423.5" r="13.9" fill="#1F77B4" fill-opacity="0.82"/><circle cx="461.2" cy="1432.8" r="13.9" fill="#1F77B4" fill-opacity="0.82"/><circle cx="423.0" cy="1444.3" r="13.9" fill="#1F77B4" fill-opacity="0.82"/><circle cx="167.7" cy="1432.8" r="13.9" fill="#1F77B4" fill-opacity="0.82"/><circle cx="209.3" cy="1453.6" r="13.9" fill="#1F77B4" fill-opacity="0.82"/><circle cx="153.8" cy="1462.8" r="13.9" fill="#1F77B4" fill-opacity="0.82"/><circle cx="267.0" cy="1476.7" r="13.9" fill="#1F77B4" fill-opacity="0.82"/><circle cx="315.6" cy="1460.5" r="13.9" fill="#1F77B4" fill-opacity="0.82"/><circle cx="525.9" cy="1451.3" r="13.9" fill="#1F77B4" fill-opacity="0.82"/><circle cx="516.6" cy="1495.2" r="13.9" fill="#1F77B4" fill-opacity="0.82"/><circle cx="280.9" cy="1490.5" r="13.9" fill="#1F77B4" fill-opacity="0.82"/><circle cx="246.2" cy="1499.8" r="13.9" fill="#1F77B4" fill-opacity="0.82"/><circle cx="685.5" cy="1370.4" r="13.9" fill="#1F77B4" fill-opacity="0.82"/><circle cx="648.1" cy="1440.2" r="13.9" fill="#1F77B4" fill-opacity="0.82"/><circle cx="840.6" cy="1455.2" r="13.9" fill="#1F77B4" fill-opacity="0.82"/><circle cx="634.2" cy="1469.3" r="13.9" fill="#1F77B4" fill-opacity="0.82"/><circle cx="712.4" cy="1469.3" r="13.9" fill="#1F77B4" fill-opacity="0.82"/><circle cx="764.4" cy="1465.6" r="13.9" fill="#1F77B4" fill-opacity="0.82"/><circle cx="234.7" cy="1512.2" r="13.9" fill="#1F77B4" fill-opacity="0.82"/><circle cx="257.8" cy="1523.8" r="13.9" fill="#1F77B4" fill-opacity="0.82"/><circle cx="297.1" cy="1503.0" r="13.9" fill="#1F77B4" fill-opacity="0.82"/><circle cx="410.3" cy="1545.8" r="13.9" fill="#1F77B4" fill-opacity="0.82"/><circle cx="423.0" cy="1591.5" r="13.9" fill="#1F77B4" fill-opacity="0.82"/><circle cx="456.5" cy="1613.9" r="13.9" fill="#1F77B4" fill-opacity="0.82"/><circle cx="282.8" cy="1624.3" r="13.9" fill="#1F77B4" fill-opacity="0.82"/><circle cx="488.9" cy="1748.7" r="13.9" fill="#1F77B4" fill-opacity="0.82"/><circle cx="894.2" cy="1521.0" r="13.9" fill="#1F77B4" fill-opacity="0.82"/><circle cx="602.6" cy="1662.0" r="13.9" fill="#1F77B4" fill-opacity="0.82"/><circle cx="256.1" cy="1353.0" r="13.9" fill="#F05555" fill-opacity="0.7"/><circle cx="341.2" cy="1333.0" r="13.9" fill="#F05555" fill-opacity="0.7"/><circle cx="266.1" cy="1358.9" r="13.9" fill="#F05555" fill-opacity="0.7"/><circle cx="207.9" cy="1342.9" r="13.9" fill="#F05555" fill-opacity="0.7"/><circle cx="288.1" cy="1402.6" r="13.9" fill="#F05555" fill-opacity="0.7"/><circle cx="190.9" cy="1406.2" r="13.9" fill="#F05555" fill-opacity="0.7"/><circle cx="292.5" cy="1364.9" r="13.9" fill="#F05555" fill-opacity="0.7"/><circle cx="269.8" cy="1246.7" r="13.9" fill="#F05555" fill-opacity="0.7"/><circle cx="254.0" cy="1413.1" r="13.9" fill="#F05555" fill-opacity="0.7"/><circle cx="268.2" cy="1370.2" r="13.9" fill="#F05555" fill-opacity="0.7"/><circle cx="264.7" cy="1374.9" r="13.9" fill="#F05555" fill-opacity="0.7"/><circle cx="257.0" cy="1293.2" r="13.9" fill="#F05555" fill-opacity="0.7"/><circle cx="326.1" cy="1384.5" r="13.9" fill="#F05555" fill-opacity="0.7"/><circle cx="312.7" cy="1319.2" r="13.9" fill="#F05555" fill-opacity="0.7"/><circle cx="327.2" cy="1316.2" r="13.9" fill="#F05555" fill-opacity="0.7"/><circle cx="338.7" cy="1333.9" r="13.9" fill="#F05555" fill-opacity="0.7"/><circle cx="314.9" cy="1291.4" r="13.9" fill="#F05555" fill-opacity="0.7"/><circle cx="318.3" cy="1271.8" r="13.9" fill="#F05555" fill-opacity="0.7"/><circle cx="275.4" cy="1329.1" r="13.9" fill="#F05555" fill-opacity="0.7"/><circle cx="209.0" cy="1389.6" r="13.9" fill="#F05555" fill-opacity="0.7"/><circle cx="198.2" cy="1370.9" r="13.9" fill="#F05555" fill-opacity="0.7"/><circle cx="229.4" cy="1422.2" r="13.9" fill="#F05555" fill-opacity="0.7"/><circle cx="212.6" cy="1317.8" r="13.9" fill="#F05555" fill-opacity="0.7"/><circle cx="328.6" cy="1370.5" r="13.9" fill="#F05555" fill-opacity="0.7"/><circle cx="313.9" cy="1304.0" r="13.9" fill="#F05555" fill-opacity="0.7"/><circle cx="218.4" cy="1361.9" r="13.9" fill="#F05555" fill-opacity="0.7"/><circle cx="241.6" cy="1330.4" r="13.9" fill="#F05555" fill-opacity="0.7"/><circle cx="278.2" cy="1418.3" r="13.9" fill="#F05555" fill-opacity="0.7"/><circle cx="333.6" cy="1362.3" r="13.9" fill="#F05555" fill-opacity="0.7"/><circle cx="250.6" cy="1256.1" r="13.9" fill="#F05555" fill-opacity="0.7"/><circle cx="217.6" cy="1383.8" r="13.9" fill="#F05555" fill-opacity="0.7"/><circle cx="220.9" cy="1409.2" r="13.9" fill="#F05555" fill-opacity="0.7"/><circle cx="282.1" cy="1296.4" r="13.9" fill="#F05555" fill-opacity="0.7"/><circle cx="206.2" cy="1387.2" r="13.9" fill="#F05555" fill-opacity="0.7"/><circle cx="275.4" cy="1415.3" r="13.9" fill="#F05555" fill-opacity="0.7"/><circle cx="285.3" cy="1293.6" r="13.9" fill="#F05555" fill-opacity="0.7"/><circle cx="277.7" cy="1262.0" r="13.9" fill="#F05555" fill-opacity="0.7"/><circle cx="239.9" cy="1423.4" r="13.9" fill="#F05555" fill-opacity="0.7"/><circle cx="299.2" cy="1358.3" r="13.9" fill="#F05555" fill-opacity="0.7"/><circle cx="261.5" cy="1389.3" r="13.9" fill="#F05555" fill-opacity="0.7"/><circle cx="307.5" cy="1425.4" r="13.9" fill="#F05555" fill-opacity="0.7"/><circle cx="307.5" cy="1383.6" r="13.9" fill="#F05555" fill-opacity="0.7"/><circle cx="238.0" cy="1379.7" r="13.9" fill="#F05555" fill-opacity="0.7"/><circle cx="249.8" cy="1402.1" r="13.9" fill="#F05555" fill-opacity="0.7"/><circle cx="330.3" cy="1355.8" r="13.9" fill="#F05555" fill-opacity="0.7"/><circle cx="287.3" cy="1315.3" r="13.9" fill="#F05555" fill-opacity="0.7"/><circle cx="279.6" cy="1363.5" r="13.9" fill="#F05555" fill-opacity="0.7"/><circle cx="305.9" cy="1316.6" r="13.9" fill="#F05555" fill-opacity="0.7"/><circle cx="307.1" cy="1357.5" r="13.9" fill="#F05555" fill-opacity="0.7"/><circle cx="254.0" cy="1412.3" r="13.9" fill="#F05555" fill-opacity="0.7"/><circle cx="261.3" cy="1283.0" r="13.9" fill="#F05555" fill-opacity="0.7"/><circle cx="300.5" cy="1339.7" r="13.9" fill="#F05555" fill-opacity="0.7"/><circle cx="285.4" cy="1429.7" r="13.9" fill="#F05555" fill-opacity="0.7"/><circle cx="228.9" cy="1378.2" r="13.9" fill="#F05555" fill-opacity="0.7"/><circle cx="254.3" cy="1423.6" r="13.9" fill="#F05555" fill-opacity="0.7"/><circle cx="233.5" cy="1375.6" r="13.9" fill="#F05555" fill-opacity="0.7"/><circle cx="210.4" cy="1325.6" r="13.9" fill="#F05555" fill-opacity="0.7"/><circle cx="333.3" cy="1315.8" r="13.9" fill="#F05555" fill-opacity="0.7"/><circle cx="279.7" cy="1301.3" r="13.9" fill="#F05555" fill-opacity="0.7"/><circle cx="325.5" cy="1414.5" r="13.9" fill="#F05555" fill-opacity="0.7"/><circle cx="255.8" cy="1292.5" r="13.9" fill="#F05555" fill-opacity="0.7"/><circle cx="213.2" cy="1322.0" r="13.9" fill="#F05555" fill-opacity="0.7"/><circle cx="287.4" cy="1339.0" r="13.9" fill="#F05555" fill-opacity="0.7"/><circle cx="231.4" cy="1412.4" r="13.9" fill="#F05555" fill-opacity="0.7"/><circle cx="302.3" cy="1355.3" r="13.9" fill="#F05555" fill-opacity="0.7"/><circle cx="230.3" cy="1402.3" r="13.9" fill="#F05555" fill-opacity="0.7"/><circle cx="324.2" cy="1284.5" r="13.9" fill="#F05555" fill-opacity="0.7"/><circle cx="288.0" cy="1328.9" r="13.9" fill="#F05555" fill-opacity="0.7"/><circle cx="288.2" cy="1373.3" r="13.9" fill="#F05555" fill-opacity="0.7"/><circle cx="298.0" cy="1276.4" r="13.9" fill="#F05555" fill-opacity="0.7"/><circle cx="260.3" cy="1272.0" r="13.9" fill="#F05555" fill-opacity="0.7"/><circle cx="303.3" cy="1272.1" r="13.9" fill="#F05555" fill-opacity="0.7"/><circle cx="300.3" cy="1344.7" r="13.9" fill="#F05555" fill-opacity="0.7"/><circle cx="285.4" cy="1394.8" r="13.9" fill="#F05555" fill-opacity="0.7"/><circle cx="245.5" cy="1402.4" r="13.9" fill="#F05555" fill-opacity="0.7"/><circle cx="287.4" cy="1427.5" r="13.9" fill="#F05555" fill-opacity="0.7"/><circle cx="242.5" cy="1355.0" r="13.9" fill="#F05555" fill-opacity="0.7"/><circle cx="344.8" cy="1332.6" r="13.9" fill="#F05555" fill-opacity="0.7"/><circle cx="292.0" cy="1277.6" r="13.9" fill="#F05555" fill-opacity="0.7"/><circle cx="304.7" cy="1408.0" r="13.9" fill="#F05555" fill-opacity="0.7"/><circle cx="290.3" cy="1386.6" r="13.9" fill="#F05555" fill-opacity="0.7"/><circle cx="213.0" cy="1425.4" r="13.9" fill="#F05555" fill-opacity="0.7"/><circle cx="271.4" cy="1402.2" r="13.9" fill="#F05555" fill-opacity="0.7"/><circle cx="232.4" cy="1427.5" r="13.9" fill="#F05555" fill-opacity="0.7"/><circle cx="328.9" cy="1308.1" r="13.9" fill="#F05555" fill-opacity="0.7"/><circle cx="273.8" cy="1397.4" r="13.9" fill="#F05555" fill-opacity="0.7"/><circle cx="318.8" cy="1270.8" r="13.9" fill="#F05555" fill-opacity="0.7"/><circle cx="235.0" cy="1401.5" r="13.9" fill="#F05555" fill-opacity="0.7"/><circle cx="267.7" cy="1387.9" r="13.9" fill="#F05555" fill-opacity="0.7"/><circle cx="326.0" cy="1380.6" r="13.9" fill="#F05555" fill-opacity="0.7"/><circle cx="345.1" cy="1338.8" r="13.9" fill="#F05555" fill-opacity="0.7"/><circle cx="214.5" cy="1346.0" r="13.9" fill="#F05555" fill-opacity="0.7"/><circle cx="226.9" cy="1389.0" r="13.9" fill="#F05555" fill-opacity="0.7"/><circle cx="289.8" cy="1345.2" r="13.9" fill="#F05555" fill-opacity="0.7"/><circle cx="326.7" cy="1353.1" r="13.9" fill="#F05555" fill-opacity="0.7"/><circle cx="230.8" cy="1315.1" r="13.9" fill="#F05555" fill-opacity="0.7"/><circle cx="212.1" cy="1414.9" r="13.9" fill="#F05555" fill-opacity="0.7"/><circle cx="277.9" cy="1276.7" r="13.9" fill="#F05555" fill-opacity="0.7"/><circle cx="271.2" cy="1341.0" r="13.9" fill="#F05555" fill-opacity="0.7"/><circle cx="246.8" cy="1404.3" r="13.9" fill="#F05555" fill-opacity="0.7"/><circle cx="276.1" cy="1338.4" r="13.9" fill="#F05555" fill-opacity="0.7"/><circle cx="299.2" cy="1248.0" r="13.9" fill="#F05555" fill-opacity="0.7"/><circle cx="271.7" cy="1322.0" r="13.9" fill="#F05555" fill-opacity="0.7"/><circle cx="223.1" cy="1334.6" r="13.9" fill="#F05555" fill-opacity="0.7"/><circle cx="260.5" cy="1301.5" r="13.9" fill="#F05555" fill-opacity="0.7"/><circle cx="209.1" cy="1365.4" r="13.9" fill="#F05555" fill-opacity="0.7"/><circle cx="298.4" cy="1302.5" r="13.9" fill="#F05555" fill-opacity="0.7"/><circle cx="238.7" cy="1365.8" r="13.9" fill="#F05555" fill-opacity="0.7"/><circle cx="270.2" cy="1326.9" r="13.9" fill="#F05555" fill-opacity="0.7"/><circle cx="242.3" cy="1321.9" r="13.9" fill="#F05555" fill-opacity="0.7"/><circle cx="270.0" cy="1268.0" r="13.9" fill="#F05555" fill-opacity="0.7"/><circle cx="211.4" cy="1368.2" r="13.9" fill="#F05555" fill-opacity="0.7"/><circle cx="289.7" cy="1346.6" r="13.9" fill="#F05555" fill-opacity="0.7"/><circle cx="328.1" cy="1364.1" r="13.9" fill="#F05555" fill-opacity="0.7"/><circle cx="329.0" cy="1283.5" r="13.9" fill="#F05555" fill-opacity="0.7"/><circle cx="308.1" cy="1406.3" r="13.9" fill="#F05555" fill-opacity="0.7"/><circle cx="231.4" cy="1430.2" r="13.9" fill="#F05555" fill-opacity="0.7"/><circle cx="217.7" cy="1388.5" r="13.9" fill="#F05555" fill-opacity="0.7"/><circle cx="324.6" cy="1323.7" r="13.9" fill="#F05555" fill-opacity="0.7"/><circle cx="317.0" cy="1260.8" r="13.9" fill="#F05555" fill-opacity="0.7"/><circle cx="247.2" cy="1379.7" r="13.9" fill="#F05555" fill-opacity="0.7"/><circle cx="297.6" cy="1427.8" r="13.9" fill="#F05555" fill-opacity="0.7"/><circle cx="265.8" cy="1395.2" r="13.9" fill="#F05555" fill-opacity="0.7"/><circle cx="265.2" cy="1379.8" r="13.9" fill="#F05555" fill-opacity="0.7"/><circle cx="274.0" cy="1343.5" r="13.9" fill="#F05555" fill-opacity="0.7"/><circle cx="277.1" cy="1265.2" r="13.9" fill="#F05555" fill-opacity="0.7"/><circle cx="257.9" cy="1396.6" r="13.9" fill="#F05555" fill-opacity="0.7"/><circle cx="233.5" cy="1333.3" r="13.9" fill="#F05555" fill-opacity="0.7"/><circle cx="267.5" cy="1325.5" r="13.9" fill="#F05555" fill-opacity="0.7"/><circle cx="301.0" cy="1413.5" r="13.9" fill="#F05555" fill-opacity="0.7"/><circle cx="207.3" cy="1330.5" r="13.9" fill="#F05555" fill-opacity="0.7"/><circle cx="307.9" cy="1320.2" r="13.9" fill="#F05555" fill-opacity="0.7"/><circle cx="301.6" cy="1417.0" r="13.9" fill="#F05555" fill-opacity="0.7"/><circle cx="288.1" cy="1320.0" r="13.9" fill="#F05555" fill-opacity="0.7"/><circle cx="282.7" cy="1341.2" r="13.9" fill="#F05555" fill-opacity="0.7"/><circle cx="221.2" cy="1427.8" r="13.9" fill="#F05555" fill-opacity="0.7"/><circle cx="308.8" cy="1399.4" r="13.9" fill="#F05555" fill-opacity="0.7"/><circle cx="321.4" cy="1320.3" r="13.9" fill="#F05555" fill-opacity="0.7"/><circle cx="299.8" cy="1397.2" r="13.9" fill="#F05555" fill-opacity="0.7"/><circle cx="312.5" cy="1320.3" r="13.9" fill="#F05555" fill-opacity="0.7"/><circle cx="304.9" cy="1249.0" r="13.9" fill="#F05555" fill-opacity="0.7"/><circle cx="236.2" cy="1333.7" r="13.9" fill="#F05555" fill-opacity="0.7"/><circle cx="289.7" cy="1366.7" r="13.9" fill="#F05555" fill-opacity="0.7"/><circle cx="216.4" cy="1434.9" r="13.9" fill="#F05555" fill-opacity="0.7"/><circle cx="294.7" cy="1305.8" r="13.9" fill="#F05555" fill-opacity="0.7"/><circle cx="293.5" cy="1355.1" r="13.9" fill="#F05555" fill-opacity="0.7"/><circle cx="270.7" cy="1316.9" r="13.9" fill="#F05555" fill-opacity="0.7"/><circle cx="301.0" cy="1396.0" r="13.9" fill="#F05555" fill-opacity="0.7"/><circle cx="285.5" cy="1391.1" r="13.9" fill="#F05555" fill-opacity="0.7"/><circle cx="220.9" cy="1319.4" r="13.9" fill="#F05555" fill-opacity="0.7"/><circle cx="219.8" cy="1426.6" r="13.9" fill="#F05555" fill-opacity="0.7"/><circle cx="273.8" cy="1342.0" r="13.9" fill="#F05555" fill-opacity="0.7"/><circle cx="282.3" cy="1395.4" r="13.9" fill="#F05555" fill-opacity="0.7"/><circle cx="205.1" cy="1339.4" r="13.9" fill="#F05555" fill-opacity="0.7"/><circle cx="284.8" cy="1246.5" r="13.9" fill="#F05555" fill-opacity="0.7"/><circle cx="345.0" cy="1323.5" r="13.9" fill="#F05555" fill-opacity="0.7"/><circle cx="269.6" cy="1361.1" r="13.9" fill="#F05555" fill-opacity="0.7"/><circle cx="240.5" cy="1294.8" r="13.9" fill="#F05555" fill-opacity="0.7"/><circle cx="292.7" cy="1353.2" r="13.9" fill="#F05555" fill-opacity="0.7"/><circle cx="225.7" cy="1386.4" r="13.9" fill="#F05555" fill-opacity="0.7"/><circle cx="202.8" cy="1394.5" r="13.9" fill="#F05555" fill-opacity="0.7"/><circle cx="244.9" cy="1424.9" r="13.9" fill="#F05555" fill-opacity="0.7"/><circle cx="187.8" cy="1426.6" r="13.9" fill="#F05555" fill-opacity="0.7"/><circle cx="252.0" cy="1335.6" r="13.9" fill="#F05555" fill-opacity="0.7"/><circle cx="268.9" cy="1433.3" r="13.9" fill="#F05555" fill-opacity="0.7"/><circle cx="304.9" cy="1333.6" r="13.9" fill="#F05555" fill-opacity="0.7"/><circle cx="283.4" cy="1258.5" r="13.9" fill="#F05555" fill-opacity="0.7"/><circle cx="287.1" cy="1330.9" r="13.9" fill="#F05555" fill-opacity="0.7"/><circle cx="269.8" cy="1260.5" r="13.9" fill="#F05555" fill-opacity="0.7"/><circle cx="254.4" cy="1376.0" r="13.9" fill="#F05555" fill-opacity="0.7"/><circle cx="256.7" cy="1289.8" r="13.9" fill="#F05555" fill-opacity="0.7"/><circle cx="279.6" cy="1323.2" r="13.9" fill="#F05555" fill-opacity="0.7"/><circle cx="314.8" cy="1346.9" r="13.9" fill="#F05555" fill-opacity="0.7"/><circle cx="307.0" cy="1284.7" r="13.9" fill="#F05555" fill-opacity="0.7"/><circle cx="195.1" cy="1423.8" r="13.9" fill="#F05555" fill-opacity="0.7"/><circle cx="316.0" cy="1366.9" r="13.9" fill="#F05555" fill-opacity="0.7"/><circle cx="239.3" cy="1291.7" r="13.9" fill="#F05555" fill-opacity="0.7"/><circle cx="298.1" cy="1354.1" r="13.9" fill="#F05555" fill-opacity="0.7"/><circle cx="281.3" cy="1368.6" r="13.9" fill="#F05555" fill-opacity="0.7"/><circle cx="310.4" cy="1274.4" r="13.9" fill="#F05555" fill-opacity="0.7"/><circle cx="223.4" cy="1324.4" r="13.9" fill="#F05555" fill-opacity="0.7"/><circle cx="287.0" cy="1255.8" r="13.9" fill="#F05555" fill-opacity="0.7"/><circle cx="272.2" cy="1249.4" r="13.9" fill="#F05555" fill-opacity="0.7"/><circle cx="273.9" cy="1368.2" r="13.9" fill="#F05555" fill-opacity="0.7"/><circle cx="241.9" cy="1335.8" r="13.9" fill="#F05555" fill-opacity="0.7"/><circle cx="308.9" cy="1412.3" r="13.9" fill="#F05555" fill-opacity="0.7"/><circle cx="320.5" cy="1366.6" r="13.9" fill="#F05555" fill-opacity="0.7"/><circle cx="313.2" cy="1279.3" r="13.9" fill="#F05555" fill-opacity="0.7"/><circle cx="251.1" cy="1288.9" r="13.9" fill="#F05555" fill-opacity="0.7"/><circle cx="320.6" cy="1312.5" r="13.9" fill="#F05555" fill-opacity="0.7"/><circle cx="233.3" cy="1350.7" r="13.9" fill="#F05555" fill-opacity="0.7"/><circle cx="309.1" cy="1429.8" r="13.9" fill="#F05555" fill-opacity="0.7"/><circle cx="251.7" cy="1312.5" r="13.9" fill="#F05555" fill-opacity="0.7"/><circle cx="192.1" cy="1420.1" r="13.9" fill="#F05555" fill-opacity="0.7"/><circle cx="276.3" cy="1337.1" r="13.9" fill="#F05555" fill-opacity="0.7"/><circle cx="298.1" cy="1297.6" r="13.9" fill="#F05555" fill-opacity="0.7"/><circle cx="314.4" cy="1250.2" r="13.9" fill="#F05555" fill-opacity="0.7"/><circle cx="213.0" cy="1374.8" r="13.9" fill="#F05555" fill-opacity="0.7"/><circle cx="305.3" cy="1381.6" r="13.9" fill="#F05555" fill-opacity="0.7"/><circle cx="239.1" cy="1388.4" r="13.9" fill="#F05555" fill-opacity="0.7"/><circle cx="237.2" cy="1248.2" r="13.9" fill="#F05555" fill-opacity="0.7"/><circle cx="306.4" cy="1355.9" r="13.9" fill="#F05555" fill-opacity="0.7"/><circle cx="347.6" cy="1324.6" r="13.9" fill="#F05555" fill-opacity="0.7"/><circle cx="325.4" cy="1292.9" r="13.9" fill="#F05555" fill-opacity="0.7"/><circle cx="227.4" cy="1315.5" r="13.9" fill="#F05555" fill-opacity="0.7"/><circle cx="213.4" cy="1306.4" r="13.9" fill="#F05555" fill-opacity="0.7"/><circle cx="237.0" cy="1306.8" r="13.9" fill="#F05555" fill-opacity="0.7"/><circle cx="243.1" cy="1312.6" r="13.9" fill="#F05555" fill-opacity="0.7"/><circle cx="202.6" cy="1354.6" r="13.9" fill="#F05555" fill-opacity="0.7"/><circle cx="324.2" cy="1349.0" r="13.9" fill="#F05555" fill-opacity="0.7"/><circle cx="332.1" cy="1354.3" r="13.9" fill="#F05555" fill-opacity="0.7"/><circle cx="198.9" cy="1401.0" r="13.9" fill="#F05555" fill-opacity="0.7"/><circle cx="341.1" cy="1287.3" r="13.9" fill="#F05555" fill-opacity="0.7"/><circle cx="273.1" cy="1355.4" r="13.9" fill="#F05555" fill-opacity="0.7"/><circle cx="325.6" cy="1235.6" r="13.9" fill="#F05555" fill-opacity="0.7"/><circle cx="273.6" cy="1408.0" r="13.9" fill="#F05555" fill-opacity="0.7"/><circle cx="312.0" cy="1434.4" r="13.9" fill="#F05555" fill-opacity="0.7"/><circle cx="180.3" cy="1371.3" r="13.9" fill="#F05555" fill-opacity="0.7"/><circle cx="192.3" cy="1397.9" r="13.9" fill="#F05555" fill-opacity="0.7"/><circle cx="294.3" cy="1278.7" r="13.9" fill="#F05555" fill-opacity="0.7"/><circle cx="207.7" cy="1402.6" r="13.9" fill="#F05555" fill-opacity="0.7"/><circle cx="268.5" cy="1402.4" r="13.9" fill="#F05555" fill-opacity="0.7"/><circle cx="242.9" cy="1300.7" r="13.9" fill="#F05555" fill-opacity="0.7"/><circle cx="262.9" cy="1348.3" r="13.9" fill="#F05555" fill-opacity="0.7"/><circle cx="308.8" cy="1388.9" r="13.9" fill="#F05555" fill-opacity="0.7"/><circle cx="348.0" cy="1318.1" r="13.9" fill="#F05555" fill-opacity="0.7"/><circle cx="330.0" cy="1379.1" r="13.9" fill="#F05555" fill-opacity="0.7"/><circle cx="335.5" cy="1412.2" r="13.9" fill="#F05555" fill-opacity="0.7"/><circle cx="331.6" cy="1431.9" r="13.9" fill="#F05555" fill-opacity="0.7"/><circle cx="269.0" cy="1389.4" r="13.9" fill="#F05555" fill-opacity="0.7"/><circle cx="325.2" cy="1320.7" r="13.9" fill="#F05555" fill-opacity="0.7"/><circle cx="248.1" cy="1255.1" r="13.9" fill="#F05555" fill-opacity="0.7"/><circle cx="239.0" cy="1260.2" r="13.9" fill="#F05555" fill-opacity="0.7"/><circle cx="204.5" cy="1321.5" r="13.9" fill="#F05555" fill-opacity="0.7"/><circle cx="222.2" cy="1451.2" r="13.9" fill="#F05555" fill-opacity="0.7"/><circle cx="186.4" cy="1374.6" r="13.9" fill="#F05555" fill-opacity="0.7"/><circle cx="319.9" cy="1263.0" r="13.9" fill="#F05555" fill-opacity="0.7"/><circle cx="281.1" cy="1436.8" r="13.9" fill="#F05555" fill-opacity="0.7"/><circle cx="210.8" cy="1391.1" r="13.9" fill="#F05555" fill-opacity="0.7"/><circle cx="283.3" cy="1273.6" r="13.9" fill="#F05555" fill-opacity="0.7"/><circle cx="198.1" cy="1400.7" r="13.9" fill="#F05555" fill-opacity="0.7"/><circle cx="226.2" cy="1350.9" r="13.9" fill="#F05555" fill-opacity="0.7"/><circle cx="328.2" cy="1334.5" r="13.9" fill="#F05555" fill-opacity="0.7"/><circle cx="215.8" cy="1431.6" r="13.9" fill="#F05555" fill-opacity="0.7"/><circle cx="347.8" cy="1301.8" r="13.9" fill="#F05555" fill-opacity="0.7"/><circle cx="273.7" cy="1448.2" r="13.9" fill="#F05555" fill-opacity="0.7"/><circle cx="260.7" cy="1272.9" r="13.9" fill="#F05555" fill-opacity="0.7"/><circle cx="325.0" cy="1312.0" r="13.9" fill="#F05555" fill-opacity="0.7"/><circle cx="269.7" cy="1343.1" r="13.9" fill="#F05555" fill-opacity="0.7"/><circle cx="296.0" cy="1276.9" r="13.9" fill="#F05555" fill-opacity="0.7"/><circle cx="238.2" cy="1410.0" r="13.9" fill="#F05555" fill-opacity="0.7"/><circle cx="307.2" cy="1364.6" r="13.9" fill="#F05555" fill-opacity="0.7"/><circle cx="228.2" cy="1282.1" r="13.9" fill="#F05555" fill-opacity="0.7"/><circle cx="338.7" cy="1343.2" r="13.9" fill="#F05555" fill-opacity="0.7"/><circle cx="217.0" cy="1347.6" r="13.9" fill="#F05555" fill-opacity="0.7"/><circle cx="193.6" cy="1403.7" r="13.9" fill="#F05555" fill-opacity="0.7"/><circle cx="334.1" cy="1416.1" r="13.9" fill="#F05555" fill-opacity="0.7"/><circle cx="307.9" cy="1243.4" r="13.9" fill="#F05555" fill-opacity="0.7"/><circle cx="260.2" cy="1331.9" r="13.9" fill="#F05555" fill-opacity="0.7"/><circle cx="356.1" cy="1360.0" r="13.9" fill="#F05555" fill-opacity="0.7"/><circle cx="400.4" cy="1296.7" r="13.9" fill="#F05555" fill-opacity="0.7"/><circle cx="395.7" cy="1313.2" r="13.9" fill="#F05555" fill-opacity="0.7"/><circle cx="398.3" cy="1282.9" r="13.9" fill="#F05555" fill-opacity="0.7"/><circle cx="378.7" cy="1329.0" r="13.9" fill="#F05555" fill-opacity="0.7"/><circle cx="351.9" cy="1373.6" r="13.9" fill="#F05555" fill-opacity="0.7"/><circle cx="362.6" cy="1297.8" r="13.9" fill="#F05555" fill-opacity="0.7"/><circle cx="346.3" cy="1297.0" r="13.9" fill="#F05555" fill-opacity="0.7"/><circle cx="373.4" cy="1356.6" r="13.9" fill="#F05555" fill-opacity="0.7"/><circle cx="365.9" cy="1352.5" r="13.9" fill="#F05555" fill-opacity="0.7"/><circle cx="348.3" cy="1309.9" r="13.9" fill="#F05555" fill-opacity="0.7"/><circle cx="373.0" cy="1393.3" r="13.9" fill="#F05555" fill-opacity="0.7"/><circle cx="398.5" cy="1347.7" r="13.9" fill="#F05555" fill-opacity="0.7"/><circle cx="341.9" cy="1307.4" r="13.9" fill="#F05555" fill-opacity="0.7"/><circle cx="390.2" cy="1287.1" r="13.9" fill="#F05555" fill-opacity="0.7"/><circle cx="380.1" cy="1319.2" r="13.9" fill="#F05555" fill-opacity="0.7"/><circle cx="341.7" cy="1396.9" r="13.9" fill="#F05555" fill-opacity="0.7"/><circle cx="396.4" cy="1282.6" r="13.9" fill="#F05555" fill-opacity="0.7"/><circle cx="383.7" cy="1294.8" r="13.9" fill="#F05555" fill-opacity="0.7"/><circle cx="367.1" cy="1331.1" r="13.9" fill="#F05555" fill-opacity="0.7"/><circle cx="361.7" cy="1301.6" r="13.9" fill="#F05555" fill-opacity="0.7"/><circle cx="368.2" cy="1349.6" r="13.9" fill="#F05555" fill-opacity="0.7"/><circle cx="358.8" cy="1281.6" r="13.9" fill="#F05555" fill-opacity="0.7"/><circle cx="249.2" cy="1182.5" r="13.9" fill="#F05555" fill-opacity="0.7"/><circle cx="404.6" cy="1182.5" r="13.9" fill="#F05555" fill-opacity="0.7"/><circle cx="298.9" cy="1194.7" r="13.9" fill="#F05555" fill-opacity="0.7"/><circle cx="319.7" cy="1194.7" r="13.9" fill="#F05555" fill-opacity="0.7"/><circle cx="368.7" cy="1196.6" r="13.9" fill="#F05555" fill-opacity="0.7"/><circle cx="352.6" cy="1207.4" r="13.9" fill="#F05555" fill-opacity="0.7"/><circle cx="234.7" cy="1213.2" r="13.9" fill="#F05555" fill-opacity="0.7"/><circle cx="390.0" cy="1216.7" r="13.9" fill="#F05555" fill-opacity="0.7"/><circle cx="265.9" cy="1223.2" r="13.9" fill="#F05555" fill-opacity="0.7"/><circle cx="427.0" cy="1225.5" r="13.9" fill="#F05555" fill-opacity="0.7"/><circle cx="507.4" cy="1222.5" r="13.9" fill="#F05555" fill-opacity="0.7"/><circle cx="525.9" cy="1222.0" r="13.9" fill="#F05555" fill-opacity="0.7"/><circle cx="389.5" cy="1235.9" r="13.9" fill="#F05555" fill-opacity="0.7"/><circle cx="486.6" cy="1231.7" r="13.9" fill="#F05555" fill-opacity="0.7"/><circle cx="539.7" cy="1235.2" r="13.9" fill="#F05555" fill-opacity="0.7"/><circle cx="308.6" cy="1237.5" r="13.9" fill="#F05555" fill-opacity="0.7"/><circle cx="285.5" cy="1239.8" r="13.9" fill="#F05555" fill-opacity="0.7"/><circle cx="420.7" cy="1245.6" r="13.9" fill="#F05555" fill-opacity="0.7"/><circle cx="433.4" cy="1241.0" r="13.9" fill="#F05555" fill-opacity="0.7"/><circle cx="447.3" cy="1237.5" r="13.9" fill="#F05555" fill-opacity="0.7"/><circle cx="463.5" cy="1237.5" r="13.9" fill="#F05555" fill-opacity="0.7"/><circle cx="472.7" cy="1245.6" r="13.9" fill="#F05555" fill-opacity="0.7"/><circle cx="507.4" cy="1241.0" r="13.9" fill="#F05555" fill-opacity="0.7"/><circle cx="525.9" cy="1250.2" r="13.9" fill="#F05555" fill-opacity="0.7"/><circle cx="394.2" cy="1249.0" r="13.9" fill="#F05555" fill-opacity="0.7"/><circle cx="176.9" cy="1247.9" r="13.9" fill="#F05555" fill-opacity="0.7"/><circle cx="178.8" cy="1256.0" r="13.9" fill="#F05555" fill-opacity="0.7"/><circle cx="549.0" cy="1261.8" r="13.9" fill="#F05555" fill-opacity="0.7"/><circle cx="420.7" cy="1267.5" r="13.9" fill="#F05555" fill-opacity="0.7"/><circle cx="440.4" cy="1273.3" r="13.9" fill="#F05555" fill-opacity="0.7"/><circle cx="509.7" cy="1271.0" r="13.9" fill="#F05555" fill-opacity="0.7"/><circle cx="551.3" cy="1275.6" r="13.9" fill="#F05555" fill-opacity="0.7"/><circle cx="565.2" cy="1264.1" r="13.9" fill="#F05555" fill-opacity="0.7"/><circle cx="160.3" cy="1279.1" r="13.9" fill="#F05555" fill-opacity="0.7"/><circle cx="220.8" cy="1268.7" r="13.9" fill="#F05555" fill-opacity="0.7"/><circle cx="216.2" cy="1279.1" r="13.9" fill="#F05555" fill-opacity="0.7"/><circle cx="366.4" cy="1259.4" r="13.9" fill="#F05555" fill-opacity="0.7"/><circle cx="350.2" cy="1261.8" r="13.9" fill="#F05555" fill-opacity="0.7"/><circle cx="374.5" cy="1276.8" r="13.9" fill="#F05555" fill-opacity="0.7"/><circle cx="345.6" cy="1291.8" r="13.9" fill="#F05555" fill-opacity="0.7"/><circle cx="373.4" cy="1288.3" r="13.9" fill="#F05555" fill-opacity="0.7"/><circle cx="396.5" cy="1294.1" r="13.9" fill="#F05555" fill-opacity="0.7"/><circle cx="412.6" cy="1303.4" r="13.9" fill="#F05555" fill-opacity="0.7"/><circle cx="445.0" cy="1298.7" r="13.9" fill="#F05555" fill-opacity="0.7"/><circle cx="463.5" cy="1297.6" r="13.9" fill="#F05555" fill-opacity="0.7"/><circle cx="475.0" cy="1303.4" r="13.9" fill="#F05555" fill-opacity="0.7"/><circle cx="497.0" cy="1291.8" r="13.9" fill="#F05555" fill-opacity="0.7"/><circle cx="512.0" cy="1303.4" r="13.9" fill="#F05555" fill-opacity="0.7"/><circle cx="562.9" cy="1294.1" r="13.9" fill="#F05555" fill-opacity="0.7"/><circle cx="567.5" cy="1308.0" r="13.9" fill="#F05555" fill-opacity="0.7"/><circle cx="182.7" cy="1308.0" r="13.9" fill="#F05555" fill-opacity="0.7"/><circle cx="135.3" cy="1316.1" r="13.9" fill="#F05555" fill-opacity="0.7"/><circle cx="133.0" cy="1331.1" r="13.9" fill="#F05555" fill-opacity="0.7"/><circle cx="170.0" cy="1331.1" r="13.9" fill="#F05555" fill-opacity="0.7"/><circle cx="383.8" cy="1320.7" r="13.9" fill="#F05555" fill-opacity="0.7"/><circle cx="502.8" cy="1319.5" r="13.9" fill="#F05555" fill-opacity="0.7"/><circle cx="479.7" cy="1317.2" r="13.9" fill="#F05555" fill-opacity="0.7"/><circle cx="454.2" cy="1324.2" r="13.9" fill="#F05555" fill-opacity="0.7"/><circle cx="438.1" cy="1324.2" r="13.9" fill="#F05555" fill-opacity="0.7"/><circle cx="419.6" cy="1331.1" r="13.9" fill="#F05555" fill-opacity="0.7"/><circle cx="477.3" cy="1340.3" r="13.9" fill="#F05555" fill-opacity="0.7"/><circle cx="383.8" cy="1340.3" r="13.9" fill="#F05555" fill-opacity="0.7"/><circle cx="525.9" cy="1351.9" r="13.9" fill="#F05555" fill-opacity="0.7"/><circle cx="502.8" cy="1356.5" r="13.9" fill="#F05555" fill-opacity="0.7"/><circle cx="419.6" cy="1351.9" r="13.9" fill="#F05555" fill-opacity="0.7"/><circle cx="410.3" cy="1361.1" r="13.9" fill="#F05555" fill-opacity="0.7"/><circle cx="403.4" cy="1365.8" r="13.9" fill="#F05555" fill-opacity="0.7"/><circle cx="349.1" cy="1360.0" r="13.9" fill="#F05555" fill-opacity="0.7"/><circle cx="461.2" cy="1368.1" r="13.9" fill="#F05555" fill-opacity="0.7"/><circle cx="465.8" cy="1384.2" r="13.9" fill="#F05555" fill-opacity="0.7"/><circle cx="421.9" cy="1384.2" r="13.9" fill="#F05555" fill-opacity="0.7"/><circle cx="398.8" cy="1391.2" r="13.9" fill="#F05555" fill-opacity="0.7"/><circle cx="373.4" cy="1386.5" r="13.9" fill="#F05555" fill-opacity="0.7"/><circle cx="354.9" cy="1384.2" r="13.9" fill="#F05555" fill-opacity="0.7"/><circle cx="170.0" cy="1385.4" r="13.9" fill="#F05555" fill-opacity="0.7"/><circle cx="179.2" cy="1430.5" r="13.9" fill="#F05555" fill-opacity="0.7"/><circle cx="186.2" cy="1442.0" r="13.9" fill="#F05555" fill-opacity="0.7"/><circle cx="383.8" cy="1440.9" r="13.9" fill="#F05555" fill-opacity="0.7"/><circle cx="427.7" cy="1453.6" r="13.9" fill="#F05555" fill-opacity="0.7"/><circle cx="442.7" cy="1448.9" r="13.9" fill="#F05555" fill-opacity="0.7"/><circle cx="470.4" cy="1458.2" r="13.9" fill="#F05555" fill-opacity="0.7"/><circle cx="365.3" cy="1469.7" r="13.9" fill="#F05555" fill-opacity="0.7"/><circle cx="334.1" cy="1430.5" r="13.9" fill="#F05555" fill-opacity="0.7"/><circle cx="549.0" cy="1479.0" r="13.9" fill="#F05555" fill-opacity="0.7"/><circle cx="222.0" cy="1497.5" r="13.9" fill="#F05555" fill-opacity="0.7"/><circle cx="334.1" cy="1497.5" r="13.9" fill="#F05555" fill-opacity="0.7"/><circle cx="435.8" cy="1499.8" r="13.9" fill="#F05555" fill-opacity="0.7"/><circle cx="706.3" cy="1244.0" r="13.9" fill="#F05555" fill-opacity="0.7"/><circle cx="656.7" cy="1256.4" r="13.9" fill="#F05555" fill-opacity="0.7"/><circle cx="613.4" cy="1258.3" r="13.9" fill="#F05555" fill-opacity="0.7"/><circle cx="590.3" cy="1262.9" r="13.9" fill="#F05555" fill-opacity="0.7"/><circle cx="577.6" cy="1260.6" r="13.9" fill="#F05555" fill-opacity="0.7"/><circle cx="790.2" cy="1264.8" r="13.9" fill="#F05555" fill-opacity="0.7"/><circle cx="805.3" cy="1273.3" r="13.9" fill="#F05555" fill-opacity="0.7"/><circle cx="613.4" cy="1269.8" r="13.9" fill="#F05555" fill-opacity="0.7"/><circle cx="619.2" cy="1276.8" r="13.9" fill="#F05555" fill-opacity="0.7"/><circle cx="590.3" cy="1269.8" r="13.9" fill="#F05555" fill-opacity="0.7"/><circle cx="631.9" cy="1286.0" r="13.9" fill="#F05555" fill-opacity="0.7"/><circle cx="727.4" cy="1283.2" r="13.9" fill="#F05555" fill-opacity="0.7"/><circle cx="577.6" cy="1291.8" r="13.9" fill="#F05555" fill-opacity="0.7"/><circle cx="606.5" cy="1296.4" r="13.9" fill="#F05555" fill-opacity="0.7"/><circle cx="642.3" cy="1299.9" r="13.9" fill="#F05555" fill-opacity="0.7"/><circle cx="689.7" cy="1304.0" r="13.9" fill="#F05555" fill-opacity="0.7"/><circle cx="637.7" cy="1310.3" r="13.9" fill="#F05555" fill-opacity="0.7"/><circle cx="584.6" cy="1313.8" r="13.9" fill="#F05555" fill-opacity="0.7"/><circle cx="573.0" cy="1303.4" r="13.9" fill="#F05555" fill-opacity="0.7"/><circle cx="645.8" cy="1325.3" r="13.9" fill="#F05555" fill-opacity="0.7"/><circle cx="610.0" cy="1331.1" r="13.9" fill="#F05555" fill-opacity="0.7"/><circle cx="584.6" cy="1331.1" r="13.9" fill="#F05555" fill-opacity="0.7"/><circle cx="749.8" cy="1328.8" r="13.9" fill="#F05555" fill-opacity="0.7"/><circle cx="668.9" cy="1335.0" r="13.9" fill="#F05555" fill-opacity="0.7"/><circle cx="859.6" cy="1335.0" r="13.9" fill="#F05555" fill-opacity="0.7"/><circle cx="644.2" cy="1349.6" r="13.9" fill="#F05555" fill-opacity="0.7"/><circle cx="700.1" cy="1349.6" r="13.9" fill="#F05555" fill-opacity="0.7"/><circle cx="841.1" cy="1353.7" r="13.9" fill="#F05555" fill-opacity="0.7"/><circle cx="611.1" cy="1361.8" r="13.9" fill="#F05555" fill-opacity="0.7"/><circle cx="749.8" cy="1361.8" r="13.9" fill="#F05555" fill-opacity="0.7"/><circle cx="813.8" cy="1361.8" r="13.9" fill="#F05555" fill-opacity="0.7"/><circle cx="631.9" cy="1380.1" r="13.9" fill="#F05555" fill-opacity="0.7"/><circle cx="584.6" cy="1386.5" r="13.9" fill="#F05555" fill-opacity="0.7"/><circle cx="595.0" cy="1386.5" r="13.9" fill="#F05555" fill-opacity="0.7"/><circle cx="612.3" cy="1395.8" r="13.9" fill="#F05555" fill-opacity="0.7"/><circle cx="628.5" cy="1395.8" r="13.9" fill="#F05555" fill-opacity="0.7"/><circle cx="621.5" cy="1407.3" r="13.9" fill="#F05555" fill-opacity="0.7"/><circle cx="768.3" cy="1401.6" r="13.9" fill="#F05555" fill-opacity="0.7"/><circle cx="871.6" cy="1401.6" r="13.9" fill="#F05555" fill-opacity="0.7"/><circle cx="602.6" cy="1428.1" r="13.9" fill="#F05555" fill-opacity="0.7"/><circle cx="654.3" cy="1432.3" r="13.9" fill="#F05555" fill-opacity="0.7"/><circle cx="875.8" cy="1473.7" r="13.9" fill="#F05555" fill-opacity="0.7"/><circle cx="590.3" cy="1497.5" r="13.9" fill="#F05555" fill-opacity="0.7"/><circle cx="803.6" cy="1494.0" r="13.9" fill="#F05555" fill-opacity="0.7"/><circle cx="635.4" cy="1502.1" r="13.9" fill="#F05555" fill-opacity="0.7"/><circle cx="222.0" cy="1505.3" r="13.9" fill="#F05555" fill-opacity="0.7"/><circle cx="210.4" cy="1521.0" r="13.9" fill="#F05555" fill-opacity="0.7"/><circle cx="334.1" cy="1507.6" r="13.9" fill="#F05555" fill-opacity="0.7"/><circle cx="379.8" cy="1521.0" r="13.9" fill="#F05555" fill-opacity="0.7"/><circle cx="435.8" cy="1506.5" r="13.9" fill="#F05555" fill-opacity="0.7"/><circle cx="271.7" cy="1516.9" r="13.9" fill="#F05555" fill-opacity="0.7"/><circle cx="328.3" cy="1537.7" r="13.9" fill="#F05555" fill-opacity="0.7"/><circle cx="297.1" cy="1537.7" r="13.9" fill="#F05555" fill-opacity="0.7"/><circle cx="284.4" cy="1537.7" r="13.9" fill="#F05555" fill-opacity="0.7"/><circle cx="283.2" cy="1538.1" r="13.9" fill="#F05555" fill-opacity="0.7"/><circle cx="285.1" cy="1537.2" r="13.9" fill="#F05555" fill-opacity="0.7"/><circle cx="421.4" cy="1537.7" r="13.9" fill="#F05555" fill-opacity="0.7"/><circle cx="536.7" cy="1545.8" r="13.9" fill="#F05555" fill-opacity="0.7"/><circle cx="259.6" cy="1560.3" r="13.9" fill="#F05555" fill-opacity="0.7"/><circle cx="234.7" cy="1591.5" r="13.9" fill="#F05555" fill-opacity="0.7"/><circle cx="246.9" cy="1605.8" r="13.9" fill="#F05555" fill-opacity="0.7"/><circle cx="298.9" cy="1591.5" r="13.9" fill="#F05555" fill-opacity="0.7"/><circle cx="398.1" cy="1591.5" r="13.9" fill="#F05555" fill-opacity="0.7"/><circle cx="449.6" cy="1613.9" r="13.9" fill="#F05555" fill-opacity="0.7"/><circle cx="536.7" cy="1608.2" r="13.9" fill="#F05555" fill-opacity="0.7"/><circle cx="284.4" cy="1645.1" r="13.9" fill="#F05555" fill-opacity="0.7"/><circle cx="145.7" cy="1696.7" r="13.9" fill="#F05555" fill-opacity="0.7"/><circle cx="234.7" cy="1715.6" r="13.9" fill="#F05555" fill-opacity="0.7"/><circle cx="586.9" cy="1525.6" r="13.9" fill="#F05555" fill-opacity="0.7"/><circle cx="635.9" cy="1507.2" r="13.9" fill="#F05555" fill-opacity="0.7"/><circle cx="586.9" cy="1608.2" r="13.9" fill="#F05555" fill-opacity="0.7"/><circle cx="443.8" cy="1591.5" r="13.9" fill="#1F77B4" fill-opacity="0.82"/><circle cx="435.8" cy="1428.1" r="13.9" fill="#1F77B4" fill-opacity="0.82"/><circle cx="553.2" cy="1372.7" r="13.9" fill="#1F77B4" fill-opacity="0.82"/><circle cx="509.7" cy="1430.5" r="13.9" fill="#1F77B4" fill-opacity="0.82"/><circle cx="373.4" cy="1349.6" r="13.9" fill="#1F77B4" fill-opacity="0.82"/><circle cx="747.5" cy="1465.1" r="13.9" fill="#1F77B4" fill-opacity="0.82"/><circle cx="522.4" cy="1521.0" r="13.9" fill="#1F77B4" fill-opacity="0.82"/><circle cx="445.0" cy="1386.5" r="13.9" fill="#1F77B4" fill-opacity="0.82"/><circle cx="475.0" cy="1455.9" r="13.9" fill="#1F77B4" fill-opacity="0.82"/><circle cx="597.3" cy="1415.4" r="13.9" fill="#1F77B4" fill-opacity="0.82"/><circle cx="398.8" cy="1399.3" r="13.9" fill="#1F77B4" fill-opacity="0.82"/><circle cx="294.8" cy="1495.2" r="13.9" fill="#1F77B4" fill-opacity="0.82"/><circle cx="260.1" cy="1499.8" r="13.9" fill="#1F77B4" fill-opacity="0.82"/><circle cx="379.8" cy="1616.2" r="13.9" fill="#1F77B4" fill-opacity="0.82"/><circle cx="358.3" cy="1254.8" r="13.9" fill="#1F77B4" fill-opacity="0.82"/><circle cx="635.9" cy="1705.2" r="13.9" fill="#1F77B4" fill-opacity="0.82"/><circle cx="582.2" cy="1461.2" r="13.9" fill="#1F77B4" fill-opacity="0.82"/><circle cx="158.4" cy="1320.7" r="13.9" fill="#1F77B4" fill-opacity="0.82"/><circle cx="172.3" cy="1444.3" r="13.9" fill="#1F77B4" fill-opacity="0.82"/><circle cx="195.4" cy="1395.8" r="13.9" fill="#1F77B4" fill-opacity="0.82"/><circle cx="426.5" cy="1287.6" r="13.9" fill="#1F77B4" fill-opacity="0.82"/><circle cx="512.0" cy="1406.2" r="13.9" fill="#1F77B4" fill-opacity="0.82"/><circle cx="851.0" cy="1485.9" r="13.9" fill="#1F77B4" fill-opacity="0.82"/><circle cx="269.4" cy="1509.9" r="13.9" fill="#1F77B4" fill-opacity="0.82"/><circle cx="248.6" cy="1507.6" r="13.9" fill="#1F77B4" fill-opacity="0.82"/><circle cx="454.2" cy="1469.7" r="13.9" fill="#1F77B4" fill-opacity="0.82"/><circle cx="260.1" cy="1467.4" r="13.9" fill="#1F77B4" fill-opacity="0.82"/><circle cx="271.7" cy="1608.2" r="13.9" fill="#1F77B4" fill-opacity="0.82"/><circle cx="525.4" cy="1314.4" r="13.9" fill="#1F77B4" fill-opacity="0.82"/><circle cx="457.7" cy="1305.7" r="13.9" fill="#1F77B4" fill-opacity="0.82"/><circle cx="464.2" cy="1815.0" r="13.9" fill="#1F77B4" fill-opacity="0.82"/><circle cx="260.1" cy="1377.3" r="13.9" fill="#1F77B4" fill-opacity="0.82"/><circle cx="156.1" cy="1356.5" r="13.9" fill="#1F77B4" fill-opacity="0.82"/><circle cx="298.2" cy="1331.1" r="13.9" fill="#1F77B4" fill-opacity="0.82"/><circle cx="426.5" cy="1492.9" r="13.9" fill="#1F77B4" fill-opacity="0.82"/><circle cx="861.2" cy="1438.5" r="13.9" fill="#1F77B4" fill-opacity="0.82"/><circle cx="716.7" cy="1550.4" r="13.9" fill="#1F77B4" fill-opacity="0.82"/><circle cx="633.6" cy="1469.7" r="13.9" fill="#1F77B4" fill-opacity="0.82"/><circle cx="334.1" cy="1591.5" r="13.9" fill="#1F77B4" fill-opacity="0.82"/><circle cx="133.0" cy="1430.5" r="13.9" fill="#1F77B4" fill-opacity="0.82"/><circle cx="334.1" cy="1435.1" r="13.9" fill="#1F77B4" fill-opacity="0.82"/><circle cx="308.6" cy="1469.7" r="13.9" fill="#1F77B4" fill-opacity="0.82"/><circle cx="211.6" cy="1368.1" r="13.9" fill="#1F77B4" fill-opacity="0.82"/>
<path d="M133.3,1063.4 H1013.3 V1944.0 H122.80000000000001" fill="none" stroke="#262626" stroke-width="3.6"/>
<line x1="133.3" y1="1061.6000000000001" x2="133.3" y2="1945.8" stroke="#262626" stroke-width="3.6"/>
<line x1="133.3" y1="1944.00" x2="122.80000000000001" y2="1944.00" stroke="#262626" stroke-width="3.4"/><line x1="133.3" y1="1890.98" x2="127.00000000000001" y2="1890.98" stroke="#262626" stroke-width="3.0"/><line x1="133.3" y1="1859.97" x2="127.00000000000001" y2="1859.97" stroke="#262626" stroke-width="3.0"/><line x1="133.3" y1="1837.97" x2="127.00000000000001" y2="1837.97" stroke="#262626" stroke-width="3.0"/><line x1="133.3" y1="1820.90" x2="127.00000000000001" y2="1820.90" stroke="#262626" stroke-width="3.0"/><line x1="133.3" y1="1806.95" x2="127.00000000000001" y2="1806.95" stroke="#262626" stroke-width="3.0"/><line x1="133.3" y1="1795.16" x2="127.00000000000001" y2="1795.16" stroke="#262626" stroke-width="3.0"/><line x1="133.3" y1="1784.95" x2="127.00000000000001" y2="1784.95" stroke="#262626" stroke-width="3.0"/><line x1="133.3" y1="1775.94" x2="127.00000000000001" y2="1775.94" stroke="#262626" stroke-width="3.0"/><line x1="133.3" y1="1767.88" x2="122.80000000000001" y2="1767.88" stroke="#262626" stroke-width="3.4"/><line x1="133.3" y1="1714.86" x2="127.00000000000001" y2="1714.86" stroke="#262626" stroke-width="3.0"/><line x1="133.3" y1="1683.85" x2="127.00000000000001" y2="1683.85" stroke="#262626" stroke-width="3.0"/><line x1="133.3" y1="1661.85" x2="127.00000000000001" y2="1661.85" stroke="#262626" stroke-width="3.0"/><line x1="133.3" y1="1644.78" x2="127.00000000000001" y2="1644.78" stroke="#262626" stroke-width="3.0"/><line x1="133.3" y1="1630.83" x2="127.00000000000001" y2="1630.83" stroke="#262626" stroke-width="3.0"/><line x1="133.3" y1="1619.04" x2="127.00000000000001" y2="1619.04" stroke="#262626" stroke-width="3.0"/><line x1="133.3" y1="1608.83" x2="127.00000000000001" y2="1608.83" stroke="#262626" stroke-width="3.0"/><line x1="133.3" y1="1599.82" x2="127.00000000000001" y2="1599.82" stroke="#262626" stroke-width="3.0"/><line x1="133.3" y1="1591.76" x2="122.80000000000001" y2="1591.76" stroke="#262626" stroke-width="3.4"/><line x1="133.3" y1="1538.74" x2="127.00000000000001" y2="1538.74" stroke="#262626" stroke-width="3.0"/><line x1="133.3" y1="1507.73" x2="127.00000000000001" y2="1507.73" stroke="#262626" stroke-width="3.0"/><line x1="133.3" y1="1485.73" x2="127.00000000000001" y2="1485.73" stroke="#262626" stroke-width="3.0"/><line x1="133.3" y1="1468.66" x2="127.00000000000001" y2="1468.66" stroke="#262626" stroke-width="3.0"/><line x1="133.3" y1="1454.71" x2="127.00000000000001" y2="1454.71" stroke="#262626" stroke-width="3.0"/><line x1="133.3" y1="1442.92" x2="127.00000000000001" y2="1442.92" stroke="#262626" stroke-width="3.0"/><line x1="133.3" y1="1432.71" x2="127.00000000000001" y2="1432.71" stroke="#262626" stroke-width="3.0"/><line x1="133.3" y1="1423.70" x2="127.00000000000001" y2="1423.70" stroke="#262626" stroke-width="3.0"/><line x1="133.3" y1="1415.64" x2="122.80000000000001" y2="1415.64" stroke="#262626" stroke-width="3.4"/><line x1="133.3" y1="1362.62" x2="127.00000000000001" y2="1362.62" stroke="#262626" stroke-width="3.0"/><line x1="133.3" y1="1331.61" x2="127.00000000000001" y2="1331.61" stroke="#262626" stroke-width="3.0"/><line x1="133.3" y1="1309.61" x2="127.00000000000001" y2="1309.61" stroke="#262626" stroke-width="3.0"/><line x1="133.3" y1="1292.54" x2="127.00000000000001" y2="1292.54" stroke="#262626" stroke-width="3.0"/><line x1="133.3" y1="1278.59" x2="127.00000000000001" y2="1278.59" stroke="#262626" stroke-width="3.0"/><line x1="133.3" y1="1266.80" x2="127.00000000000001" y2="1266.80" stroke="#262626" stroke-width="3.0"/><line x1="133.3" y1="1256.59" x2="127.00000000000001" y2="1256.59" stroke="#262626" stroke-width="3.0"/><line x1="133.3" y1="1247.58" x2="127.00000000000001" y2="1247.58" stroke="#262626" stroke-width="3.0"/><line x1="133.3" y1="1239.52" x2="122.80000000000001" y2="1239.52" stroke="#262626" stroke-width="3.4"/><line x1="133.3" y1="1186.50" x2="127.00000000000001" y2="1186.50" stroke="#262626" stroke-width="3.0"/><line x1="133.3" y1="1155.49" x2="127.00000000000001" y2="1155.49" stroke="#262626" stroke-width="3.0"/><line x1="133.3" y1="1133.49" x2="127.00000000000001" y2="1133.49" stroke="#262626" stroke-width="3.0"/><line x1="133.3" y1="1116.42" x2="127.00000000000001" y2="1116.42" stroke="#262626" stroke-width="3.0"/><line x1="133.3" y1="1102.47" x2="127.00000000000001" y2="1102.47" stroke="#262626" stroke-width="3.0"/><line x1="133.3" y1="1090.68" x2="127.00000000000001" y2="1090.68" stroke="#262626" stroke-width="3.0"/><line x1="133.3" y1="1080.47" x2="127.00000000000001" y2="1080.47" stroke="#262626" stroke-width="3.0"/><line x1="133.3" y1="1071.46" x2="127.00000000000001" y2="1071.46" stroke="#262626" stroke-width="3.0"/><line x1="133.3" y1="1063.40" x2="122.80000000000001" y2="1063.40" stroke="#262626" stroke-width="3.4"/>
<text x="96" y="1962.6" font-size="33.5" fill="#262626" text-anchor="end">10</text><text x="97.5" y="1945.1" font-size="24" fill="#262626">0</text>
<text x="96" y="1786.48" font-size="33.5" fill="#262626" text-anchor="end">10</text><text x="97.5" y="1768.98" font-size="24" fill="#262626">1</text>
<text x="96" y="1610.36" font-size="33.5" fill="#262626" text-anchor="end">10</text><text x="97.5" y="1592.86" font-size="24" fill="#262626">2</text>
<text x="96" y="1434.24" font-size="33.5" fill="#262626" text-anchor="end">10</text><text x="97.5" y="1416.74" font-size="24" fill="#262626">3</text>
<text x="96" y="1258.12" font-size="33.5" fill="#262626" text-anchor="end">10</text><text x="97.5" y="1240.62" font-size="24" fill="#262626">4</text>
<text x="96" y="1082.0" font-size="33.5" fill="#262626" text-anchor="end">10</text><text x="97.5" y="1064.5" font-size="24" fill="#262626">5</text>
<line x1="259.0" y1="1944.0" x2="259.0" y2="1954.7" stroke="#262626" stroke-width="3.4"/>
<text x="259.0" y="2003.6" font-size="33.5" fill="#262626" text-anchor="middle">10</text>
<line x1="384.7" y1="1944.0" x2="384.7" y2="1954.7" stroke="#262626" stroke-width="3.4"/>
<text x="384.7" y="2003.6" font-size="33.5" fill="#262626" text-anchor="middle">20</text>
<line x1="510.4" y1="1944.0" x2="510.4" y2="1954.7" stroke="#262626" stroke-width="3.4"/>
<text x="510.4" y="2003.6" font-size="33.5" fill="#262626" text-anchor="middle">30</text>
<line x1="636.1" y1="1944.0" x2="636.1" y2="1954.7" stroke="#262626" stroke-width="3.4"/>
<text x="636.1" y="2003.6" font-size="33.5" fill="#262626" text-anchor="middle">40</text>
<line x1="761.8" y1="1944.0" x2="761.8" y2="1954.7" stroke="#262626" stroke-width="3.4"/>
<text x="761.8" y="2003.6" font-size="33.5" fill="#262626" text-anchor="middle">50</text>
<line x1="887.5" y1="1944.0" x2="887.5" y2="1954.7" stroke="#262626" stroke-width="3.4"/>
<text x="887.5" y="2003.6" font-size="33.5" fill="#262626" text-anchor="middle">60</text>
<line x1="1013.2" y1="1944.0" x2="1013.2" y2="1954.7" stroke="#262626" stroke-width="3.4"/>
<text x="1013.2" y="2003.6" font-size="33.5" fill="#262626" text-anchor="middle">70</text>
<text x="572.8" y="2056.5" font-size="41" fill="#262626" text-anchor="middle">Average age (year)</text>
<text transform="translate(35.5,1503.6) rotate(-90)" font-size="41" fill="#262626" text-anchor="middle">Crude steel capcaity (kt)</text>
<text x="165" y="1130" font-size="61" fill="#000">b</text>
<g font-size="41" font-style="italic" fill="#000"><text x="566.6" y="1787.5">n=55</text><text x="566.6" y="1845">0.8% of capacity</text><text x="566.6" y="1902.8">31.0 years in average</text></g>
</g>
<g id="panel-c">
<defs><clipPath id="cclip"><rect x="1220.0" y="1063.4" width="879.9000000000001" height="885.1999999999998"/></clipPath></defs>
<polygon points="1267.9,1948.6 2099.9,1111.6 2099.9,1948.6" fill="#F2F2F2"/><polygon points="1286.5,1948.6 2099.9,1130.3 2099.9,1948.6" fill="#E6E6E6"/><polygon points="1315.6,1948.6 2099.9,1159.6 2099.9,1948.6" fill="#D6D6D6"/>
<g clip-path="url(#cclip)"><line x1="1315.6" y1="1948.6" x2="2135.1" y2="1124.2" stroke="#000" stroke-width="4"/>
<line x1="1202.4" y1="1954.6" x2="2099.9" y2="1051.7" stroke="#F59E1B" stroke-width="4"/></g>
<circle cx="1806.1" cy="1273.8" r="13.9" fill="#1F77B4" fill-opacity="0.82"/><circle cx="1717.3" cy="1329.2" r="13.9" fill="#1F77B4" fill-opacity="0.82"/><circle cx="1767.5" cy="1345.0" r="13.9" fill="#1F77B4" fill-opacity="0.82"/><circle cx="1789.4" cy="1361.1" r="13.9" fill="#1F77B4" fill-opacity="0.82"/><circle cx="1701.6" cy="1398.1" r="13.9" fill="#1F77B4" fill-opacity="0.82"/><circle cx="1672.7" cy="1412.0" r="13.9" fill="#1F77B4" fill-opacity="0.82"/><circle cx="1692.4" cy="1432.8" r="13.9" fill="#1F77B4" fill-opacity="0.82"/><circle cx="1738.6" cy="1425.8" r="13.9" fill="#1F77B4" fill-opacity="0.82"/><circle cx="1906.1" cy="1406.9" r="13.9" fill="#1F77B4" fill-opacity="0.82"/><circle cx="1805.6" cy="1428.1" r="13.9" fill="#1F77B4" fill-opacity="0.82"/><circle cx="1779.0" cy="1451.3" r="13.9" fill="#1F77B4" fill-opacity="0.82"/><circle cx="1727.0" cy="1455.9" r="13.9" fill="#1F77B4" fill-opacity="0.82"/><circle cx="1710.8" cy="1460.5" r="13.9" fill="#1F77B4" fill-opacity="0.82"/><circle cx="1673.9" cy="1455.9" r="13.9" fill="#1F77B4" fill-opacity="0.82"/><circle cx="1803.3" cy="1460.5" r="13.9" fill="#1F77B4" fill-opacity="0.82"/><circle cx="1687.7" cy="1495.2" r="13.9" fill="#1F77B4" fill-opacity="0.82"/><circle cx="1558.1" cy="1453.6" r="13.9" fill="#1F77B4" fill-opacity="0.82"/><circle cx="1602.5" cy="1465.6" r="13.9" fill="#1F77B4" fill-opacity="0.82"/><circle cx="1633.7" cy="1452.9" r="13.9" fill="#1F77B4" fill-opacity="0.82"/><circle cx="1647.5" cy="1453.6" r="13.9" fill="#1F77B4" fill-opacity="0.82"/><circle cx="1636.0" cy="1488.7" r="13.9" fill="#1F77B4" fill-opacity="0.82"/><circle cx="1454.1" cy="1513.4" r="13.9" fill="#1F77B4" fill-opacity="0.82"/><circle cx="1504.7" cy="1515.3" r="13.9" fill="#1F77B4" fill-opacity="0.82"/><circle cx="1602.5" cy="1532.6" r="13.9" fill="#1F77B4" fill-opacity="0.82"/><circle cx="1445.8" cy="1562.6" r="13.9" fill="#1F77B4" fill-opacity="0.82"/><circle cx="1581.7" cy="1566.6" r="13.9" fill="#1F77B4" fill-opacity="0.82"/><circle cx="1492.2" cy="1604.9" r="13.9" fill="#1F77B4" fill-opacity="0.82"/><circle cx="1622.1" cy="1600.8" r="13.9" fill="#1F77B4" fill-opacity="0.82"/><circle cx="1536.6" cy="1635.4" r="13.9" fill="#1F77B4" fill-opacity="0.82"/><circle cx="1540.8" cy="1665.5" r="13.9" fill="#1F77B4" fill-opacity="0.82"/><circle cx="1659.1" cy="1421.7" r="13.9" fill="#1F77B4" fill-opacity="0.82"/><circle cx="1475.1" cy="1810.8" r="13.9" fill="#1F77B4" fill-opacity="0.82"/><circle cx="1759.4" cy="1530.7" r="13.9" fill="#1F77B4" fill-opacity="0.82"/><circle cx="1676.2" cy="1603.5" r="13.9" fill="#1F77B4" fill-opacity="0.82"/><circle cx="1874.5" cy="1782.6" r="13.9" fill="#1F77B4" fill-opacity="0.82"/><circle cx="1699.3" cy="1533.0" r="13.9" fill="#1F77B4" fill-opacity="0.82"/><circle cx="1657.7" cy="1593.1" r="13.9" fill="#1F77B4" fill-opacity="0.82"/><circle cx="1960.6" cy="1235.0" r="13.9" fill="#F05555" fill-opacity="0.7"/><circle cx="1878.1" cy="1332.9" r="13.9" fill="#F05555" fill-opacity="0.7"/><circle cx="1817.0" cy="1405.7" r="13.9" fill="#F05555" fill-opacity="0.7"/><circle cx="1929.4" cy="1244.8" r="13.9" fill="#F05555" fill-opacity="0.7"/><circle cx="1936.7" cy="1240.4" r="13.9" fill="#F05555" fill-opacity="0.7"/><circle cx="1877.1" cy="1355.0" r="13.9" fill="#F05555" fill-opacity="0.7"/><circle cx="1799.8" cy="1411.0" r="13.9" fill="#F05555" fill-opacity="0.7"/><circle cx="1822.1" cy="1339.1" r="13.9" fill="#F05555" fill-opacity="0.7"/><circle cx="1837.1" cy="1333.9" r="13.9" fill="#F05555" fill-opacity="0.7"/><circle cx="1797.9" cy="1371.6" r="13.9" fill="#F05555" fill-opacity="0.7"/><circle cx="1873.7" cy="1375.8" r="13.9" fill="#F05555" fill-opacity="0.7"/><circle cx="1831.0" cy="1407.4" r="13.9" fill="#F05555" fill-opacity="0.7"/><circle cx="1857.8" cy="1300.6" r="13.9" fill="#F05555" fill-opacity="0.7"/><circle cx="1946.2" cy="1238.7" r="13.9" fill="#F05555" fill-opacity="0.7"/><circle cx="1786.9" cy="1390.5" r="13.9" fill="#F05555" fill-opacity="0.7"/><circle cx="1865.3" cy="1366.0" r="13.9" fill="#F05555" fill-opacity="0.7"/><circle cx="1835.9" cy="1378.0" r="13.9" fill="#F05555" fill-opacity="0.7"/><circle cx="1836.4" cy="1360.7" r="13.9" fill="#F05555" fill-opacity="0.7"/><circle cx="1820.4" cy="1411.9" r="13.9" fill="#F05555" fill-opacity="0.7"/><circle cx="1902.6" cy="1334.4" r="13.9" fill="#F05555" fill-opacity="0.7"/><circle cx="1810.4" cy="1353.7" r="13.9" fill="#F05555" fill-opacity="0.7"/><circle cx="1859.4" cy="1384.5" r="13.9" fill="#F05555" fill-opacity="0.7"/><circle cx="1832.8" cy="1347.8" r="13.9" fill="#F05555" fill-opacity="0.7"/><circle cx="1833.3" cy="1390.1" r="13.9" fill="#F05555" fill-opacity="0.7"/><circle cx="1872.2" cy="1323.5" r="13.9" fill="#F05555" fill-opacity="0.7"/><circle cx="1790.8" cy="1388.8" r="13.9" fill="#F05555" fill-opacity="0.7"/><circle cx="1921.2" cy="1247.4" r="13.9" fill="#F05555" fill-opacity="0.7"/><circle cx="1906.3" cy="1300.4" r="13.9" fill="#F05555" fill-opacity="0.7"/><circle cx="1854.4" cy="1349.1" r="13.9" fill="#F05555" fill-opacity="0.7"/><circle cx="1803.1" cy="1356.8" r="13.9" fill="#F05555" fill-opacity="0.7"/><circle cx="1893.8" cy="1336.4" r="13.9" fill="#F05555" fill-opacity="0.7"/><circle cx="1807.4" cy="1402.9" r="13.9" fill="#F05555" fill-opacity="0.7"/><circle cx="1779.0" cy="1387.7" r="13.9" fill="#F05555" fill-opacity="0.7"/><circle cx="1878.4" cy="1283.1" r="13.9" fill="#F05555" fill-opacity="0.7"/><circle cx="1890.2" cy="1330.8" r="13.9" fill="#F05555" fill-opacity="0.7"/><circle cx="1893.1" cy="1285.6" r="13.9" fill="#F05555" fill-opacity="0.7"/><circle cx="1815.7" cy="1409.8" r="13.9" fill="#F05555" fill-opacity="0.7"/><circle cx="1933.1" cy="1263.1" r="13.9" fill="#F05555" fill-opacity="0.7"/><circle cx="1893.0" cy="1311.8" r="13.9" fill="#F05555" fill-opacity="0.7"/><circle cx="1901.5" cy="1339.3" r="13.9" fill="#F05555" fill-opacity="0.7"/><circle cx="1928.2" cy="1274.8" r="13.9" fill="#F05555" fill-opacity="0.7"/><circle cx="1875.7" cy="1282.4" r="13.9" fill="#F05555" fill-opacity="0.7"/><circle cx="1851.3" cy="1333.3" r="13.9" fill="#F05555" fill-opacity="0.7"/><circle cx="1949.3" cy="1252.7" r="13.9" fill="#F05555" fill-opacity="0.7"/><circle cx="1821.0" cy="1387.4" r="13.9" fill="#F05555" fill-opacity="0.7"/><circle cx="1767.7" cy="1388.7" r="13.9" fill="#F05555" fill-opacity="0.7"/><circle cx="1913.0" cy="1302.9" r="13.9" fill="#F05555" fill-opacity="0.7"/><circle cx="1818.6" cy="1376.9" r="13.9" fill="#F05555" fill-opacity="0.7"/><circle cx="1962.9" cy="1241.2" r="13.9" fill="#F05555" fill-opacity="0.7"/><circle cx="1863.0" cy="1327.7" r="13.9" fill="#F05555" fill-opacity="0.7"/><circle cx="1805.6" cy="1385.2" r="13.9" fill="#F05555" fill-opacity="0.7"/><circle cx="1947.0" cy="1257.5" r="13.9" fill="#F05555" fill-opacity="0.7"/><circle cx="1820.0" cy="1406.1" r="13.9" fill="#F05555" fill-opacity="0.7"/><circle cx="1955.5" cy="1239.5" r="13.9" fill="#F05555" fill-opacity="0.7"/><circle cx="1891.2" cy="1315.0" r="13.9" fill="#F05555" fill-opacity="0.7"/><circle cx="1880.7" cy="1342.9" r="13.9" fill="#F05555" fill-opacity="0.7"/><circle cx="1811.2" cy="1370.5" r="13.9" fill="#F05555" fill-opacity="0.7"/><circle cx="1922.7" cy="1249.0" r="13.9" fill="#F05555" fill-opacity="0.7"/><circle cx="1827.2" cy="1380.3" r="13.9" fill="#F05555" fill-opacity="0.7"/><circle cx="1942.1" cy="1240.6" r="13.9" fill="#F05555" fill-opacity="0.7"/><circle cx="1896.8" cy="1286.2" r="13.9" fill="#F05555" fill-opacity="0.7"/><circle cx="1894.3" cy="1285.0" r="13.9" fill="#F05555" fill-opacity="0.7"/><circle cx="1889.4" cy="1332.8" r="13.9" fill="#F05555" fill-opacity="0.7"/><circle cx="1923.5" cy="1295.0" r="13.9" fill="#F05555" fill-opacity="0.7"/><circle cx="1895.6" cy="1302.0" r="13.9" fill="#F05555" fill-opacity="0.7"/><circle cx="1955.9" cy="1243.3" r="13.9" fill="#F05555" fill-opacity="0.7"/><circle cx="1819.7" cy="1354.3" r="13.9" fill="#F05555" fill-opacity="0.7"/><circle cx="1901.7" cy="1302.5" r="13.9" fill="#F05555" fill-opacity="0.7"/><circle cx="1872.4" cy="1285.3" r="13.9" fill="#F05555" fill-opacity="0.7"/><circle cx="1845.4" cy="1323.9" r="13.9" fill="#F05555" fill-opacity="0.7"/><circle cx="1950.4" cy="1256.5" r="13.9" fill="#F05555" fill-opacity="0.7"/><circle cx="1864.9" cy="1332.4" r="13.9" fill="#F05555" fill-opacity="0.7"/><circle cx="1839.5" cy="1343.8" r="13.9" fill="#F05555" fill-opacity="0.7"/><circle cx="1943.4" cy="1258.5" r="13.9" fill="#F05555" fill-opacity="0.7"/><circle cx="1772.7" cy="1375.1" r="13.9" fill="#F05555" fill-opacity="0.7"/><circle cx="1941.8" cy="1277.4" r="13.9" fill="#F05555" fill-opacity="0.7"/><circle cx="1851.5" cy="1333.6" r="13.9" fill="#F05555" fill-opacity="0.7"/><circle cx="1854.6" cy="1384.6" r="13.9" fill="#F05555" fill-opacity="0.7"/><circle cx="1814.3" cy="1383.6" r="13.9" fill="#F05555" fill-opacity="0.7"/><circle cx="1813.1" cy="1354.6" r="13.9" fill="#F05555" fill-opacity="0.7"/><circle cx="1916.4" cy="1305.8" r="13.9" fill="#F05555" fill-opacity="0.7"/><circle cx="1852.8" cy="1304.8" r="13.9" fill="#F05555" fill-opacity="0.7"/><circle cx="1882.4" cy="1286.8" r="13.9" fill="#F05555" fill-opacity="0.7"/><circle cx="1926.0" cy="1262.3" r="13.9" fill="#F05555" fill-opacity="0.7"/><circle cx="1960.5" cy="1253.3" r="13.9" fill="#F05555" fill-opacity="0.7"/><circle cx="1936.6" cy="1279.8" r="13.9" fill="#F05555" fill-opacity="0.7"/><circle cx="1870.7" cy="1335.6" r="13.9" fill="#F05555" fill-opacity="0.7"/><circle cx="1862.5" cy="1360.5" r="13.9" fill="#F05555" fill-opacity="0.7"/><circle cx="1836.3" cy="1337.1" r="13.9" fill="#F05555" fill-opacity="0.7"/><circle cx="1909.5" cy="1321.9" r="13.9" fill="#F05555" fill-opacity="0.7"/><circle cx="1917.6" cy="1276.1" r="13.9" fill="#F05555" fill-opacity="0.7"/><circle cx="1959.5" cy="1261.7" r="13.9" fill="#F05555" fill-opacity="0.7"/><circle cx="1911.6" cy="1328.6" r="13.9" fill="#F05555" fill-opacity="0.7"/><circle cx="1917.7" cy="1290.4" r="13.9" fill="#F05555" fill-opacity="0.7"/><circle cx="1957.4" cy="1256.1" r="13.9" fill="#F05555" fill-opacity="0.7"/><circle cx="1929.6" cy="1258.7" r="13.9" fill="#F05555" fill-opacity="0.7"/><circle cx="1920.7" cy="1299.5" r="13.9" fill="#F05555" fill-opacity="0.7"/><circle cx="1850.8" cy="1323.3" r="13.9" fill="#F05555" fill-opacity="0.7"/><circle cx="1817.3" cy="1339.6" r="13.9" fill="#F05555" fill-opacity="0.7"/><circle cx="1882.5" cy="1339.2" r="13.9" fill="#F05555" fill-opacity="0.7"/><circle cx="1889.8" cy="1348.3" r="13.9" fill="#F05555" fill-opacity="0.7"/><circle cx="1826.0" cy="1391.7" r="13.9" fill="#F05555" fill-opacity="0.7"/><circle cx="1805.4" cy="1359.1" r="13.9" fill="#F05555" fill-opacity="0.7"/><circle cx="1878.0" cy="1290.7" r="13.9" fill="#F05555" fill-opacity="0.7"/><circle cx="1839.0" cy="1356.3" r="13.9" fill="#F05555" fill-opacity="0.7"/><circle cx="1867.7" cy="1359.1" r="13.9" fill="#F05555" fill-opacity="0.7"/><circle cx="1807.4" cy="1352.6" r="13.9" fill="#F05555" fill-opacity="0.7"/><circle cx="1929.5" cy="1287.7" r="13.9" fill="#F05555" fill-opacity="0.7"/><circle cx="1854.7" cy="1311.2" r="13.9" fill="#F05555" fill-opacity="0.7"/><circle cx="1843.2" cy="1376.4" r="13.9" fill="#F05555" fill-opacity="0.7"/><circle cx="1852.9" cy="1337.1" r="13.9" fill="#F05555" fill-opacity="0.7"/><circle cx="1847.9" cy="1396.8" r="13.9" fill="#F05555" fill-opacity="0.7"/><circle cx="1786.7" cy="1376.9" r="13.9" fill="#F05555" fill-opacity="0.7"/><circle cx="1807.1" cy="1406.6" r="13.9" fill="#F05555" fill-opacity="0.7"/><circle cx="1814.1" cy="1371.2" r="13.9" fill="#F05555" fill-opacity="0.7"/><circle cx="1838.6" cy="1375.7" r="13.9" fill="#F05555" fill-opacity="0.7"/><circle cx="1901.2" cy="1290.6" r="13.9" fill="#F05555" fill-opacity="0.7"/><circle cx="1863.6" cy="1361.0" r="13.9" fill="#F05555" fill-opacity="0.7"/><circle cx="1849.2" cy="1318.1" r="13.9" fill="#F05555" fill-opacity="0.7"/><circle cx="1838.1" cy="1323.6" r="13.9" fill="#F05555" fill-opacity="0.7"/><circle cx="1856.1" cy="1367.4" r="13.9" fill="#F05555" fill-opacity="0.7"/><circle cx="1874.6" cy="1293.6" r="13.9" fill="#F05555" fill-opacity="0.7"/><circle cx="1866.7" cy="1331.2" r="13.9" fill="#F05555" fill-opacity="0.7"/><circle cx="1816.2" cy="1377.5" r="13.9" fill="#F05555" fill-opacity="0.7"/><circle cx="1923.7" cy="1266.6" r="13.9" fill="#F05555" fill-opacity="0.7"/><circle cx="1842.3" cy="1344.6" r="13.9" fill="#F05555" fill-opacity="0.7"/><circle cx="1959.8" cy="1248.5" r="13.9" fill="#F05555" fill-opacity="0.7"/><circle cx="1858.8" cy="1348.9" r="13.9" fill="#F05555" fill-opacity="0.7"/><circle cx="1947.4" cy="1236.5" r="13.9" fill="#F05555" fill-opacity="0.7"/><circle cx="1926.8" cy="1265.9" r="13.9" fill="#F05555" fill-opacity="0.7"/><circle cx="1813.3" cy="1412.2" r="13.9" fill="#F05555" fill-opacity="0.7"/><circle cx="1850.7" cy="1343.1" r="13.9" fill="#F05555" fill-opacity="0.7"/><circle cx="1911.3" cy="1306.0" r="13.9" fill="#F05555" fill-opacity="0.7"/><circle cx="1866.6" cy="1324.9" r="13.9" fill="#F05555" fill-opacity="0.7"/><circle cx="1905.5" cy="1300.1" r="13.9" fill="#F05555" fill-opacity="0.7"/><circle cx="1958.1" cy="1267.2" r="13.9" fill="#F05555" fill-opacity="0.7"/><circle cx="1897.9" cy="1347.1" r="13.9" fill="#F05555" fill-opacity="0.7"/><circle cx="1930.4" cy="1282.4" r="13.9" fill="#F05555" fill-opacity="0.7"/><circle cx="1841.2" cy="1346.2" r="13.9" fill="#F05555" fill-opacity="0.7"/><circle cx="1919.8" cy="1266.3" r="13.9" fill="#F05555" fill-opacity="0.7"/><circle cx="1918.1" cy="1298.2" r="13.9" fill="#F05555" fill-opacity="0.7"/><circle cx="1953.4" cy="1224.2" r="13.9" fill="#F05555" fill-opacity="0.7"/><circle cx="1840.7" cy="1345.7" r="13.9" fill="#F05555" fill-opacity="0.7"/><circle cx="1885.1" cy="1317.3" r="13.9" fill="#F05555" fill-opacity="0.7"/><circle cx="1818.1" cy="1369.1" r="13.9" fill="#F05555" fill-opacity="0.7"/><circle cx="1780.7" cy="1373.4" r="13.9" fill="#F05555" fill-opacity="0.7"/><circle cx="1830.2" cy="1336.7" r="13.9" fill="#F05555" fill-opacity="0.7"/><circle cx="1900.1" cy="1314.8" r="13.9" fill="#F05555" fill-opacity="0.7"/><circle cx="1955.1" cy="1239.1" r="13.9" fill="#F05555" fill-opacity="0.7"/><circle cx="1849.7" cy="1389.0" r="13.9" fill="#F05555" fill-opacity="0.7"/><circle cx="1908.6" cy="1283.2" r="13.9" fill="#F05555" fill-opacity="0.7"/><circle cx="1921.6" cy="1318.3" r="13.9" fill="#F05555" fill-opacity="0.7"/><circle cx="1936.4" cy="1244.8" r="13.9" fill="#F05555" fill-opacity="0.7"/><circle cx="1876.1" cy="1312.7" r="13.9" fill="#F05555" fill-opacity="0.7"/><circle cx="1807.5" cy="1387.2" r="13.9" fill="#F05555" fill-opacity="0.7"/><circle cx="1902.9" cy="1292.7" r="13.9" fill="#F05555" fill-opacity="0.7"/><circle cx="1904.2" cy="1334.5" r="13.9" fill="#F05555" fill-opacity="0.7"/><circle cx="1922.4" cy="1290.2" r="13.9" fill="#F05555" fill-opacity="0.7"/><circle cx="1855.2" cy="1356.8" r="13.9" fill="#F05555" fill-opacity="0.7"/><circle cx="1946.7" cy="1242.3" r="13.9" fill="#F05555" fill-opacity="0.7"/><circle cx="1858.3" cy="1304.1" r="13.9" fill="#F05555" fill-opacity="0.7"/><circle cx="1821.8" cy="1365.9" r="13.9" fill="#F05555" fill-opacity="0.7"/><circle cx="1911.7" cy="1257.1" r="13.9" fill="#F05555" fill-opacity="0.7"/><circle cx="1845.5" cy="1306.8" r="13.9" fill="#F05555" fill-opacity="0.7"/><circle cx="1857.8" cy="1374.1" r="13.9" fill="#F05555" fill-opacity="0.7"/><circle cx="1935.7" cy="1299.4" r="13.9" fill="#F05555" fill-opacity="0.7"/><circle cx="1945.2" cy="1280.3" r="13.9" fill="#F05555" fill-opacity="0.7"/><circle cx="1927.4" cy="1312.5" r="13.9" fill="#F05555" fill-opacity="0.7"/><circle cx="1851.0" cy="1304.5" r="13.9" fill="#F05555" fill-opacity="0.7"/><circle cx="1942.6" cy="1259.7" r="13.9" fill="#F05555" fill-opacity="0.7"/><circle cx="1820.5" cy="1384.5" r="13.9" fill="#F05555" fill-opacity="0.7"/><circle cx="1803.2" cy="1352.3" r="13.9" fill="#F05555" fill-opacity="0.7"/><circle cx="1921.2" cy="1297.5" r="13.9" fill="#F05555" fill-opacity="0.7"/><circle cx="1826.6" cy="1393.0" r="13.9" fill="#F05555" fill-opacity="0.7"/><circle cx="1932.4" cy="1276.7" r="13.9" fill="#F05555" fill-opacity="0.7"/><circle cx="1871.0" cy="1310.7" r="13.9" fill="#F05555" fill-opacity="0.7"/><circle cx="1910.0" cy="1309.1" r="13.9" fill="#F05555" fill-opacity="0.7"/><circle cx="1775.2" cy="1394.2" r="13.9" fill="#F05555" fill-opacity="0.7"/><circle cx="1828.3" cy="1356.8" r="13.9" fill="#F05555" fill-opacity="0.7"/><circle cx="1857.1" cy="1396.3" r="13.9" fill="#F05555" fill-opacity="0.7"/><circle cx="1832.6" cy="1318.7" r="13.9" fill="#F05555" fill-opacity="0.7"/><circle cx="1856.8" cy="1350.6" r="13.9" fill="#F05555" fill-opacity="0.7"/><circle cx="1894.6" cy="1297.1" r="13.9" fill="#F05555" fill-opacity="0.7"/><circle cx="1853.9" cy="1397.8" r="13.9" fill="#F05555" fill-opacity="0.7"/><circle cx="1891.9" cy="1336.5" r="13.9" fill="#F05555" fill-opacity="0.7"/><circle cx="1961.6" cy="1225.3" r="13.9" fill="#F05555" fill-opacity="0.7"/><circle cx="1818.2" cy="1350.5" r="13.9" fill="#F05555" fill-opacity="0.7"/><circle cx="1912.7" cy="1319.4" r="13.9" fill="#F05555" fill-opacity="0.7"/><circle cx="1826.3" cy="1343.8" r="13.9" fill="#F05555" fill-opacity="0.7"/><circle cx="1778.2" cy="1399.1" r="13.9" fill="#F05555" fill-opacity="0.7"/><circle cx="1838.1" cy="1377.5" r="13.9" fill="#F05555" fill-opacity="0.7"/><circle cx="1842.6" cy="1393.1" r="13.9" fill="#F05555" fill-opacity="0.7"/><circle cx="1811.5" cy="1342.6" r="13.9" fill="#F05555" fill-opacity="0.7"/><circle cx="1853.5" cy="1341.4" r="13.9" fill="#F05555" fill-opacity="0.7"/><circle cx="1904.7" cy="1262.7" r="13.9" fill="#F05555" fill-opacity="0.7"/><circle cx="1867.8" cy="1334.4" r="13.9" fill="#F05555" fill-opacity="0.7"/><circle cx="1932.4" cy="1276.1" r="13.9" fill="#F05555" fill-opacity="0.7"/><circle cx="1830.7" cy="1341.0" r="13.9" fill="#F05555" fill-opacity="0.7"/><circle cx="1790.0" cy="1409.5" r="13.9" fill="#F05555" fill-opacity="0.7"/><circle cx="1933.3" cy="1265.1" r="13.9" fill="#F05555" fill-opacity="0.7"/><circle cx="1918.8" cy="1315.3" r="13.9" fill="#F05555" fill-opacity="0.7"/><circle cx="1841.0" cy="1332.8" r="13.9" fill="#F05555" fill-opacity="0.7"/><circle cx="1889.3" cy="1279.4" r="13.9" fill="#F05555" fill-opacity="0.7"/><circle cx="1935.2" cy="1273.7" r="13.9" fill="#F05555" fill-opacity="0.7"/><circle cx="1906.0" cy="1335.2" r="13.9" fill="#F05555" fill-opacity="0.7"/><circle cx="1817.6" cy="1366.3" r="13.9" fill="#F05555" fill-opacity="0.7"/><circle cx="1800.2" cy="1406.8" r="13.9" fill="#F05555" fill-opacity="0.7"/><circle cx="1860.1" cy="1326.8" r="13.9" fill="#F05555" fill-opacity="0.7"/><circle cx="1822.3" cy="1329.9" r="13.9" fill="#F05555" fill-opacity="0.7"/><circle cx="1892.4" cy="1350.3" r="13.9" fill="#F05555" fill-opacity="0.7"/><circle cx="1861.2" cy="1338.7" r="13.9" fill="#F05555" fill-opacity="0.7"/><circle cx="1855.5" cy="1330.0" r="13.9" fill="#F05555" fill-opacity="0.7"/><circle cx="1962.7" cy="1227.8" r="13.9" fill="#F05555" fill-opacity="0.7"/><circle cx="1833.7" cy="1358.7" r="13.9" fill="#F05555" fill-opacity="0.7"/><circle cx="1862.7" cy="1325.2" r="13.9" fill="#F05555" fill-opacity="0.7"/><circle cx="1869.2" cy="1351.7" r="13.9" fill="#F05555" fill-opacity="0.7"/><circle cx="1828.9" cy="1356.4" r="13.9" fill="#F05555" fill-opacity="0.7"/><circle cx="1837.4" cy="1342.0" r="13.9" fill="#F05555" fill-opacity="0.7"/><circle cx="1894.4" cy="1353.4" r="13.9" fill="#F05555" fill-opacity="0.7"/><circle cx="1805.7" cy="1341.5" r="13.9" fill="#F05555" fill-opacity="0.7"/><circle cx="1926.8" cy="1259.1" r="13.9" fill="#F05555" fill-opacity="0.7"/><circle cx="1866.2" cy="1322.3" r="13.9" fill="#F05555" fill-opacity="0.7"/><circle cx="1854.8" cy="1331.3" r="13.9" fill="#F05555" fill-opacity="0.7"/><circle cx="1772.0" cy="1376.2" r="13.9" fill="#F05555" fill-opacity="0.7"/><circle cx="1903.1" cy="1325.7" r="13.9" fill="#F05555" fill-opacity="0.7"/><circle cx="1894.7" cy="1359.5" r="13.9" fill="#F05555" fill-opacity="0.7"/><circle cx="1943.9" cy="1224.6" r="13.9" fill="#F05555" fill-opacity="0.7"/><circle cx="1851.0" cy="1405.1" r="13.9" fill="#F05555" fill-opacity="0.7"/><circle cx="1829.5" cy="1374.6" r="13.9" fill="#F05555" fill-opacity="0.7"/><circle cx="1875.3" cy="1352.8" r="13.9" fill="#F05555" fill-opacity="0.7"/><circle cx="1866.5" cy="1315.8" r="13.9" fill="#F05555" fill-opacity="0.7"/><circle cx="1904.4" cy="1330.4" r="13.9" fill="#F05555" fill-opacity="0.7"/><circle cx="1826.1" cy="1317.1" r="13.9" fill="#F05555" fill-opacity="0.7"/><circle cx="1821.5" cy="1383.5" r="13.9" fill="#F05555" fill-opacity="0.7"/><circle cx="1808.2" cy="1352.8" r="13.9" fill="#F05555" fill-opacity="0.7"/><circle cx="1820.2" cy="1344.6" r="13.9" fill="#F05555" fill-opacity="0.7"/><circle cx="1785.7" cy="1377.9" r="13.9" fill="#F05555" fill-opacity="0.7"/><circle cx="1954.3" cy="1278.4" r="13.9" fill="#F05555" fill-opacity="0.7"/><circle cx="1971.1" cy="1220.2" r="13.9" fill="#F05555" fill-opacity="0.7"/><circle cx="1860.1" cy="1404.2" r="13.9" fill="#F05555" fill-opacity="0.7"/><circle cx="1962.3" cy="1242.7" r="13.9" fill="#F05555" fill-opacity="0.7"/><circle cx="1851.1" cy="1321.6" r="13.9" fill="#F05555" fill-opacity="0.7"/><circle cx="1823.5" cy="1376.2" r="13.9" fill="#F05555" fill-opacity="0.7"/><circle cx="1873.5" cy="1354.1" r="13.9" fill="#F05555" fill-opacity="0.7"/><circle cx="1907.8" cy="1321.7" r="13.9" fill="#F05555" fill-opacity="0.7"/><circle cx="1908.4" cy="1282.6" r="13.9" fill="#F05555" fill-opacity="0.7"/><circle cx="1819.8" cy="1362.5" r="13.9" fill="#F05555" fill-opacity="0.7"/><circle cx="1763.1" cy="1399.9" r="13.9" fill="#F05555" fill-opacity="0.7"/><circle cx="1866.1" cy="1377.6" r="13.9" fill="#F05555" fill-opacity="0.7"/><circle cx="1783.4" cy="1412.4" r="13.9" fill="#F05555" fill-opacity="0.7"/><circle cx="1957.2" cy="1274.1" r="13.9" fill="#F05555" fill-opacity="0.7"/><circle cx="1871.7" cy="1290.2" r="13.9" fill="#F05555" fill-opacity="0.7"/><circle cx="1759.6" cy="1398.1" r="13.9" fill="#F05555" fill-opacity="0.7"/><circle cx="1894.5" cy="1312.1" r="13.9" fill="#F05555" fill-opacity="0.7"/><circle cx="1919.3" cy="1301.9" r="13.9" fill="#F05555" fill-opacity="0.7"/><circle cx="1816.9" cy="1377.0" r="13.9" fill="#F05555" fill-opacity="0.7"/><circle cx="1803.5" cy="1346.8" r="13.9" fill="#F05555" fill-opacity="0.7"/><circle cx="1822.3" cy="1340.0" r="13.9" fill="#F05555" fill-opacity="0.7"/><circle cx="1868.7" cy="1314.6" r="13.9" fill="#F05555" fill-opacity="0.7"/><circle cx="1909.7" cy="1311.5" r="13.9" fill="#F05555" fill-opacity="0.7"/><circle cx="1896.1" cy="1336.2" r="13.9" fill="#F05555" fill-opacity="0.7"/><circle cx="1911.3" cy="1280.8" r="13.9" fill="#F05555" fill-opacity="0.7"/><circle cx="1914.4" cy="1257.5" r="13.9" fill="#F05555" fill-opacity="0.7"/><circle cx="1886.7" cy="1347.8" r="13.9" fill="#F05555" fill-opacity="0.7"/><circle cx="1818.9" cy="1399.9" r="13.9" fill="#F05555" fill-opacity="0.7"/><circle cx="1893.4" cy="1361.9" r="13.9" fill="#F05555" fill-opacity="0.7"/><circle cx="1784.5" cy="1387.9" r="13.9" fill="#F05555" fill-opacity="0.7"/><circle cx="1818.8" cy="1342.3" r="13.9" fill="#F05555" fill-opacity="0.7"/><circle cx="1922.8" cy="1279.4" r="13.9" fill="#F05555" fill-opacity="0.7"/><circle cx="1861.4" cy="1330.4" r="13.9" fill="#F05555" fill-opacity="0.7"/><circle cx="1904.0" cy="1266.6" r="13.9" fill="#F05555" fill-opacity="0.7"/><circle cx="1887.0" cy="1338.2" r="13.9" fill="#F05555" fill-opacity="0.7"/><circle cx="1867.2" cy="1300.6" r="13.9" fill="#F05555" fill-opacity="0.7"/><circle cx="1861.3" cy="1289.9" r="13.9" fill="#F05555" fill-opacity="0.7"/><circle cx="1780.8" cy="1414.1" r="13.9" fill="#F05555" fill-opacity="0.7"/><circle cx="1966.2" cy="1182.0" r="13.9" fill="#F05555" fill-opacity="0.7"/><circle cx="2012.4" cy="1192.9" r="13.9" fill="#F05555" fill-opacity="0.7"/><circle cx="1995.1" cy="1205.1" r="13.9" fill="#F05555" fill-opacity="0.7"/><circle cx="1935.0" cy="1213.2" r="13.9" fill="#F05555" fill-opacity="0.7"/><circle cx="1965.1" cy="1206.3" r="13.9" fill="#F05555" fill-opacity="0.7"/><circle cx="1898.0" cy="1224.8" r="13.9" fill="#F05555" fill-opacity="0.7"/><circle cx="1998.6" cy="1225.9" r="13.9" fill="#F05555" fill-opacity="0.7"/><circle cx="1849.0" cy="1235.2" r="13.9" fill="#F05555" fill-opacity="0.7"/><circle cx="1925.8" cy="1232.9" r="13.9" fill="#F05555" fill-opacity="0.7"/><circle cx="1825.9" cy="1261.1" r="13.9" fill="#F05555" fill-opacity="0.7"/><circle cx="1873.8" cy="1260.6" r="13.9" fill="#F05555" fill-opacity="0.7"/><circle cx="1993.9" cy="1280.2" r="13.9" fill="#F05555" fill-opacity="0.7"/><circle cx="1844.9" cy="1289.5" r="13.9" fill="#F05555" fill-opacity="0.7"/><circle cx="1967.4" cy="1296.4" r="13.9" fill="#F05555" fill-opacity="0.7"/><circle cx="1955.8" cy="1318.4" r="13.9" fill="#F05555" fill-opacity="0.7"/><circle cx="1812.5" cy="1318.4" r="13.9" fill="#F05555" fill-opacity="0.7"/><circle cx="1779.0" cy="1328.8" r="13.9" fill="#F05555" fill-opacity="0.7"/><circle cx="1681.5" cy="1337.6" r="13.9" fill="#F05555" fill-opacity="0.7"/><circle cx="1923.5" cy="1353.0" r="13.9" fill="#F05555" fill-opacity="0.7"/><circle cx="1961.6" cy="1372.2" r="13.9" fill="#F05555" fill-opacity="0.7"/><circle cx="1926.9" cy="1386.5" r="13.9" fill="#F05555" fill-opacity="0.7"/><circle cx="1933.9" cy="1440.9" r="13.9" fill="#F05555" fill-opacity="0.7"/><circle cx="1870.3" cy="1443.2" r="13.9" fill="#F05555" fill-opacity="0.7"/><circle cx="1857.6" cy="1453.6" r="13.9" fill="#F05555" fill-opacity="0.7"/><circle cx="1833.3" cy="1444.3" r="13.9" fill="#F05555" fill-opacity="0.7"/><circle cx="1844.9" cy="1430.5" r="13.9" fill="#F05555" fill-opacity="0.7"/><circle cx="1821.8" cy="1465.1" r="13.9" fill="#F05555" fill-opacity="0.7"/><circle cx="1798.7" cy="1479.0" r="13.9" fill="#F05555" fill-opacity="0.7"/><circle cx="1812.5" cy="1488.2" r="13.9" fill="#F05555" fill-opacity="0.7"/><circle cx="1840.3" cy="1490.5" r="13.9" fill="#F05555" fill-opacity="0.7"/><circle cx="1861.1" cy="1497.5" r="13.9" fill="#F05555" fill-opacity="0.7"/><circle cx="1775.6" cy="1497.5" r="13.9" fill="#F05555" fill-opacity="0.7"/><circle cx="1750.1" cy="1485.9" r="13.9" fill="#F05555" fill-opacity="0.7"/><circle cx="1706.2" cy="1490.5" r="13.9" fill="#F05555" fill-opacity="0.7"/><circle cx="1717.8" cy="1455.9" r="13.9" fill="#F05555" fill-opacity="0.7"/><circle cx="1694.7" cy="1446.6" r="13.9" fill="#F05555" fill-opacity="0.7"/><circle cx="1638.8" cy="1365.7" r="13.9" fill="#F05555" fill-opacity="0.7"/><circle cx="1583.5" cy="1425.6" r="13.9" fill="#F05555" fill-opacity="0.7"/><circle cx="1479.5" cy="1442.9" r="13.9" fill="#F05555" fill-opacity="0.7"/><circle cx="1600.6" cy="1453.6" r="13.9" fill="#F05555" fill-opacity="0.7"/><circle cx="1551.6" cy="1470.7" r="13.9" fill="#F05555" fill-opacity="0.7"/><circle cx="1560.2" cy="1474.8" r="13.9" fill="#F05555" fill-opacity="0.7"/><circle cx="1532.5" cy="1500.9" r="13.9" fill="#F05555" fill-opacity="0.7"/><circle cx="1589.8" cy="1525.7" r="13.9" fill="#F05555" fill-opacity="0.7"/><circle cx="1526.2" cy="1551.8" r="13.9" fill="#F05555" fill-opacity="0.7"/><circle cx="1627.9" cy="1551.8" r="13.9" fill="#F05555" fill-opacity="0.7"/><circle cx="1654.5" cy="1546.5" r="13.9" fill="#F05555" fill-opacity="0.7"/><circle cx="1594.4" cy="1573.0" r="13.9" fill="#F05555" fill-opacity="0.7"/><circle cx="1603.6" cy="1592.7" r="13.9" fill="#F05555" fill-opacity="0.7"/><circle cx="1629.1" cy="1596.1" r="13.9" fill="#F05555" fill-opacity="0.7"/><circle cx="1633.7" cy="1596.1" r="13.9" fill="#F05555" fill-opacity="0.7"/><circle cx="1474.9" cy="1656.2" r="13.9" fill="#F05555" fill-opacity="0.7"/><circle cx="1502.6" cy="1654.4" r="13.9" fill="#F05555" fill-opacity="0.7"/><circle cx="1558.1" cy="1680.0" r="13.9" fill="#F05555" fill-opacity="0.7"/><circle cx="1579.4" cy="1689.3" r="13.9" fill="#F05555" fill-opacity="0.7"/><circle cx="1617.5" cy="1656.9" r="13.9" fill="#F05555" fill-opacity="0.7"/><circle cx="1654.5" cy="1665.5" r="13.9" fill="#F05555" fill-opacity="0.7"/><circle cx="1454.1" cy="1696.7" r="13.9" fill="#F05555" fill-opacity="0.7"/><circle cx="1654.5" cy="1444.8" r="13.9" fill="#F05555" fill-opacity="0.7"/><circle cx="1652.2" cy="1465.6" r="13.9" fill="#F05555" fill-opacity="0.7"/><circle cx="1636.0" cy="1474.8" r="13.9" fill="#F05555" fill-opacity="0.7"/><circle cx="1534.5" cy="1742.1" r="13.9" fill="#F05555" fill-opacity="0.7"/><circle cx="1511.5" cy="1763.1" r="13.9" fill="#F05555" fill-opacity="0.7"/><circle cx="1420.1" cy="1799.9" r="13.9" fill="#F05555" fill-opacity="0.7"/><circle cx="1426.5" cy="1887.4" r="13.9" fill="#F05555" fill-opacity="0.7"/><circle cx="1776.7" cy="1503.0" r="13.9" fill="#F05555" fill-opacity="0.7"/><circle cx="1878.4" cy="1523.8" r="13.9" fill="#F05555" fill-opacity="0.7"/><circle cx="1838.0" cy="1527.3" r="13.9" fill="#F05555" fill-opacity="0.7"/><circle cx="1836.8" cy="1534.2" r="13.9" fill="#F05555" fill-opacity="0.7"/><circle cx="1809.1" cy="1538.8" r="13.9" fill="#F05555" fill-opacity="0.7"/><circle cx="1781.3" cy="1529.6" r="13.9" fill="#F05555" fill-opacity="0.7"/><circle cx="1776.7" cy="1553.8" r="13.9" fill="#F05555" fill-opacity="0.7"/><circle cx="1791.7" cy="1564.2" r="13.9" fill="#F05555" fill-opacity="0.7"/><circle cx="1749.0" cy="1579.3" r="13.9" fill="#F05555" fill-opacity="0.7"/><circle cx="1838.0" cy="1581.6" r="13.9" fill="#F05555" fill-opacity="0.7"/><circle cx="1724.7" cy="1546.9" r="13.9" fill="#F05555" fill-opacity="0.7"/><circle cx="1701.6" cy="1557.3" r="13.9" fill="#F05555" fill-opacity="0.7"/><circle cx="1680.8" cy="1558.5" r="13.9" fill="#F05555" fill-opacity="0.7"/><circle cx="1673.9" cy="1570.0" r="13.9" fill="#F05555" fill-opacity="0.7"/><circle cx="1736.3" cy="1542.3" r="13.9" fill="#F05555" fill-opacity="0.7"/><circle cx="1720.1" cy="1509.9" r="13.9" fill="#F05555" fill-opacity="0.7"/><circle cx="1736.3" cy="1505.3" r="13.9" fill="#F05555" fill-opacity="0.7"/><circle cx="1710.8" cy="1619.7" r="13.9" fill="#F05555" fill-opacity="0.7"/><circle cx="1717.3" cy="1634.7" r="13.9" fill="#F05555" fill-opacity="0.7"/><circle cx="1761.7" cy="1633.1" r="13.9" fill="#F05555" fill-opacity="0.7"/><circle cx="1655.4" cy="1664.8" r="13.9" fill="#F05555" fill-opacity="0.7"/><circle cx="1687.7" cy="1737.6" r="13.9" fill="#F05555" fill-opacity="0.7"/><circle cx="1660.0" cy="1544.6" r="13.9" fill="#F05555" fill-opacity="0.7"/><circle cx="1754.8" cy="1537.7" r="13.9" fill="#F05555" fill-opacity="0.7"/><circle cx="1742.0" cy="1474.9" r="13.9" fill="#F05555" fill-opacity="0.7"/><circle cx="1744.7" cy="1457.0" r="13.9" fill="#F05555" fill-opacity="0.7"/><circle cx="1748.4" cy="1404.0" r="13.9" fill="#F05555" fill-opacity="0.7"/><circle cx="1690.8" cy="1472.9" r="13.9" fill="#F05555" fill-opacity="0.7"/><circle cx="1779.4" cy="1474.8" r="13.9" fill="#F05555" fill-opacity="0.7"/><circle cx="1772.7" cy="1434.5" r="13.9" fill="#F05555" fill-opacity="0.7"/><circle cx="1690.9" cy="1476.1" r="13.9" fill="#F05555" fill-opacity="0.7"/><circle cx="1701.8" cy="1465.9" r="13.9" fill="#F05555" fill-opacity="0.7"/><circle cx="1764.0" cy="1421.7" r="13.9" fill="#F05555" fill-opacity="0.7"/><circle cx="1776.2" cy="1457.0" r="13.9" fill="#F05555" fill-opacity="0.7"/><circle cx="1768.5" cy="1439.9" r="13.9" fill="#F05555" fill-opacity="0.7"/><circle cx="1749.0" cy="1425.0" r="13.9" fill="#F05555" fill-opacity="0.7"/><circle cx="1703.7" cy="1452.5" r="13.9" fill="#F05555" fill-opacity="0.7"/><circle cx="1752.5" cy="1492.9" r="13.9" fill="#F05555" fill-opacity="0.7"/><circle cx="1752.0" cy="1447.1" r="13.9" fill="#F05555" fill-opacity="0.7"/><circle cx="1758.1" cy="1461.4" r="13.9" fill="#F05555" fill-opacity="0.7"/><circle cx="1726.7" cy="1421.0" r="13.9" fill="#F05555" fill-opacity="0.7"/><circle cx="1762.2" cy="1434.4" r="13.9" fill="#F05555" fill-opacity="0.7"/><circle cx="1720.3" cy="1468.0" r="13.9" fill="#F05555" fill-opacity="0.7"/><circle cx="1758.8" cy="1446.0" r="13.9" fill="#F05555" fill-opacity="0.7"/><circle cx="1779.5" cy="1427.7" r="13.9" fill="#F05555" fill-opacity="0.7"/><circle cx="1719.3" cy="1475.2" r="13.9" fill="#F05555" fill-opacity="0.7"/><circle cx="1761.8" cy="1438.8" r="13.9" fill="#F05555" fill-opacity="0.7"/><circle cx="1743.3" cy="1487.2" r="13.9" fill="#F05555" fill-opacity="0.7"/><circle cx="1778.3" cy="1450.8" r="13.9" fill="#F05555" fill-opacity="0.7"/><circle cx="1759.9" cy="1463.0" r="13.9" fill="#F05555" fill-opacity="0.7"/><circle cx="1724.3" cy="1405.1" r="13.9" fill="#F05555" fill-opacity="0.7"/><circle cx="1762.4" cy="1399.0" r="13.9" fill="#F05555" fill-opacity="0.7"/><circle cx="1698.5" cy="1497.4" r="13.9" fill="#F05555" fill-opacity="0.7"/><circle cx="1738.4" cy="1475.6" r="13.9" fill="#F05555" fill-opacity="0.7"/><circle cx="1718.6" cy="1418.3" r="13.9" fill="#F05555" fill-opacity="0.7"/><circle cx="1721.6" cy="1501.1" r="13.9" fill="#F05555" fill-opacity="0.7"/><circle cx="1698.7" cy="1492.4" r="13.9" fill="#F05555" fill-opacity="0.7"/><circle cx="1788.1" cy="1467.3" r="13.9" fill="#F05555" fill-opacity="0.7"/><circle cx="1708.3" cy="1472.9" r="13.9" fill="#F05555" fill-opacity="0.7"/><circle cx="1791.0" cy="1457.5" r="13.9" fill="#1F77B4" fill-opacity="0.82"/><circle cx="1702.3" cy="1459.4" r="13.9" fill="#1F77B4" fill-opacity="0.82"/><circle cx="1755.4" cy="1396.5" r="13.9" fill="#1F77B4" fill-opacity="0.82"/><circle cx="1707.2" cy="1446.4" r="13.9" fill="#1F77B4" fill-opacity="0.82"/><circle cx="1683.4" cy="1453.8" r="13.9" fill="#1F77B4" fill-opacity="0.82"/><circle cx="1761.3" cy="1426.6" r="13.9" fill="#1F77B4" fill-opacity="0.82"/><circle cx="1749.1" cy="1450.1" r="13.9" fill="#1F77B4" fill-opacity="0.82"/><circle cx="1776.0" cy="1455.6" r="13.9" fill="#1F77B4" fill-opacity="0.82"/><circle cx="1756.5" cy="1454.2" r="13.9" fill="#1F77B4" fill-opacity="0.82"/><circle cx="1688.6" cy="1488.0" r="13.9" fill="#1F77B4" fill-opacity="0.82"/><circle cx="1789.6" cy="1459.3" r="13.9" fill="#1F77B4" fill-opacity="0.82"/><circle cx="1784.7" cy="1469.6" r="13.9" fill="#1F77B4" fill-opacity="0.82"/><circle cx="1772.8" cy="1470.6" r="13.9" fill="#1F77B4" fill-opacity="0.82"/><circle cx="1734.7" cy="1421.5" r="13.9" fill="#1F77B4" fill-opacity="0.82"/><circle cx="1721.0" cy="1495.9" r="13.9" fill="#1F77B4" fill-opacity="0.82"/><circle cx="1733.8" cy="1414.7" r="13.9" fill="#1F77B4" fill-opacity="0.82"/><circle cx="1768.3" cy="1434.4" r="13.9" fill="#1F77B4" fill-opacity="0.82"/><circle cx="1735.2" cy="1467.7" r="13.9" fill="#1F77B4" fill-opacity="0.82"/><circle cx="1709.2" cy="1457.7" r="13.9" fill="#1F77B4" fill-opacity="0.82"/><circle cx="1700.3" cy="1415.9" r="13.9" fill="#1F77B4" fill-opacity="0.82"/><circle cx="1832.2" cy="1294.8" r="13.9" fill="#1F77B4" fill-opacity="0.82"/><circle cx="1761.7" cy="1328.8" r="13.9" fill="#1F77B4" fill-opacity="0.82"/><circle cx="1780.2" cy="1354.2" r="13.9" fill="#1F77B4" fill-opacity="0.82"/><circle cx="1923.5" cy="1342.6" r="13.9" fill="#1F77B4" fill-opacity="0.82"/><circle cx="1700.4" cy="1406.2" r="13.9" fill="#1F77B4" fill-opacity="0.82"/><circle cx="1666.9" cy="1423.5" r="13.9" fill="#1F77B4" fill-opacity="0.82"/><circle cx="1744.4" cy="1414.3" r="13.9" fill="#1F77B4" fill-opacity="0.82"/><circle cx="1902.2" cy="1388.9" r="13.9" fill="#1F77B4" fill-opacity="0.82"/><circle cx="1782.5" cy="1425.8" r="13.9" fill="#1F77B4" fill-opacity="0.82"/><circle cx="1835.6" cy="1432.8" r="13.9" fill="#1F77B4" fill-opacity="0.82"/><circle cx="1751.3" cy="1455.9" r="13.9" fill="#1F77B4" fill-opacity="0.82"/><circle cx="1731.6" cy="1465.1" r="13.9" fill="#1F77B4" fill-opacity="0.82"/><circle cx="1680.8" cy="1453.6" r="13.9" fill="#1F77B4" fill-opacity="0.82"/><circle cx="1666.9" cy="1451.3" r="13.9" fill="#1F77B4" fill-opacity="0.82"/><circle cx="1673.9" cy="1485.9" r="13.9" fill="#1F77B4" fill-opacity="0.82"/><circle cx="1549.3" cy="1425.6" r="13.9" fill="#1F77B4" fill-opacity="0.82"/><circle cx="1488.1" cy="1459.8" r="13.9" fill="#1F77B4" fill-opacity="0.82"/><circle cx="1621.0" cy="1470.2" r="13.9" fill="#1F77B4" fill-opacity="0.82"/><circle cx="1640.6" cy="1454.0" r="13.9" fill="#1F77B4" fill-opacity="0.82"/><circle cx="1654.5" cy="1452.9" r="13.9" fill="#1F77B4" fill-opacity="0.82"/><circle cx="1566.2" cy="1500.2" r="13.9" fill="#1F77B4" fill-opacity="0.82"/><circle cx="1426.4" cy="1528.0" r="13.9" fill="#1F77B4" fill-opacity="0.82"/><circle cx="1632.5" cy="1523.4" r="13.9" fill="#1F77B4" fill-opacity="0.82"/><circle cx="1656.8" cy="1513.0" r="13.9" fill="#1F77B4" fill-opacity="0.82"/><circle cx="1594.4" cy="1553.4" r="13.9" fill="#1F77B4" fill-opacity="0.82"/><circle cx="1592.1" cy="1585.8" r="13.9" fill="#1F77B4" fill-opacity="0.82"/><circle cx="1589.8" cy="1607.2" r="13.9" fill="#1F77B4" fill-opacity="0.82"/><circle cx="1653.3" cy="1585.8" r="13.9" fill="#1F77B4" fill-opacity="0.82"/><circle cx="1547.0" cy="1647.7" r="13.9" fill="#1F77B4" fill-opacity="0.82"/><circle cx="1605.9" cy="1651.6" r="13.9" fill="#1F77B4" fill-opacity="0.82"/><circle cx="1483.8" cy="1733.5" r="13.9" fill="#1F77B4" fill-opacity="0.82"/><circle cx="1485.6" cy="1808.5" r="13.9" fill="#1F77B4" fill-opacity="0.82"/><circle cx="1760.1" cy="1531.4" r="13.9" fill="#1F77B4" fill-opacity="0.82"/><circle cx="1752.4" cy="1546.9" r="13.9" fill="#1F77B4" fill-opacity="0.82"/><circle cx="1692.4" cy="1512.2" r="13.9" fill="#1F77B4" fill-opacity="0.82"/><circle cx="1669.2" cy="1519.2" r="13.9" fill="#1F77B4" fill-opacity="0.82"/>
<path d="M1220.0,1063.4 H2099.9 V1948.6" fill="none" stroke="#262626" stroke-width="3.6"/>
<line x1="1220.0" y1="1061.6000000000001" x2="1220.0" y2="1959.1" stroke="#262626" stroke-width="3.6"/>
<line x1="1209.5" y1="1948.6" x2="2101.7000000000003" y2="1948.6" stroke="#262626" stroke-width="3.6"/>
<line x1="1220.0" y1="1948.60" x2="1209.5" y2="1948.60" stroke="#262626" stroke-width="3.4"/><line x1="1220.0" y1="1895.31" x2="1213.7" y2="1895.31" stroke="#262626" stroke-width="3.0"/><line x1="1220.0" y1="1864.13" x2="1213.7" y2="1864.13" stroke="#262626" stroke-width="3.0"/><line x1="1220.0" y1="1842.01" x2="1213.7" y2="1842.01" stroke="#262626" stroke-width="3.0"/><line x1="1220.0" y1="1824.85" x2="1213.7" y2="1824.85" stroke="#262626" stroke-width="3.0"/><line x1="1220.0" y1="1810.84" x2="1213.7" y2="1810.84" stroke="#262626" stroke-width="3.0"/><line x1="1220.0" y1="1798.98" x2="1213.7" y2="1798.98" stroke="#262626" stroke-width="3.0"/><line x1="1220.0" y1="1788.72" x2="1213.7" y2="1788.72" stroke="#262626" stroke-width="3.0"/><line x1="1220.0" y1="1779.66" x2="1213.7" y2="1779.66" stroke="#262626" stroke-width="3.0"/><line x1="1220.0" y1="1771.56" x2="1209.5" y2="1771.56" stroke="#262626" stroke-width="3.4"/><line x1="1220.0" y1="1718.27" x2="1213.7" y2="1718.27" stroke="#262626" stroke-width="3.0"/><line x1="1220.0" y1="1687.09" x2="1213.7" y2="1687.09" stroke="#262626" stroke-width="3.0"/><line x1="1220.0" y1="1664.97" x2="1213.7" y2="1664.97" stroke="#262626" stroke-width="3.0"/><line x1="1220.0" y1="1647.81" x2="1213.7" y2="1647.81" stroke="#262626" stroke-width="3.0"/><line x1="1220.0" y1="1633.80" x2="1213.7" y2="1633.80" stroke="#262626" stroke-width="3.0"/><line x1="1220.0" y1="1621.94" x2="1213.7" y2="1621.94" stroke="#262626" stroke-width="3.0"/><line x1="1220.0" y1="1611.68" x2="1213.7" y2="1611.68" stroke="#262626" stroke-width="3.0"/><line x1="1220.0" y1="1602.62" x2="1213.7" y2="1602.62" stroke="#262626" stroke-width="3.0"/><line x1="1220.0" y1="1594.52" x2="1209.5" y2="1594.52" stroke="#262626" stroke-width="3.4"/><line x1="1220.0" y1="1541.23" x2="1213.7" y2="1541.23" stroke="#262626" stroke-width="3.0"/><line x1="1220.0" y1="1510.05" x2="1213.7" y2="1510.05" stroke="#262626" stroke-width="3.0"/><line x1="1220.0" y1="1487.93" x2="1213.7" y2="1487.93" stroke="#262626" stroke-width="3.0"/><line x1="1220.0" y1="1470.77" x2="1213.7" y2="1470.77" stroke="#262626" stroke-width="3.0"/><line x1="1220.0" y1="1456.76" x2="1213.7" y2="1456.76" stroke="#262626" stroke-width="3.0"/><line x1="1220.0" y1="1444.90" x2="1213.7" y2="1444.90" stroke="#262626" stroke-width="3.0"/><line x1="1220.0" y1="1434.64" x2="1213.7" y2="1434.64" stroke="#262626" stroke-width="3.0"/><line x1="1220.0" y1="1425.58" x2="1213.7" y2="1425.58" stroke="#262626" stroke-width="3.0"/><line x1="1220.0" y1="1417.48" x2="1209.5" y2="1417.48" stroke="#262626" stroke-width="3.4"/><line x1="1220.0" y1="1364.19" x2="1213.7" y2="1364.19" stroke="#262626" stroke-width="3.0"/><line x1="1220.0" y1="1333.01" x2="1213.7" y2="1333.01" stroke="#262626" stroke-width="3.0"/><line x1="1220.0" y1="1310.89" x2="1213.7" y2="1310.89" stroke="#262626" stroke-width="3.0"/><line x1="1220.0" y1="1293.73" x2="1213.7" y2="1293.73" stroke="#262626" stroke-width="3.0"/><line x1="1220.0" y1="1279.72" x2="1213.7" y2="1279.72" stroke="#262626" stroke-width="3.0"/><line x1="1220.0" y1="1267.86" x2="1213.7" y2="1267.86" stroke="#262626" stroke-width="3.0"/><line x1="1220.0" y1="1257.60" x2="1213.7" y2="1257.60" stroke="#262626" stroke-width="3.0"/><line x1="1220.0" y1="1248.54" x2="1213.7" y2="1248.54" stroke="#262626" stroke-width="3.0"/><line x1="1220.0" y1="1240.44" x2="1209.5" y2="1240.44" stroke="#262626" stroke-width="3.4"/><line x1="1220.0" y1="1187.15" x2="1213.7" y2="1187.15" stroke="#262626" stroke-width="3.0"/><line x1="1220.0" y1="1155.97" x2="1213.7" y2="1155.97" stroke="#262626" stroke-width="3.0"/><line x1="1220.0" y1="1133.85" x2="1213.7" y2="1133.85" stroke="#262626" stroke-width="3.0"/><line x1="1220.0" y1="1116.69" x2="1213.7" y2="1116.69" stroke="#262626" stroke-width="3.0"/><line x1="1220.0" y1="1102.68" x2="1213.7" y2="1102.68" stroke="#262626" stroke-width="3.0"/><line x1="1220.0" y1="1090.82" x2="1213.7" y2="1090.82" stroke="#262626" stroke-width="3.0"/><line x1="1220.0" y1="1080.56" x2="1213.7" y2="1080.56" stroke="#262626" stroke-width="3.0"/><line x1="1220.0" y1="1071.50" x2="1213.7" y2="1071.50" stroke="#262626" stroke-width="3.0"/><line x1="1220.0" y1="1063.40" x2="1209.5" y2="1063.40" stroke="#262626" stroke-width="3.4"/>
<line x1="1220.00" y1="1948.6" x2="1220.00" y2="1959.1" stroke="#262626" stroke-width="3.4"/><line x1="1272.98" y1="1948.6" x2="1272.98" y2="1954.8999999999999" stroke="#262626" stroke-width="3.0"/><line x1="1303.96" y1="1948.6" x2="1303.96" y2="1954.8999999999999" stroke="#262626" stroke-width="3.0"/><line x1="1325.95" y1="1948.6" x2="1325.95" y2="1954.8999999999999" stroke="#262626" stroke-width="3.0"/><line x1="1343.00" y1="1948.6" x2="1343.00" y2="1954.8999999999999" stroke="#262626" stroke-width="3.0"/><line x1="1356.94" y1="1948.6" x2="1356.94" y2="1954.8999999999999" stroke="#262626" stroke-width="3.0"/><line x1="1368.72" y1="1948.6" x2="1368.72" y2="1954.8999999999999" stroke="#262626" stroke-width="3.0"/><line x1="1378.93" y1="1948.6" x2="1378.93" y2="1954.8999999999999" stroke="#262626" stroke-width="3.0"/><line x1="1387.93" y1="1948.6" x2="1387.93" y2="1954.8999999999999" stroke="#262626" stroke-width="3.0"/><line x1="1395.98" y1="1948.6" x2="1395.98" y2="1959.1" stroke="#262626" stroke-width="3.4"/><line x1="1448.96" y1="1948.6" x2="1448.96" y2="1954.8999999999999" stroke="#262626" stroke-width="3.0"/><line x1="1479.94" y1="1948.6" x2="1479.94" y2="1954.8999999999999" stroke="#262626" stroke-width="3.0"/><line x1="1501.93" y1="1948.6" x2="1501.93" y2="1954.8999999999999" stroke="#262626" stroke-width="3.0"/><line x1="1518.98" y1="1948.6" x2="1518.98" y2="1954.8999999999999" stroke="#262626" stroke-width="3.0"/><line x1="1532.92" y1="1948.6" x2="1532.92" y2="1954.8999999999999" stroke="#262626" stroke-width="3.0"/><line x1="1544.70" y1="1948.6" x2="1544.70" y2="1954.8999999999999" stroke="#262626" stroke-width="3.0"/><line x1="1554.91" y1="1948.6" x2="1554.91" y2="1954.8999999999999" stroke="#262626" stroke-width="3.0"/><line x1="1563.91" y1="1948.6" x2="1563.91" y2="1954.8999999999999" stroke="#262626" stroke-width="3.0"/><line x1="1571.96" y1="1948.6" x2="1571.96" y2="1959.1" stroke="#262626" stroke-width="3.4"/><line x1="1624.94" y1="1948.6" x2="1624.94" y2="1954.8999999999999" stroke="#262626" stroke-width="3.0"/><line x1="1655.92" y1="1948.6" x2="1655.92" y2="1954.8999999999999" stroke="#262626" stroke-width="3.0"/><line x1="1677.91" y1="1948.6" x2="1677.91" y2="1954.8999999999999" stroke="#262626" stroke-width="3.0"/><line x1="1694.96" y1="1948.6" x2="1694.96" y2="1954.8999999999999" stroke="#262626" stroke-width="3.0"/><line x1="1708.90" y1="1948.6" x2="1708.90" y2="1954.8999999999999" stroke="#262626" stroke-width="3.0"/><line x1="1720.68" y1="1948.6" x2="1720.68" y2="1954.8999999999999" stroke="#262626" stroke-width="3.0"/><line x1="1730.89" y1="1948.6" x2="1730.89" y2="1954.8999999999999" stroke="#262626" stroke-width="3.0"/><line x1="1739.89" y1="1948.6" x2="1739.89" y2="1954.8999999999999" stroke="#262626" stroke-width="3.0"/><line x1="1747.94" y1="1948.6" x2="1747.94" y2="1959.1" stroke="#262626" stroke-width="3.4"/><line x1="1800.92" y1="1948.6" x2="1800.92" y2="1954.8999999999999" stroke="#262626" stroke-width="3.0"/><line x1="1831.90" y1="1948.6" x2="1831.90" y2="1954.8999999999999" stroke="#262626" stroke-width="3.0"/><line x1="1853.89" y1="1948.6" x2="1853.89" y2="1954.8999999999999" stroke="#262626" stroke-width="3.0"/><line x1="1870.94" y1="1948.6" x2="1870.94" y2="1954.8999999999999" stroke="#262626" stroke-width="3.0"/><line x1="1884.88" y1="1948.6" x2="1884.88" y2="1954.8999999999999" stroke="#262626" stroke-width="3.0"/><line x1="1896.66" y1="1948.6" x2="1896.66" y2="1954.8999999999999" stroke="#262626" stroke-width="3.0"/><line x1="1906.87" y1="1948.6" x2="1906.87" y2="1954.8999999999999" stroke="#262626" stroke-width="3.0"/><line x1="1915.87" y1="1948.6" x2="1915.87" y2="1954.8999999999999" stroke="#262626" stroke-width="3.0"/><line x1="1923.92" y1="1948.6" x2="1923.92" y2="1959.1" stroke="#262626" stroke-width="3.4"/><line x1="1976.90" y1="1948.6" x2="1976.90" y2="1954.8999999999999" stroke="#262626" stroke-width="3.0"/><line x1="2007.88" y1="1948.6" x2="2007.88" y2="1954.8999999999999" stroke="#262626" stroke-width="3.0"/><line x1="2029.87" y1="1948.6" x2="2029.87" y2="1954.8999999999999" stroke="#262626" stroke-width="3.0"/><line x1="2046.92" y1="1948.6" x2="2046.92" y2="1954.8999999999999" stroke="#262626" stroke-width="3.0"/><line x1="2060.86" y1="1948.6" x2="2060.86" y2="1954.8999999999999" stroke="#262626" stroke-width="3.0"/><line x1="2072.64" y1="1948.6" x2="2072.64" y2="1954.8999999999999" stroke="#262626" stroke-width="3.0"/><line x1="2082.85" y1="1948.6" x2="2082.85" y2="1954.8999999999999" stroke="#262626" stroke-width="3.0"/><line x1="2091.85" y1="1948.6" x2="2091.85" y2="1954.8999999999999" stroke="#262626" stroke-width="3.0"/><line x1="2099.90" y1="1948.6" x2="2099.90" y2="1959.1" stroke="#262626" stroke-width="3.4"/>
<text x="1182" y="1966.1" font-size="33.5" fill="#262626" text-anchor="end">10</text><text x="1183.5" y="1948.6" font-size="24" fill="#262626">0</text>
<text x="1212.5" y="2012.7" font-size="33.5" fill="#262626" text-anchor="middle">10</text><text x="1231.8" y="1996.8" font-size="24" fill="#262626">0</text>
<text x="1182" y="1789.06" font-size="33.5" fill="#262626" text-anchor="end">10</text><text x="1183.5" y="1771.56" font-size="24" fill="#262626">1</text>
<text x="1391.08" y="2012.7" font-size="33.5" fill="#262626" text-anchor="middle">10</text><text x="1410.3799999999999" y="1996.8" font-size="24" fill="#262626">1</text>
<text x="1182" y="1612.02" font-size="33.5" fill="#262626" text-anchor="end">10</text><text x="1183.5" y="1594.52" font-size="24" fill="#262626">2</text>
<text x="1568.46" y="2012.7" font-size="33.5" fill="#262626" text-anchor="middle">10</text><text x="1587.76" y="1996.8" font-size="24" fill="#262626">2</text>
<text x="1182" y="1434.98" font-size="33.5" fill="#262626" text-anchor="end">10</text><text x="1183.5" y="1417.48" font-size="24" fill="#262626">3</text>
<text x="1740.44" y="2012.7" font-size="33.5" fill="#262626" text-anchor="middle">10</text><text x="1759.74" y="1996.8" font-size="24" fill="#262626">3</text>
<text x="1182" y="1257.94" font-size="33.5" fill="#262626" text-anchor="end">10</text><text x="1183.5" y="1240.44" font-size="24" fill="#262626">4</text>
<text x="1914.52" y="2012.7" font-size="33.5" fill="#262626" text-anchor="middle">10</text><text x="1933.82" y="1996.8" font-size="24" fill="#262626">4</text>
<text x="1182" y="1080.9" font-size="33.5" fill="#262626" text-anchor="end">10</text><text x="1183.5" y="1063.4" font-size="24" fill="#262626">5</text>
<text x="2092.5" y="2012.7" font-size="33.5" fill="#262626" text-anchor="middle">10</text><text x="2111.8" y="1996.8" font-size="24" fill="#262626">5</text>
<text x="1668.1" y="2064.4" font-size="41" fill="#262626" text-anchor="middle">CO<tspan font-size="22" dy="13.5" dx="2">2</tspan><tspan dy="-13.5" dx="3"> emissions (kt)</tspan></text>
<text transform="translate(1122,1495.4) rotate(-90)" font-size="41" fill="#262626" text-anchor="middle">Crude steel production (kt)</text>
<text x="1250" y="1130.7" font-size="59" fill="#000">c</text>
<circle cx="1275.9" cy="1191.4" r="13.7" fill="#F05555" fill-opacity="0.7"/><circle cx="1275.9" cy="1247.8" r="13.7" fill="#1F77B4" fill-opacity="0.82"/>
<g font-size="37.5" fill="#000"><text x="1324.5" y="1207">BOF/OHF primary</text><text x="1324.5" y="1262.5">EAF primary</text></g>
<g font-size="41" font-style="italic" fill="#000"><text x="1654.7" y="1787.5">n=55</text><text x="1654.7" y="1845">3.0% of production</text><text x="1654.7" y="1899.3">9.3% of CO<tspan font-size="21" dy="14">2</tspan></text></g>
</g>
</svg></body></html>
